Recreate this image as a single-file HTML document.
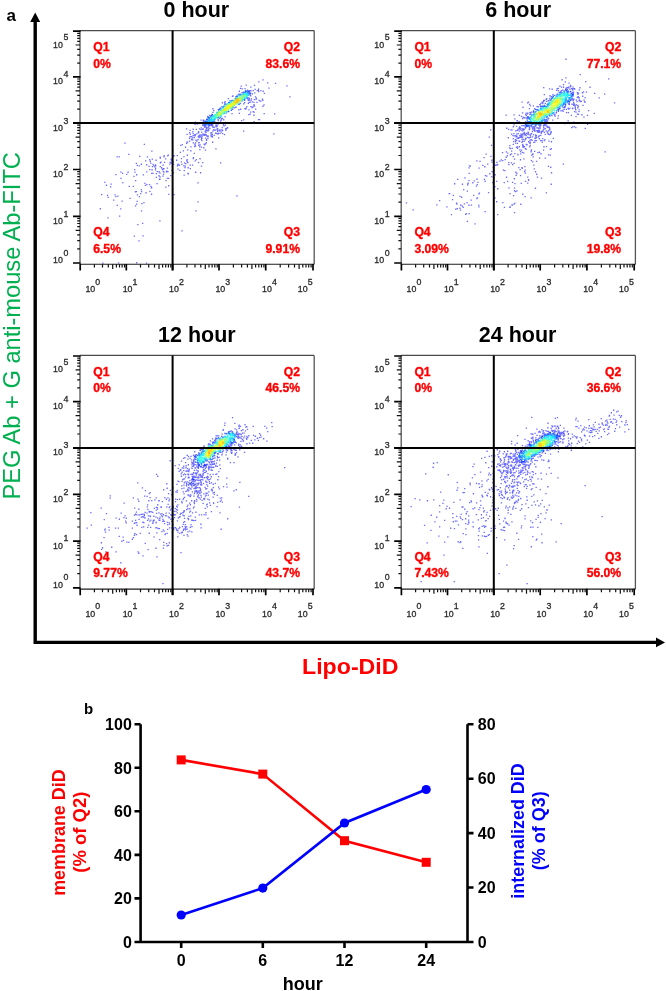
<!DOCTYPE html>
<html><head><meta charset="utf-8"><style>
html,body{margin:0;padding:0;background:#fff;width:666px;height:991px;overflow:hidden}
svg{display:block;will-change:transform}
text{font-family:"Liberation Sans",sans-serif}
</style></head><body>
<svg width="666" height="991" viewBox="0 0 666 991">
<path d="M35.2 22 V642.4 H656" fill="none" stroke="#000" stroke-width="3.4"/>
<path d="M35.2 12.5 L30.2 22 L40.2 22 Z" fill="#000"/>
<path d="M665 642.4 L656 637.6 L656 647.2 Z" fill="#000"/>
<text x="6.5" y="20.7" font-weight="700" font-size="17" fill="#000">a</text>
<text transform="translate(19.6,499.6) rotate(-90)" font-size="23.4" fill="#00B050" textLength="347.5" lengthAdjust="spacingAndGlyphs">PEG Ab + G anti-mouse Ab-FITC</text>
<text x="302" y="673.8" font-weight="700" font-size="22.5" fill="#FF0000" textLength="96.5" lengthAdjust="spacingAndGlyphs">Lipo-DiD</text>
<g transform="translate(0,0)"><g transform="translate(80,30.9)"><path fill="#4646ff" fill-opacity="0.8" d="M65.9 231.6h1.3v1.3h-1.3zM22.3 231.5h1.3v1.3h-1.3zM58.4 209.3h1.3v1.3h-1.3zM56.0 231.2h1.3v1.3h-1.3zM37.9 231.3h1.3v1.3h-1.3zM79.3 189.3h1.3v1.3h-1.3zM101.3 199.3h1.3v1.3h-1.3zM60.9 179.3h1.3v1.3h-1.3zM27.3 186.3h1.3v1.3h-1.3zM117.3 151.3h1.3v1.3h-1.3zM115.3 179.3h1.3v1.3h-1.3zM156.3 164.3h1.3v1.3h-1.3zM193.2 102.3h1.3v1.3h-1.3zM194.0 82.3h1.3v1.3h-1.3zM59.1 124.9h1.3v1.3h-1.3zM209.3 65.3h1.3v1.3h-1.3zM206.3 54.4h1.3v1.3h-1.3zM21.0 163.1h1.3v1.3h-1.3zM194.9 51.9h1.3v1.3h-1.3zM88.0 154.2h1.3v1.3h-1.3zM151.4 82.0h1.3v1.3h-1.3zM86.8 136.6h1.3v1.3h-1.3zM91.9 157.5h1.3v1.3h-1.3zM53.3 144.8h1.3v1.3h-1.3zM138.0 106.4h1.3v1.3h-1.3zM62.4 204.3h1.3v1.3h-1.3zM85.2 155.5h1.3v1.3h-1.3zM33.1 168.5h1.3v1.3h-1.3zM30.5 152.6h1.3v1.3h-1.3zM48.2 122.8h1.3v1.3h-1.3zM19.7 177.2h1.3v1.3h-1.3zM41.5 169.5h1.3v1.3h-1.3zM25.8 153.7h1.3v1.3h-1.3zM88.2 162.8h1.3v1.3h-1.3zM44.3 111.5h1.3v1.3h-1.3zM49.4 166.9h1.3v1.3h-1.3zM57.2 193.1h1.3v1.3h-1.3zM48.6 154.9h1.3v1.3h-1.3zM135.3 117.3h1.3v1.3h-1.3zM132.0 110.7h1.3v1.3h-1.3zM173.8 53.8h1.3v1.3h-1.3zM188.3 56.5h1.3v1.3h-1.3zM173.5 90.2h1.3v1.3h-1.3zM119.4 127.2h1.3v1.3h-1.3zM158.7 81.9h1.3v1.3h-1.3zM115.0 140.7h1.3v1.3h-1.3zM113.7 121.8h1.3v1.3h-1.3zM163.0 99.6h1.3v1.3h-1.3zM181.5 91.3h1.3v1.3h-1.3zM140.0 131.4h1.3v1.3h-1.3zM122.1 131.1h1.3v1.3h-1.3zM119.9 141.2h1.3v1.3h-1.3zM106.7 123.7h1.3v1.3h-1.3zM120.8 134.5h1.3v1.3h-1.3zM178.2 50.3h1.3v1.3h-1.3zM71.2 119.6h1.3v1.3h-1.3zM75.4 128.7h1.3v1.3h-1.3zM96.0 128.7h1.3v1.3h-1.3zM92.0 118.7h1.3v1.3h-1.3zM187.1 51.4h1.3v1.3h-1.3zM183.5 82.0h1.3v1.3h-1.3zM182.3 48.4h1.3v1.3h-1.3zM36.6 173.9h1.3v1.3h-1.3zM24.2 150.9h1.3v1.3h-1.3zM35.2 143.0h1.3v1.3h-1.3zM40.4 146.8h1.3v1.3h-1.3zM76.4 152.1h1.3v1.3h-1.3zM63.7 112.8h1.3v1.3h-1.3zM42.2 151.0h1.3v1.3h-1.3zM93.4 163.1h1.3v1.3h-1.3zM62.7 143.3h1.3v1.3h-1.3zM117.4 170.4h1.3v1.3h-1.3zM62.0 191.8h1.3v1.3h-1.3zM55.0 149.0h1.3v1.3h-1.3zM40.1 177.3h1.3v1.3h-1.3zM30.0 155.4h1.3v1.3h-1.3zM53.7 204.6h1.3v1.3h-1.3zM39.0 184.6h1.3v1.3h-1.3zM52.7 154.9h1.3v1.3h-1.3zM71.0 141.9h1.3v1.3h-1.3zM46.1 142.8h1.3v1.3h-1.3zM55.8 160.1h1.3v1.3h-1.3zM56.0 143.2h1.3v1.3h-1.3zM56.5 169.8h1.3v1.3h-1.3zM90.2 144.1h1.3v1.3h-1.3zM56.8 163.4h1.3v1.3h-1.3zM27.5 165.9h1.3v1.3h-1.3zM160.0 77.7h1.3v1.3h-1.3zM100.1 113.9h1.3v1.3h-1.3zM103.6 139.0h1.3v1.3h-1.3zM79.7 126.6h1.3v1.3h-1.3zM177.9 88.0h1.3v1.3h-1.3zM83.9 130.9h1.3v1.3h-1.3zM117.9 131.1h1.3v1.3h-1.3zM165.5 53.5h1.3v1.3h-1.3zM60.7 132.7h1.3v1.3h-1.3zM110.3 115.4h1.3v1.3h-1.3zM124.8 118.6h1.3v1.3h-1.3zM96.7 124.1h1.3v1.3h-1.3zM161.0 89.1h1.3v1.3h-1.3zM110.2 119.2h1.3v1.3h-1.3zM107.2 118.4h1.3v1.3h-1.3zM103.5 143.5h1.3v1.3h-1.3zM97.4 137.5h1.3v1.3h-1.3zM173.3 83.7h1.3v1.3h-1.3zM85.0 127.4h1.3v1.3h-1.3zM183.7 61.9h1.3v1.3h-1.3zM99.7 120.8h1.3v1.3h-1.3zM101.6 113.1h1.3v1.3h-1.3zM105.9 97.4h1.3v1.3h-1.3zM143.9 103.0h1.3v1.3h-1.3zM91.3 138.7h1.3v1.3h-1.3zM92.8 141.3h1.3v1.3h-1.3zM182.3 74.7h1.3v1.3h-1.3zM178.9 88.1h1.3v1.3h-1.3zM87.7 123.6h1.3v1.3h-1.3zM183.4 73.3h1.3v1.3h-1.3zM69.1 138.1h1.3v1.3h-1.3zM100.8 127.1h1.3v1.3h-1.3zM119.2 118.0h1.3v1.3h-1.3zM106.5 102.9h1.3v1.3h-1.3zM70.9 162.7h1.3v1.3h-1.3zM65.4 161.2h1.3v1.3h-1.3zM79.5 125.5h1.3v1.3h-1.3zM65.0 129.4h1.3v1.3h-1.3zM36.5 125.3h1.3v1.3h-1.3zM54.0 138.0h1.3v1.3h-1.3zM60.7 158.1h1.3v1.3h-1.3zM61.2 172.0h1.3v1.3h-1.3zM63.3 171.0h1.3v1.3h-1.3zM40.3 140.5h1.3v1.3h-1.3zM71.7 127.6h1.3v1.3h-1.3zM132.3 77.2h1.3v1.3h-1.3zM80.4 130.6h1.3v1.3h-1.3zM54.8 160.2h1.3v1.3h-1.3zM54.9 174.3h1.3v1.3h-1.3zM26.9 163.8h1.3v1.3h-1.3zM47.4 140.7h1.3v1.3h-1.3zM163.7 91.0h1.3v1.3h-1.3zM107.7 142.2h1.3v1.3h-1.3zM103.3 125.1h1.3v1.3h-1.3zM99.2 138.8h1.3v1.3h-1.3zM38.6 125.4h1.3v1.3h-1.3zM66.8 125.4h1.3v1.3h-1.3zM79.8 131.2h1.3v1.3h-1.3zM72.4 141.8h1.3v1.3h-1.3zM41.9 141.8h1.3v1.3h-1.3zM66.1 140.4h1.3v1.3h-1.3zM118.4 92.1h1.3v1.3h-1.3zM112.8 126.2h1.3v1.3h-1.3zM173.4 80.7h1.3v1.3h-1.3zM163.1 88.3h1.3v1.3h-1.3zM104.9 115.7h1.3v1.3h-1.3zM111.9 133.5h1.3v1.3h-1.3zM107.5 136.2h1.3v1.3h-1.3zM112.6 127.0h1.3v1.3h-1.3zM112.6 97.7h1.3v1.3h-1.3zM54.4 140.6h1.3v1.3h-1.3zM71.0 156.0h1.3v1.3h-1.3zM168.2 83.1h1.3v1.3h-1.3zM85.4 149.1h1.3v1.3h-1.3zM64.8 153.9h1.3v1.3h-1.3zM34.4 163.3h1.3v1.3h-1.3zM86.6 146.8h1.3v1.3h-1.3zM64.3 151.8h1.3v1.3h-1.3zM182.6 59.7h1.3v1.3h-1.3zM165.0 77.6h1.3v1.3h-1.3zM145.1 90.9h1.3v1.3h-1.3zM37.2 164.5h1.3v1.3h-1.3zM168.3 78.4h1.3v1.3h-1.3zM100.7 130.3h1.3v1.3h-1.3zM159.9 56.8h1.3v1.3h-1.3zM123.2 116.2h1.3v1.3h-1.3zM79.4 147.6h1.3v1.3h-1.3zM68.9 153.1h1.3v1.3h-1.3zM70.7 156.2h1.3v1.3h-1.3zM133.1 79.1h1.3v1.3h-1.3zM60.9 160.1h1.3v1.3h-1.3zM55.7 131.9h1.3v1.3h-1.3zM69.3 159.8h1.3v1.3h-1.3zM56.6 133.8h1.3v1.3h-1.3zM58.7 165.1h1.3v1.3h-1.3zM35.3 165.0h1.3v1.3h-1.3zM83.5 124.2h1.3v1.3h-1.3zM107.3 141.8h1.3v1.3h-1.3zM93.0 124.6h1.3v1.3h-1.3zM115.7 128.0h1.3v1.3h-1.3zM160.6 54.6h1.3v1.3h-1.3zM174.8 65.3h1.3v1.3h-1.3zM102.7 119.3h1.3v1.3h-1.3zM114.7 90.6h1.3v1.3h-1.3zM158.2 78.2h1.3v1.3h-1.3zM59.9 162.0h1.3v1.3h-1.3zM147.7 67.1h1.3v1.3h-1.3zM114.4 92.7h1.3v1.3h-1.3zM68.5 134.9h1.3v1.3h-1.3zM56.0 172.5h1.3v1.3h-1.3zM83.4 125.2h1.3v1.3h-1.3zM91.6 135.0h1.3v1.3h-1.3zM69.1 128.0h1.3v1.3h-1.3zM71.4 138.2h1.3v1.3h-1.3zM66.0 133.2h1.3v1.3h-1.3zM66.2 153.0h1.3v1.3h-1.3zM74.8 138.3h1.3v1.3h-1.3zM89.2 132.5h1.3v1.3h-1.3zM88.0 146.8h1.3v1.3h-1.3zM116.6 92.6h1.3v1.3h-1.3zM164.2 77.1h1.3v1.3h-1.3zM82.3 144.6h1.3v1.3h-1.3zM58.6 134.3h1.3v1.3h-1.3zM79.0 147.9h1.3v1.3h-1.3zM109.6 133.5h1.3v1.3h-1.3zM124.0 113.3h1.3v1.3h-1.3zM166.2 75.0h1.3v1.3h-1.3zM109.4 98.8h1.3v1.3h-1.3zM97.2 132.5h1.3v1.3h-1.3zM76.6 140.0h1.3v1.3h-1.3zM96.8 134.2h1.3v1.3h-1.3zM70.4 154.9h1.3v1.3h-1.3zM78.5 140.2h1.3v1.3h-1.3zM182.1 68.7h1.3v1.3h-1.3zM85.9 140.2h1.3v1.3h-1.3zM93.5 124.0h1.3v1.3h-1.3zM125.1 112.2h1.3v1.3h-1.3zM106.1 111.8h1.3v1.3h-1.3zM119.0 97.3h1.3v1.3h-1.3zM75.8 142.1h1.3v1.3h-1.3zM114.5 129.3h1.3v1.3h-1.3zM86.1 139.6h1.3v1.3h-1.3zM87.3 140.0h1.3v1.3h-1.3zM104.3 136.0h1.3v1.3h-1.3zM106.4 110.6h1.3v1.3h-1.3zM109.7 137.1h1.3v1.3h-1.3zM142.0 102.0h1.3v1.3h-1.3zM123.5 112.6h1.3v1.3h-1.3zM87.0 124.3h1.3v1.3h-1.3zM181.8 67.5h1.3v1.3h-1.3zM170.2 55.5h1.3v1.3h-1.3zM174.5 57.8h1.3v1.3h-1.3zM75.7 145.8h1.3v1.3h-1.3zM107.0 110.5h1.3v1.3h-1.3zM104.7 134.6h1.3v1.3h-1.3zM78.8 147.7h1.3v1.3h-1.3zM167.7 71.8h1.3v1.3h-1.3zM170.0 80.6h1.3v1.3h-1.3zM155.5 75.6h1.3v1.3h-1.3zM103.2 134.4h1.3v1.3h-1.3zM98.8 133.7h1.3v1.3h-1.3zM126.0 108.7h1.3v1.3h-1.3zM169.5 82.6h1.3v1.3h-1.3zM163.0 72.3h1.3v1.3h-1.3zM115.7 97.9h1.3v1.3h-1.3zM125.8 108.2h1.3v1.3h-1.3zM108.9 106.8h1.3v1.3h-1.3zM82.7 140.1h1.3v1.3h-1.3zM101.2 132.8h1.3v1.3h-1.3zM172.6 59.0h1.3v1.3h-1.3zM91.7 126.9h1.3v1.3h-1.3zM179.5 69.5h1.3v1.3h-1.3zM180.2 69.6h1.3v1.3h-1.3zM114.5 113.8h1.3v1.3h-1.3zM142.9 93.2h1.3v1.3h-1.3zM165.6 76.6h1.3v1.3h-1.3zM114.8 114.6h1.3v1.3h-1.3zM78.4 144.2h1.3v1.3h-1.3zM174.1 61.3h1.3v1.3h-1.3zM161.6 57.3h1.3v1.3h-1.3zM178.0 60.0h1.3v1.3h-1.3zM114.1 115.1h1.3v1.3h-1.3zM69.6 129.7h1.3v1.3h-1.3zM177.9 57.7h1.3v1.3h-1.3zM180.2 59.1h1.3v1.3h-1.3zM177.7 59.1h1.3v1.3h-1.3zM172.6 80.1h1.3v1.3h-1.3zM141.8 71.2h1.3v1.3h-1.3zM164.4 57.0h1.3v1.3h-1.3zM79.4 145.3h1.3v1.3h-1.3zM109.0 101.0h1.3v1.3h-1.3zM120.4 88.5h1.3v1.3h-1.3zM106.3 128.8h1.3v1.3h-1.3zM145.4 97.8h1.3v1.3h-1.3zM139.4 101.8h1.3v1.3h-1.3zM152.4 64.3h1.3v1.3h-1.3zM119.5 113.3h1.3v1.3h-1.3zM118.3 113.6h1.3v1.3h-1.3zM97.6 133.3h1.3v1.3h-1.3zM112.2 100.1h1.3v1.3h-1.3zM82.9 142.8h1.3v1.3h-1.3zM119.0 115.3h1.3v1.3h-1.3zM120.8 115.5h1.3v1.3h-1.3zM175.0 77.6h1.3v1.3h-1.3zM176.7 59.1h1.3v1.3h-1.3zM131.5 105.6h1.3v1.3h-1.3zM106.5 128.1h1.3v1.3h-1.3zM176.3 70.8h1.3v1.3h-1.3zM175.5 67.5h1.3v1.3h-1.3zM170.3 75.0h1.3v1.3h-1.3zM173.4 73.2h1.3v1.3h-1.3zM178.5 68.8h1.3v1.3h-1.3zM109.0 109.6h1.3v1.3h-1.3zM173.9 74.6h1.3v1.3h-1.3zM175.8 66.7h1.3v1.3h-1.3zM70.0 131.5h1.3v1.3h-1.3zM151.8 64.9h1.3v1.3h-1.3zM120.6 96.3h1.3v1.3h-1.3zM158.7 59.7h1.3v1.3h-1.3zM118.1 113.7h1.3v1.3h-1.3zM125.7 111.1h1.3v1.3h-1.3zM133.1 98.2h1.3v1.3h-1.3zM118.1 111.4h1.3v1.3h-1.3zM173.7 68.1h1.3v1.3h-1.3zM105.2 132.0h1.3v1.3h-1.3zM114.2 112.5h1.3v1.3h-1.3zM171.5 75.6h1.3v1.3h-1.3zM110.9 107.7h1.3v1.3h-1.3zM112.2 108.4h1.3v1.3h-1.3zM92.9 132.9h1.3v1.3h-1.3zM90.4 127.9h1.3v1.3h-1.3zM79.4 141.5h1.3v1.3h-1.3zM82.1 138.4h1.3v1.3h-1.3zM107.3 131.1h1.3v1.3h-1.3zM83.4 140.5h1.3v1.3h-1.3zM74.2 135.3h1.3v1.3h-1.3zM112.7 111.3h1.3v1.3h-1.3zM82.6 133.6h1.3v1.3h-1.3zM79.6 135.0h1.3v1.3h-1.3zM132.3 80.8h1.3v1.3h-1.3zM74.9 133.4h1.3v1.3h-1.3zM75.1 134.2h1.3v1.3h-1.3zM90.8 128.6h1.3v1.3h-1.3zM141.5 98.4h1.3v1.3h-1.3zM110.8 105.1h1.3v1.3h-1.3zM142.0 99.0h1.3v1.3h-1.3zM140.2 98.3h1.3v1.3h-1.3zM133.6 103.9h1.3v1.3h-1.3zM109.6 102.7h1.3v1.3h-1.3zM111.3 108.3h1.3v1.3h-1.3zM114.9 111.4h1.3v1.3h-1.3zM106.3 129.7h1.3v1.3h-1.3zM115.3 108.7h1.3v1.3h-1.3zM103.9 131.3h1.3v1.3h-1.3zM117.3 108.0h1.3v1.3h-1.3zM109.4 105.2h1.3v1.3h-1.3zM173.2 73.6h1.3v1.3h-1.3zM107.0 130.9h1.3v1.3h-1.3zM82.4 133.6h1.3v1.3h-1.3zM171.5 76.0h1.3v1.3h-1.3zM175.3 67.6h1.3v1.3h-1.3zM172.6 75.4h1.3v1.3h-1.3zM75.0 136.9h1.3v1.3h-1.3zM141.6 96.1h1.3v1.3h-1.3zM130.4 103.8h1.3v1.3h-1.3zM137.5 101.6h1.3v1.3h-1.3zM146.5 96.6h1.3v1.3h-1.3zM147.0 96.2h1.3v1.3h-1.3zM92.4 130.4h1.3v1.3h-1.3zM83.0 137.2h1.3v1.3h-1.3zM121.2 109.1h1.3v1.3h-1.3zM130.7 105.1h1.3v1.3h-1.3zM135.0 101.7h1.3v1.3h-1.3zM144.8 93.6h1.3v1.3h-1.3zM130.6 103.4h1.3v1.3h-1.3zM132.2 99.5h1.3v1.3h-1.3zM135.5 101.9h1.3v1.3h-1.3zM138.6 98.7h1.3v1.3h-1.3zM71.8 135.0h1.3v1.3h-1.3zM120.8 107.8h1.3v1.3h-1.3zM118.1 101.3h1.3v1.3h-1.3zM117.9 100.2h1.3v1.3h-1.3zM136.6 102.4h1.3v1.3h-1.3zM91.3 131.6h1.3v1.3h-1.3zM145.7 96.9h1.3v1.3h-1.3zM143.1 88.2h1.3v1.3h-1.3zM143.4 94.6h1.3v1.3h-1.3zM171.6 70.3h1.3v1.3h-1.3zM91.5 129.7h1.3v1.3h-1.3zM116.1 109.5h1.3v1.3h-1.3zM168.5 70.9h1.3v1.3h-1.3zM173.3 70.9h1.3v1.3h-1.3zM139.9 89.6h1.3v1.3h-1.3zM117.7 101.2h1.3v1.3h-1.3zM81.0 136.0h1.3v1.3h-1.3zM83.3 137.1h1.3v1.3h-1.3zM72.4 132.8h1.3v1.3h-1.3zM73.2 134.1h1.3v1.3h-1.3zM81.4 137.3h1.3v1.3h-1.3zM137.7 91.7h1.3v1.3h-1.3zM137.8 102.2h1.3v1.3h-1.3zM118.5 111.0h1.3v1.3h-1.3zM171.7 62.3h1.3v1.3h-1.3zM121.0 100.5h1.3v1.3h-1.3zM89.5 130.8h1.3v1.3h-1.3zM127.1 84.8h1.3v1.3h-1.3zM130.0 101.6h1.3v1.3h-1.3zM131.0 101.2h1.3v1.3h-1.3zM114.7 103.0h1.3v1.3h-1.3zM90.2 131.3h1.3v1.3h-1.3zM136.3 97.5h1.3v1.3h-1.3zM120.4 98.0h1.3v1.3h-1.3zM122.0 97.7h1.3v1.3h-1.3zM144.4 85.0h1.3v1.3h-1.3zM137.1 98.5h1.3v1.3h-1.3zM145.2 98.9h1.3v1.3h-1.3zM131.8 104.7h1.3v1.3h-1.3zM144.0 71.3h1.3v1.3h-1.3zM140.7 100.6h1.3v1.3h-1.3zM127.3 106.8h1.3v1.3h-1.3zM134.1 98.6h1.3v1.3h-1.3zM114.1 104.0h1.3v1.3h-1.3zM117.4 108.2h1.3v1.3h-1.3zM113.7 103.4h1.3v1.3h-1.3zM131.7 102.8h1.3v1.3h-1.3zM134.8 98.6h1.3v1.3h-1.3zM114.5 104.4h1.3v1.3h-1.3zM169.5 70.7h1.3v1.3h-1.3zM114.4 104.0h1.3v1.3h-1.3zM125.0 106.6h1.3v1.3h-1.3zM113.6 106.0h1.3v1.3h-1.3zM122.6 88.7h1.3v1.3h-1.3zM164.0 71.0h1.3v1.3h-1.3zM144.4 70.2h1.3v1.3h-1.3zM127.6 104.6h1.3v1.3h-1.3zM112.4 101.9h1.3v1.3h-1.3zM145.0 97.0h1.3v1.3h-1.3zM170.4 68.9h1.3v1.3h-1.3zM170.9 67.4h1.3v1.3h-1.3zM132.3 95.7h1.3v1.3h-1.3zM137.3 92.6h1.3v1.3h-1.3zM122.6 97.3h1.3v1.3h-1.3zM141.2 75.0h1.3v1.3h-1.3zM126.3 104.6h1.3v1.3h-1.3zM135.6 92.0h1.3v1.3h-1.3zM127.2 105.0h1.3v1.3h-1.3zM167.4 68.2h1.3v1.3h-1.3zM118.3 104.2h1.3v1.3h-1.3zM137.0 97.0h1.3v1.3h-1.3zM118.2 105.2h1.3v1.3h-1.3zM170.3 59.2h1.3v1.3h-1.3zM168.0 68.7h1.3v1.3h-1.3zM168.8 68.2h1.3v1.3h-1.3zM125.1 98.6h1.3v1.3h-1.3zM126.3 104.3h1.3v1.3h-1.3zM119.3 103.7h1.3v1.3h-1.3zM136.9 99.7h1.3v1.3h-1.3zM112.4 104.2h1.3v1.3h-1.3zM117.6 105.2h1.3v1.3h-1.3zM119.2 104.1h1.3v1.3h-1.3zM135.4 92.1h1.3v1.3h-1.3zM139.3 99.5h1.3v1.3h-1.3zM128.1 98.6h1.3v1.3h-1.3zM127.6 98.6h1.3v1.3h-1.3zM112.0 106.3h1.3v1.3h-1.3zM136.0 93.8h1.3v1.3h-1.3zM135.8 95.3h1.3v1.3h-1.3zM127.5 99.3h1.3v1.3h-1.3zM124.8 100.5h1.3v1.3h-1.3zM170.0 64.3h1.3v1.3h-1.3zM140.6 87.4h1.3v1.3h-1.3zM170.0 64.2h1.3v1.3h-1.3zM136.8 94.6h1.3v1.3h-1.3zM169.7 63.9h1.3v1.3h-1.3zM124.5 99.6h1.3v1.3h-1.3zM140.5 88.7h1.3v1.3h-1.3zM122.3 102.4h1.3v1.3h-1.3zM122.3 103.3h1.3v1.3h-1.3zM127.9 97.7h1.3v1.3h-1.3zM125.7 103.3h1.3v1.3h-1.3zM118.6 106.0h1.3v1.3h-1.3zM120.6 103.3h1.3v1.3h-1.3zM133.7 95.9h1.3v1.3h-1.3zM124.1 95.8h1.3v1.3h-1.3zM125.8 100.6h1.3v1.3h-1.3zM116.2 102.3h1.3v1.3h-1.3zM120.9 106.8h1.3v1.3h-1.3zM121.1 105.9h1.3v1.3h-1.3zM127.1 99.4h1.3v1.3h-1.3zM119.7 105.3h1.3v1.3h-1.3zM121.2 106.9h1.3v1.3h-1.3zM125.0 103.6h1.3v1.3h-1.3zM121.4 104.7h1.3v1.3h-1.3zM123.7 103.9h1.3v1.3h-1.3zM165.1 59.3h1.3v1.3h-1.3zM141.9 86.9h1.3v1.3h-1.3zM137.6 89.0h1.3v1.3h-1.3zM137.5 88.0h1.3v1.3h-1.3zM141.4 87.1h1.3v1.3h-1.3zM169.1 59.1h1.3v1.3h-1.3zM135.2 94.8h1.3v1.3h-1.3zM123.4 103.2h1.3v1.3h-1.3zM123.5 103.1h1.3v1.3h-1.3zM132.1 94.2h1.3v1.3h-1.3zM124.5 102.5h1.3v1.3h-1.3zM135.2 94.3h1.3v1.3h-1.3zM129.3 96.9h1.3v1.3h-1.3zM127.8 95.5h1.3v1.3h-1.3zM126.4 98.8h1.3v1.3h-1.3zM152.0 77.9h1.3v1.3h-1.3zM135.0 92.4h1.3v1.3h-1.3zM135.3 92.2h1.3v1.3h-1.3zM153.6 76.3h1.3v1.3h-1.3zM154.7 75.9h1.3v1.3h-1.3zM169.6 62.4h1.3v1.3h-1.3zM170.0 61.8h1.3v1.3h-1.3zM127.3 85.9h1.3v1.3h-1.3zM169.4 63.2h1.3v1.3h-1.3zM129.1 83.9h1.3v1.3h-1.3zM167.0 58.5h1.3v1.3h-1.3zM129.6 93.6h1.3v1.3h-1.3zM125.8 97.3h1.3v1.3h-1.3zM122.0 93.9h1.3v1.3h-1.3zM130.7 93.4h1.3v1.3h-1.3zM130.9 94.1h1.3v1.3h-1.3zM127.0 96.3h1.3v1.3h-1.3zM125.7 96.1h1.3v1.3h-1.3zM159.1 63.0h1.3v1.3h-1.3zM122.8 90.8h1.3v1.3h-1.3zM159.3 62.4h1.3v1.3h-1.3zM157.7 63.2h1.3v1.3h-1.3zM157.7 62.9h1.3v1.3h-1.3zM122.5 90.5h1.3v1.3h-1.3zM123.0 90.2h1.3v1.3h-1.3zM159.8 71.9h1.3v1.3h-1.3zM159.5 72.0h1.3v1.3h-1.3zM145.5 81.5h1.3v1.3h-1.3zM144.7 72.6h1.3v1.3h-1.3zM144.1 72.8h1.3v1.3h-1.3zM123.4 88.9h1.3v1.3h-1.3zM122.5 91.5h1.3v1.3h-1.3zM127.5 94.0h1.3v1.3h-1.3zM128.3 94.9h1.3v1.3h-1.3zM122.4 92.8h1.3v1.3h-1.3zM134.0 90.0h1.3v1.3h-1.3zM129.0 94.1h1.3v1.3h-1.3zM167.4 66.4h1.3v1.3h-1.3zM168.6 66.7h1.3v1.3h-1.3zM139.8 85.8h1.3v1.3h-1.3zM149.4 69.1h1.3v1.3h-1.3zM163.1 60.5h1.3v1.3h-1.3zM161.4 61.2h1.3v1.3h-1.3zM162.7 60.6h1.3v1.3h-1.3zM150.9 69.2h1.3v1.3h-1.3zM123.6 94.5h1.3v1.3h-1.3zM125.1 94.2h1.3v1.3h-1.3zM123.4 94.2h1.3v1.3h-1.3zM123.8 94.6h1.3v1.3h-1.3zM125.2 94.8h1.3v1.3h-1.3zM131.5 91.9h1.3v1.3h-1.3zM132.2 92.2h1.3v1.3h-1.3zM140.0 77.2h1.3v1.3h-1.3zM139.6 76.3h1.3v1.3h-1.3zM139.9 77.0h1.3v1.3h-1.3z"/><path fill="#0019ff" fill-opacity="0.8" d="M168.4 60.2h1.3v1.3h-1.3zM167.5 60.1h1.3v1.3h-1.3zM167.8 59.7h1.3v1.3h-1.3zM131.4 82.9h1.3v1.3h-1.3zM131.7 83.0h1.3v1.3h-1.3zM130.7 91.5h1.3v1.3h-1.3zM168.2 60.3h1.3v1.3h-1.3zM168.4 60.3h1.3v1.3h-1.3zM169.2 61.3h1.3v1.3h-1.3zM131.3 93.0h1.3v1.3h-1.3zM130.3 92.1h1.3v1.3h-1.3zM129.7 91.4h1.3v1.3h-1.3zM168.5 60.0h1.3v1.3h-1.3zM168.1 60.2h1.3v1.3h-1.3z"/><path fill="#0020ff" fill-opacity="0.8" d="M156.6 64.9h1.3v1.3h-1.3zM156.3 65.1h1.3v1.3h-1.3zM156.1 64.7h1.3v1.3h-1.3zM164.0 68.5h1.3v1.3h-1.3zM156.6 64.7h1.3v1.3h-1.3zM164.0 67.7h1.3v1.3h-1.3z"/><path fill="#0027ff" fill-opacity="0.8" d="M142.8 75.0h1.3v1.3h-1.3zM126.3 89.3h1.3v1.3h-1.3zM148.1 80.0h1.3v1.3h-1.3zM126.7 87.7h1.3v1.3h-1.3zM131.2 84.4h1.3v1.3h-1.3zM126.0 87.8h1.3v1.3h-1.3zM130.6 84.0h1.3v1.3h-1.3zM130.5 84.3h1.3v1.3h-1.3zM130.3 84.8h1.3v1.3h-1.3zM147.6 80.1h1.3v1.3h-1.3zM130.4 84.6h1.3v1.3h-1.3z"/><path fill="#0035ff" fill-opacity="0.8" d="M138.8 77.7h1.3v1.3h-1.3zM137.8 78.0h1.3v1.3h-1.3zM138.1 79.0h1.3v1.3h-1.3zM143.7 81.7h1.3v1.3h-1.3zM151.2 77.4h1.3v1.3h-1.3zM150.6 78.8h1.3v1.3h-1.3z"/><path fill="#003cff" fill-opacity="0.8" d="M160.0 63.3h1.3v1.3h-1.3z"/><path fill="#0043ff" fill-opacity="0.8" d="M148.7 71.1h1.3v1.3h-1.3zM124.3 90.1h1.3v1.3h-1.3zM138.5 86.7h1.3v1.3h-1.3zM125.0 90.7h1.3v1.3h-1.3zM149.1 71.1h1.3v1.3h-1.3zM137.7 85.8h1.3v1.3h-1.3zM167.6 63.6h1.3v1.3h-1.3zM138.0 85.7h1.3v1.3h-1.3zM138.0 85.4h1.3v1.3h-1.3zM124.9 89.8h1.3v1.3h-1.3zM149.2 70.8h1.3v1.3h-1.3zM124.9 89.7h1.3v1.3h-1.3zM148.1 71.0h1.3v1.3h-1.3zM148.8 71.2h1.3v1.3h-1.3z"/><path fill="#004aff" fill-opacity="0.8" d="M128.8 85.9h1.3v1.3h-1.3zM124.4 93.0h1.3v1.3h-1.3zM128.2 87.3h1.3v1.3h-1.3zM128.8 86.8h1.3v1.3h-1.3zM124.7 92.1h1.3v1.3h-1.3zM127.8 85.5h1.3v1.3h-1.3zM124.0 91.6h1.3v1.3h-1.3zM123.4 92.2h1.3v1.3h-1.3zM128.2 86.0h1.3v1.3h-1.3zM125.3 91.8h1.3v1.3h-1.3zM125.0 91.6h1.3v1.3h-1.3zM123.9 93.2h1.3v1.3h-1.3zM125.2 92.2h1.3v1.3h-1.3zM124.1 91.7h1.3v1.3h-1.3zM128.4 86.9h1.3v1.3h-1.3z"/><path fill="#0050ff" fill-opacity="0.8" d="M128.2 93.3h1.3v1.3h-1.3zM128.4 92.0h1.3v1.3h-1.3zM127.5 92.5h1.3v1.3h-1.3zM129.1 93.0h1.3v1.3h-1.3z"/><path fill="#0057ff" fill-opacity="0.8" d="M133.4 88.7h1.3v1.3h-1.3zM165.3 60.0h1.3v1.3h-1.3zM154.7 67.1h1.3v1.3h-1.3zM155.1 67.3h1.3v1.3h-1.3zM164.4 60.7h1.3v1.3h-1.3zM164.9 61.3h1.3v1.3h-1.3zM133.4 88.6h1.3v1.3h-1.3zM163.4 61.2h1.3v1.3h-1.3zM133.6 87.8h1.3v1.3h-1.3zM165.0 59.4h1.3v1.3h-1.3zM155.0 65.4h1.3v1.3h-1.3zM155.3 67.3h1.3v1.3h-1.3zM134.7 87.4h1.3v1.3h-1.3z"/><path fill="#005eff" fill-opacity="0.8" d="M166.2 59.7h1.3v1.3h-1.3zM167.0 61.2h1.3v1.3h-1.3zM166.3 60.0h1.3v1.3h-1.3z"/><path fill="#0065ff" fill-opacity="0.8" d="M132.6 90.1h1.3v1.3h-1.3zM125.4 93.1h1.3v1.3h-1.3zM126.2 92.1h1.3v1.3h-1.3zM126.3 92.9h1.3v1.3h-1.3zM132.0 90.2h1.3v1.3h-1.3zM132.4 91.0h1.3v1.3h-1.3zM125.5 91.4h1.3v1.3h-1.3zM131.7 90.0h1.3v1.3h-1.3zM126.9 91.9h1.3v1.3h-1.3z"/><path fill="#006cff" fill-opacity="0.8" d="M167.8 61.5h1.3v1.3h-1.3zM168.6 62.0h1.3v1.3h-1.3zM168.4 62.4h1.3v1.3h-1.3z"/><path fill="#0073ff" fill-opacity="0.8" d="M125.7 90.0h1.3v1.3h-1.3zM126.0 90.5h1.3v1.3h-1.3zM125.6 91.3h1.3v1.3h-1.3zM165.5 66.2h1.3v1.3h-1.3zM127.2 89.8h1.3v1.3h-1.3zM127.2 90.8h1.3v1.3h-1.3zM127.2 90.9h1.3v1.3h-1.3zM126.8 91.0h1.3v1.3h-1.3zM125.4 91.1h1.3v1.3h-1.3zM125.5 91.3h1.3v1.3h-1.3zM151.7 75.8h1.3v1.3h-1.3zM166.2 66.3h1.3v1.3h-1.3zM166.8 66.7h1.3v1.3h-1.3zM127.3 91.0h1.3v1.3h-1.3zM152.6 75.5h1.3v1.3h-1.3z"/><path fill="#0081ff" fill-opacity="0.8" d="M137.1 80.9h1.3v1.3h-1.3zM136.2 80.9h1.3v1.3h-1.3zM158.6 72.7h1.3v1.3h-1.3zM136.9 81.3h1.3v1.3h-1.3zM157.9 72.8h1.3v1.3h-1.3z"/><path fill="#008fff" fill-opacity="0.8" d="M134.9 83.1h1.3v1.3h-1.3zM131.1 90.4h1.3v1.3h-1.3zM129.4 89.5h1.3v1.3h-1.3zM134.8 83.3h1.3v1.3h-1.3zM130.7 90.9h1.3v1.3h-1.3zM135.2 83.1h1.3v1.3h-1.3zM129.4 91.3h1.3v1.3h-1.3zM130.2 90.5h1.3v1.3h-1.3zM131.2 90.5h1.3v1.3h-1.3zM129.4 90.1h1.3v1.3h-1.3zM130.0 90.5h1.3v1.3h-1.3z"/><path fill="#0096ff" fill-opacity="0.8" d="M161.3 69.5h1.3v1.3h-1.3z"/><path fill="#009dff" fill-opacity="0.8" d="M153.2 69.3h1.3v1.3h-1.3zM152.4 69.1h1.3v1.3h-1.3zM152.6 69.3h1.3v1.3h-1.3zM151.8 69.3h1.3v1.3h-1.3zM152.7 69.2h1.3v1.3h-1.3zM153.5 73.8h1.3v1.3h-1.3zM151.7 68.8h1.3v1.3h-1.3z"/><path fill="#00a4ff" fill-opacity="0.8" d="M145.7 72.6h1.3v1.3h-1.3zM163.1 63.1h1.3v1.3h-1.3zM162.1 63.2h1.3v1.3h-1.3zM162.3 63.0h1.3v1.3h-1.3zM163.0 62.4h1.3v1.3h-1.3zM161.4 63.3h1.3v1.3h-1.3zM161.5 63.2h1.3v1.3h-1.3zM162.1 62.8h1.3v1.3h-1.3zM147.3 73.1h1.3v1.3h-1.3zM145.7 73.2h1.3v1.3h-1.3zM145.7 73.3h1.3v1.3h-1.3zM161.4 63.1h1.3v1.3h-1.3zM147.2 72.4h1.3v1.3h-1.3z"/><path fill="#00aaff" fill-opacity="0.8" d="M129.2 87.6h1.3v1.3h-1.3zM129.3 90.8h1.3v1.3h-1.3zM128.5 90.0h1.3v1.3h-1.3zM128.3 90.2h1.3v1.3h-1.3zM127.8 88.9h1.3v1.3h-1.3zM128.7 89.1h1.3v1.3h-1.3zM128.7 87.9h1.3v1.3h-1.3zM129.1 87.5h1.3v1.3h-1.3zM128.2 88.5h1.3v1.3h-1.3z"/><path fill="#00bfff" fill-opacity="0.8" d="M143.7 73.5h1.3v1.3h-1.3zM131.2 86.7h1.3v1.3h-1.3zM131.2 86.3h1.3v1.3h-1.3zM133.1 84.4h1.3v1.3h-1.3zM145.6 79.7h1.3v1.3h-1.3zM145.9 79.9h1.3v1.3h-1.3zM132.8 85.1h1.3v1.3h-1.3zM145.7 79.8h1.3v1.3h-1.3zM158.9 64.2h1.3v1.3h-1.3zM145.9 80.2h1.3v1.3h-1.3zM146.2 80.2h1.3v1.3h-1.3zM158.7 63.5h1.3v1.3h-1.3zM129.8 86.1h1.3v1.3h-1.3zM145.3 75.1h1.3v1.3h-1.3zM130.8 85.7h1.3v1.3h-1.3zM132.4 84.1h1.3v1.3h-1.3zM143.6 74.4h1.3v1.3h-1.3zM130.6 86.6h1.3v1.3h-1.3zM133.1 84.2h1.3v1.3h-1.3zM145.7 79.5h1.3v1.3h-1.3zM132.5 85.0h1.3v1.3h-1.3zM132.5 84.2h1.3v1.3h-1.3zM144.0 74.5h1.3v1.3h-1.3zM133.1 84.6h1.3v1.3h-1.3zM130.9 86.1h1.3v1.3h-1.3zM143.4 74.8h1.3v1.3h-1.3zM158.9 64.4h1.3v1.3h-1.3z"/><path fill="#00c6ff" fill-opacity="0.8" d="M162.1 68.1h1.3v1.3h-1.3zM162.7 68.2h1.3v1.3h-1.3zM136.8 86.3h1.3v1.3h-1.3zM162.5 68.1h1.3v1.3h-1.3zM137.2 85.4h1.3v1.3h-1.3zM161.8 67.8h1.3v1.3h-1.3zM135.7 85.5h1.3v1.3h-1.3zM136.6 86.2h1.3v1.3h-1.3zM136.4 86.5h1.3v1.3h-1.3zM161.6 68.7h1.3v1.3h-1.3zM161.8 68.7h1.3v1.3h-1.3z"/><path fill="#00cdff" fill-opacity="0.8" d="M129.7 89.1h1.3v1.3h-1.3zM130.8 89.1h1.3v1.3h-1.3zM142.5 76.6h1.3v1.3h-1.3zM131.2 88.6h1.3v1.3h-1.3zM130.2 88.1h1.3v1.3h-1.3zM130.9 88.2h1.3v1.3h-1.3zM129.8 88.0h1.3v1.3h-1.3zM141.4 76.6h1.3v1.3h-1.3zM130.9 88.5h1.3v1.3h-1.3zM141.6 76.1h1.3v1.3h-1.3zM129.5 88.3h1.3v1.3h-1.3zM142.7 76.2h1.3v1.3h-1.3zM129.5 89.1h1.3v1.3h-1.3zM142.4 76.3h1.3v1.3h-1.3zM142.0 76.4h1.3v1.3h-1.3zM131.1 87.7h1.3v1.3h-1.3zM143.0 76.8h1.3v1.3h-1.3z"/><path fill="#00dbff" fill-opacity="0.8" d="M132.9 88.3h1.3v1.3h-1.3zM133.2 88.8h1.3v1.3h-1.3zM132.6 88.7h1.3v1.3h-1.3zM131.6 88.0h1.3v1.3h-1.3zM132.1 88.8h1.3v1.3h-1.3zM132.1 87.6h1.3v1.3h-1.3zM132.9 88.0h1.3v1.3h-1.3zM132.6 88.0h1.3v1.3h-1.3z"/><path fill="#00e2ff" fill-opacity="0.8" d="M166.9 63.0h1.3v1.3h-1.3zM165.9 62.6h1.3v1.3h-1.3zM140.4 84.1h1.3v1.3h-1.3zM140.7 84.5h1.3v1.3h-1.3zM139.8 83.5h1.3v1.3h-1.3zM140.2 85.1h1.3v1.3h-1.3zM139.9 83.6h1.3v1.3h-1.3zM166.3 62.4h1.3v1.3h-1.3zM167.2 62.7h1.3v1.3h-1.3zM166.1 62.5h1.3v1.3h-1.3zM165.7 62.1h1.3v1.3h-1.3zM166.1 63.1h1.3v1.3h-1.3zM140.2 84.1h1.3v1.3h-1.3zM166.1 61.6h1.3v1.3h-1.3zM140.1 84.3h1.3v1.3h-1.3zM166.2 62.7h1.3v1.3h-1.3zM166.6 62.6h1.3v1.3h-1.3zM166.8 61.8h1.3v1.3h-1.3zM140.1 85.3h1.3v1.3h-1.3zM166.2 62.3h1.3v1.3h-1.3z"/><path fill="#00e9ff" fill-opacity="0.8" d="M163.4 67.2h1.3v1.3h-1.3zM149.9 70.2h1.3v1.3h-1.3zM164.6 65.6h1.3v1.3h-1.3zM141.3 78.5h1.3v1.3h-1.3zM164.4 66.4h1.3v1.3h-1.3zM164.4 65.6h1.3v1.3h-1.3zM141.0 78.9h1.3v1.3h-1.3zM164.4 65.7h1.3v1.3h-1.3zM140.0 79.1h1.3v1.3h-1.3zM163.5 66.1h1.3v1.3h-1.3zM150.8 71.1h1.3v1.3h-1.3zM164.6 65.9h1.3v1.3h-1.3zM163.4 66.5h1.3v1.3h-1.3zM165.2 65.7h1.3v1.3h-1.3zM140.9 77.5h1.3v1.3h-1.3zM164.2 65.9h1.3v1.3h-1.3zM163.5 67.0h1.3v1.3h-1.3zM149.4 69.6h1.3v1.3h-1.3zM149.8 69.5h1.3v1.3h-1.3zM163.7 66.8h1.3v1.3h-1.3zM150.7 71.1h1.3v1.3h-1.3zM164.2 65.5h1.3v1.3h-1.3z"/><path fill="#00f0ff" fill-opacity="0.8" d="M165.6 63.5h1.3v1.3h-1.3zM156.6 66.8h1.3v1.3h-1.3zM166.9 64.4h1.3v1.3h-1.3zM166.8 64.5h1.3v1.3h-1.3zM166.4 63.4h1.3v1.3h-1.3zM167.1 64.2h1.3v1.3h-1.3zM167.2 63.5h1.3v1.3h-1.3zM156.4 66.0h1.3v1.3h-1.3zM165.7 63.4h1.3v1.3h-1.3zM156.1 66.9h1.3v1.3h-1.3zM165.5 65.2h1.3v1.3h-1.3zM167.2 63.6h1.3v1.3h-1.3zM156.6 65.8h1.3v1.3h-1.3zM166.2 64.1h1.3v1.3h-1.3zM156.6 65.9h1.3v1.3h-1.3zM165.4 63.6h1.3v1.3h-1.3z"/><path fill="#0cfff2" fill-opacity="0.8" d="M141.4 81.8h1.3v1.3h-1.3zM143.3 82.1h1.3v1.3h-1.3zM142.2 82.6h1.3v1.3h-1.3zM142.6 81.7h1.3v1.3h-1.3z"/><path fill="#13ffeb" fill-opacity="0.8" d="M133.6 87.3h1.3v1.3h-1.3zM134.7 85.9h1.3v1.3h-1.3zM134.0 86.6h1.3v1.3h-1.3zM134.9 85.6h1.3v1.3h-1.3zM134.7 85.8h1.3v1.3h-1.3zM134.7 86.0h1.3v1.3h-1.3zM134.1 86.9h1.3v1.3h-1.3zM134.2 86.5h1.3v1.3h-1.3zM134.8 86.4h1.3v1.3h-1.3zM133.9 86.8h1.3v1.3h-1.3zM134.1 85.4h1.3v1.3h-1.3zM134.0 85.7h1.3v1.3h-1.3z"/><path fill="#1affe4" fill-opacity="0.8" d="M134.4 83.4h1.3v1.3h-1.3zM164.5 62.3h1.3v1.3h-1.3zM163.7 61.8h1.3v1.3h-1.3zM134.8 84.0h1.3v1.3h-1.3zM134.6 84.4h1.3v1.3h-1.3zM164.0 63.2h1.3v1.3h-1.3zM134.5 84.7h1.3v1.3h-1.3zM163.5 61.9h1.3v1.3h-1.3zM134.8 85.3h1.3v1.3h-1.3zM164.3 62.2h1.3v1.3h-1.3zM134.1 85.2h1.3v1.3h-1.3zM134.2 85.2h1.3v1.3h-1.3zM165.3 63.0h1.3v1.3h-1.3zM133.5 83.7h1.3v1.3h-1.3zM133.8 85.2h1.3v1.3h-1.3zM133.7 83.9h1.3v1.3h-1.3zM135.2 85.2h1.3v1.3h-1.3zM134.4 85.1h1.3v1.3h-1.3zM165.1 63.2h1.3v1.3h-1.3zM135.1 84.6h1.3v1.3h-1.3zM135.0 84.6h1.3v1.3h-1.3zM164.7 62.3h1.3v1.3h-1.3z"/><path fill="#28ffd6" fill-opacity="0.8" d="M147.6 77.6h1.3v1.3h-1.3zM147.7 77.5h1.3v1.3h-1.3zM147.8 77.7h1.3v1.3h-1.3zM147.7 78.6h1.3v1.3h-1.3zM148.5 77.4h1.3v1.3h-1.3z"/><path fill="#2fffcf" fill-opacity="0.8" d="M160.9 65.3h1.3v1.3h-1.3zM161.2 64.0h1.3v1.3h-1.3zM160.9 64.2h1.3v1.3h-1.3zM160.9 63.7h1.3v1.3h-1.3zM160.7 63.5h1.3v1.3h-1.3zM161.2 64.7h1.3v1.3h-1.3zM160.6 65.1h1.3v1.3h-1.3zM160.7 64.8h1.3v1.3h-1.3z"/><path fill="#36ffc8" fill-opacity="0.8" d="M148.4 73.1h1.3v1.3h-1.3zM131.7 86.9h1.3v1.3h-1.3zM148.7 72.2h1.3v1.3h-1.3zM133.3 86.3h1.3v1.3h-1.3zM147.4 72.8h1.3v1.3h-1.3zM147.7 72.4h1.3v1.3h-1.3zM131.5 85.5h1.3v1.3h-1.3zM149.1 72.8h1.3v1.3h-1.3zM147.4 73.3h1.3v1.3h-1.3zM132.2 86.1h1.3v1.3h-1.3zM147.8 72.8h1.3v1.3h-1.3zM148.0 72.5h1.3v1.3h-1.3zM148.6 72.6h1.3v1.3h-1.3zM149.1 72.0h1.3v1.3h-1.3zM131.7 86.5h1.3v1.3h-1.3zM131.5 85.7h1.3v1.3h-1.3zM148.3 72.9h1.3v1.3h-1.3zM132.0 87.0h1.3v1.3h-1.3z"/><path fill="#3dffc1" fill-opacity="0.8" d="M135.8 81.4h1.3v1.3h-1.3zM136.0 82.9h1.3v1.3h-1.3zM136.5 83.2h1.3v1.3h-1.3zM137.1 82.7h1.3v1.3h-1.3zM135.8 82.8h1.3v1.3h-1.3zM136.6 83.2h1.3v1.3h-1.3zM135.4 82.8h1.3v1.3h-1.3zM136.1 82.0h1.3v1.3h-1.3z"/><path fill="#44ffba" fill-opacity="0.8" d="M150.0 75.9h1.3v1.3h-1.3zM145.3 79.4h1.3v1.3h-1.3zM150.7 75.8h1.3v1.3h-1.3zM150.1 76.9h1.3v1.3h-1.3zM150.6 76.1h1.3v1.3h-1.3zM150.7 75.4h1.3v1.3h-1.3zM144.4 80.4h1.3v1.3h-1.3zM149.4 76.8h1.3v1.3h-1.3zM143.9 80.9h1.3v1.3h-1.3zM149.9 76.9h1.3v1.3h-1.3zM145.2 80.6h1.3v1.3h-1.3zM145.2 80.2h1.3v1.3h-1.3zM144.4 80.0h1.3v1.3h-1.3zM143.4 80.3h1.3v1.3h-1.3zM144.0 79.8h1.3v1.3h-1.3zM145.2 80.9h1.3v1.3h-1.3zM150.9 75.9h1.3v1.3h-1.3zM143.8 81.3h1.3v1.3h-1.3zM144.6 80.2h1.3v1.3h-1.3zM149.5 75.7h1.3v1.3h-1.3zM150.8 77.0h1.3v1.3h-1.3zM144.9 80.0h1.3v1.3h-1.3zM149.7 76.0h1.3v1.3h-1.3z"/><path fill="#59ffa5" fill-opacity="0.8" d="M137.6 81.3h1.3v1.3h-1.3zM137.9 79.6h1.3v1.3h-1.3zM137.6 81.1h1.3v1.3h-1.3zM155.8 72.9h1.3v1.3h-1.3zM138.9 81.3h1.3v1.3h-1.3zM155.7 71.5h1.3v1.3h-1.3zM157.1 71.5h1.3v1.3h-1.3zM139.0 80.7h1.3v1.3h-1.3zM138.1 80.4h1.3v1.3h-1.3zM156.1 71.9h1.3v1.3h-1.3zM156.5 71.8h1.3v1.3h-1.3zM138.0 81.3h1.3v1.3h-1.3zM138.1 79.6h1.3v1.3h-1.3z"/><path fill="#60ff9e" fill-opacity="0.8" d="M137.7 84.0h1.3v1.3h-1.3zM137.8 85.1h1.3v1.3h-1.3zM138.3 83.7h1.3v1.3h-1.3zM137.5 84.8h1.3v1.3h-1.3zM139.1 83.4h1.3v1.3h-1.3z"/><path fill="#6dff91" fill-opacity="0.8" d="M152.2 74.9h1.3v1.3h-1.3zM152.0 73.7h1.3v1.3h-1.3zM152.8 73.7h1.3v1.3h-1.3zM153.3 74.1h1.3v1.3h-1.3zM152.6 73.8h1.3v1.3h-1.3zM151.8 73.4h1.3v1.3h-1.3zM152.8 75.1h1.3v1.3h-1.3zM152.1 75.2h1.3v1.3h-1.3zM152.5 75.2h1.3v1.3h-1.3zM152.3 73.5h1.3v1.3h-1.3zM152.9 74.0h1.3v1.3h-1.3z"/><path fill="#74ff8a" fill-opacity="0.8" d="M159.0 70.2h1.3v1.3h-1.3zM157.5 69.7h1.3v1.3h-1.3zM163.5 65.1h1.3v1.3h-1.3zM164.6 63.7h1.3v1.3h-1.3zM161.7 67.3h1.3v1.3h-1.3zM158.6 70.2h1.3v1.3h-1.3zM163.9 63.8h1.3v1.3h-1.3zM165.0 65.2h1.3v1.3h-1.3zM157.4 69.6h1.3v1.3h-1.3zM159.2 70.5h1.3v1.3h-1.3zM157.7 70.6h1.3v1.3h-1.3zM161.7 65.7h1.3v1.3h-1.3zM158.8 69.6h1.3v1.3h-1.3zM159.0 69.5h1.3v1.3h-1.3zM158.5 70.4h1.3v1.3h-1.3zM157.9 69.4h1.3v1.3h-1.3zM162.7 67.1h1.3v1.3h-1.3zM158.5 69.9h1.3v1.3h-1.3zM164.7 64.3h1.3v1.3h-1.3zM161.7 66.6h1.3v1.3h-1.3zM163.6 63.4h1.3v1.3h-1.3zM162.3 65.4h1.3v1.3h-1.3zM165.3 63.8h1.3v1.3h-1.3zM157.7 69.8h1.3v1.3h-1.3zM162.2 66.4h1.3v1.3h-1.3zM158.0 70.1h1.3v1.3h-1.3zM165.3 63.8h1.3v1.3h-1.3zM161.9 66.7h1.3v1.3h-1.3zM158.5 69.6h1.3v1.3h-1.3zM165.2 63.8h1.3v1.3h-1.3zM164.0 63.4h1.3v1.3h-1.3zM159.3 69.6h1.3v1.3h-1.3zM162.2 65.5h1.3v1.3h-1.3zM157.7 71.0h1.3v1.3h-1.3z"/><path fill="#7bff83" fill-opacity="0.8" d="M162.6 64.2h1.3v1.3h-1.3zM162.4 64.8h1.3v1.3h-1.3zM154.5 69.2h1.3v1.3h-1.3zM161.4 64.1h1.3v1.3h-1.3zM153.8 68.9h1.3v1.3h-1.3zM161.9 64.2h1.3v1.3h-1.3zM161.9 63.5h1.3v1.3h-1.3zM155.0 68.6h1.3v1.3h-1.3zM161.9 64.4h1.3v1.3h-1.3zM154.8 68.2h1.3v1.3h-1.3zM155.0 69.2h1.3v1.3h-1.3zM162.6 65.2h1.3v1.3h-1.3zM155.3 68.6h1.3v1.3h-1.3zM162.9 64.5h1.3v1.3h-1.3zM161.8 64.5h1.3v1.3h-1.3zM153.8 67.4h1.3v1.3h-1.3z"/><path fill="#82ff7c" fill-opacity="0.8" d="M142.3 80.1h1.3v1.3h-1.3zM160.6 68.1h1.3v1.3h-1.3zM143.3 79.8h1.3v1.3h-1.3zM142.2 79.7h1.3v1.3h-1.3zM142.1 79.8h1.3v1.3h-1.3zM142.0 80.4h1.3v1.3h-1.3zM142.2 80.5h1.3v1.3h-1.3zM160.5 68.1h1.3v1.3h-1.3zM135.5 84.0h1.3v1.3h-1.3zM159.5 68.1h1.3v1.3h-1.3zM159.8 68.6h1.3v1.3h-1.3zM135.4 83.4h1.3v1.3h-1.3zM142.0 81.2h1.3v1.3h-1.3zM135.4 85.0h1.3v1.3h-1.3zM141.7 80.1h1.3v1.3h-1.3zM141.8 79.9h1.3v1.3h-1.3zM136.1 83.7h1.3v1.3h-1.3zM136.5 83.7h1.3v1.3h-1.3zM159.8 68.3h1.3v1.3h-1.3zM161.2 68.6h1.3v1.3h-1.3zM137.3 84.7h1.3v1.3h-1.3zM135.4 84.4h1.3v1.3h-1.3zM160.2 68.1h1.3v1.3h-1.3zM136.5 84.5h1.3v1.3h-1.3zM142.6 80.0h1.3v1.3h-1.3zM137.1 83.9h1.3v1.3h-1.3zM136.6 85.0h1.3v1.3h-1.3zM143.3 79.6h1.3v1.3h-1.3zM160.4 68.1h1.3v1.3h-1.3zM136.0 85.2h1.3v1.3h-1.3z"/><path fill="#90ff6e" fill-opacity="0.8" d="M152.5 71.1h1.3v1.3h-1.3zM158.3 66.9h1.3v1.3h-1.3zM158.2 66.6h1.3v1.3h-1.3zM152.1 70.3h1.3v1.3h-1.3zM152.1 70.9h1.3v1.3h-1.3zM158.7 66.0h1.3v1.3h-1.3zM153.3 71.1h1.3v1.3h-1.3zM158.0 66.7h1.3v1.3h-1.3zM159.2 67.3h1.3v1.3h-1.3zM158.3 66.5h1.3v1.3h-1.3zM152.9 70.4h1.3v1.3h-1.3zM158.7 67.2h1.3v1.3h-1.3zM157.7 67.1h1.3v1.3h-1.3zM152.7 70.3h1.3v1.3h-1.3zM152.3 70.0h1.3v1.3h-1.3zM157.9 66.8h1.3v1.3h-1.3zM157.7 67.1h1.3v1.3h-1.3zM158.0 66.9h1.3v1.3h-1.3zM158.0 66.8h1.3v1.3h-1.3zM158.0 65.4h1.3v1.3h-1.3z"/><path fill="#97ff67" fill-opacity="0.8" d="M146.4 74.4h1.3v1.3h-1.3zM146.8 74.7h1.3v1.3h-1.3zM161.2 66.5h1.3v1.3h-1.3zM160.5 67.0h1.3v1.3h-1.3zM161.0 66.7h1.3v1.3h-1.3zM161.2 66.4h1.3v1.3h-1.3zM159.8 67.1h1.3v1.3h-1.3zM160.8 65.7h1.3v1.3h-1.3zM160.8 66.3h1.3v1.3h-1.3zM160.3 66.9h1.3v1.3h-1.3zM146.5 74.8h1.3v1.3h-1.3zM146.3 73.6h1.3v1.3h-1.3zM159.7 66.0h1.3v1.3h-1.3zM145.7 74.1h1.3v1.3h-1.3zM160.7 65.9h1.3v1.3h-1.3zM160.6 67.0h1.3v1.3h-1.3zM146.9 75.0h1.3v1.3h-1.3zM161.2 65.7h1.3v1.3h-1.3zM145.4 74.8h1.3v1.3h-1.3zM160.9 65.6h1.3v1.3h-1.3zM160.7 66.3h1.3v1.3h-1.3zM159.7 66.1h1.3v1.3h-1.3zM161.0 66.3h1.3v1.3h-1.3zM160.3 66.9h1.3v1.3h-1.3zM161.2 66.2h1.3v1.3h-1.3z"/><path fill="#9eff60" fill-opacity="0.8" d="M140.6 83.1h1.3v1.3h-1.3zM140.3 83.2h1.3v1.3h-1.3zM140.8 81.5h1.3v1.3h-1.3zM140.9 81.4h1.3v1.3h-1.3zM140.0 82.6h1.3v1.3h-1.3zM140.2 82.2h1.3v1.3h-1.3zM140.8 82.4h1.3v1.3h-1.3zM140.4 82.1h1.3v1.3h-1.3zM140.9 82.6h1.3v1.3h-1.3zM140.9 82.3h1.3v1.3h-1.3zM140.6 82.5h1.3v1.3h-1.3zM141.1 81.5h1.3v1.3h-1.3zM140.4 82.0h1.3v1.3h-1.3zM140.2 82.1h1.3v1.3h-1.3zM140.0 82.2h1.3v1.3h-1.3z"/><path fill="#a5ff59" fill-opacity="0.8" d="M141.8 78.6h1.3v1.3h-1.3zM143.6 77.1h1.3v1.3h-1.3zM144.6 76.2h1.3v1.3h-1.3zM143.1 77.6h1.3v1.3h-1.3zM143.8 77.2h1.3v1.3h-1.3zM142.3 79.1h1.3v1.3h-1.3zM144.6 76.7h1.3v1.3h-1.3zM144.7 77.3h1.3v1.3h-1.3zM145.0 75.5h1.3v1.3h-1.3zM142.5 79.2h1.3v1.3h-1.3zM144.8 76.6h1.3v1.3h-1.3zM145.0 75.5h1.3v1.3h-1.3zM143.2 78.3h1.3v1.3h-1.3zM143.2 78.8h1.3v1.3h-1.3zM144.6 75.8h1.3v1.3h-1.3zM145.1 76.5h1.3v1.3h-1.3zM145.1 76.3h1.3v1.3h-1.3zM143.9 77.2h1.3v1.3h-1.3zM144.3 77.2h1.3v1.3h-1.3zM142.3 77.7h1.3v1.3h-1.3zM142.5 78.6h1.3v1.3h-1.3zM145.2 77.3h1.3v1.3h-1.3zM143.3 79.1h1.3v1.3h-1.3zM142.6 79.1h1.3v1.3h-1.3zM142.2 78.1h1.3v1.3h-1.3zM144.4 75.7h1.3v1.3h-1.3z"/><path fill="#c1ff3d" fill-opacity="0.8" d="M140.5 81.2h1.3v1.3h-1.3zM140.0 80.9h1.3v1.3h-1.3zM140.9 79.8h1.3v1.3h-1.3zM141.1 79.4h1.3v1.3h-1.3zM140.3 80.8h1.3v1.3h-1.3zM141.0 80.3h1.3v1.3h-1.3zM139.4 80.5h1.3v1.3h-1.3zM140.9 80.6h1.3v1.3h-1.3zM140.5 79.5h1.3v1.3h-1.3zM140.9 80.9h1.3v1.3h-1.3zM141.2 80.4h1.3v1.3h-1.3zM141.0 80.7h1.3v1.3h-1.3zM139.8 81.0h1.3v1.3h-1.3zM141.0 80.6h1.3v1.3h-1.3zM140.5 80.1h1.3v1.3h-1.3z"/><path fill="#c8ff36" fill-opacity="0.8" d="M153.4 71.9h1.3v1.3h-1.3zM153.4 72.5h1.3v1.3h-1.3zM153.7 71.8h1.3v1.3h-1.3zM154.5 72.8h1.3v1.3h-1.3zM155.2 72.0h1.3v1.3h-1.3zM154.5 73.0h1.3v1.3h-1.3zM155.0 71.4h1.3v1.3h-1.3zM155.0 71.4h1.3v1.3h-1.3zM154.0 73.2h1.3v1.3h-1.3zM153.7 71.7h1.3v1.3h-1.3zM153.8 71.8h1.3v1.3h-1.3zM153.9 71.5h1.3v1.3h-1.3zM154.4 72.7h1.3v1.3h-1.3z"/><path fill="#ceff30" fill-opacity="0.8" d="M139.3 82.7h1.3v1.3h-1.3zM137.8 81.4h1.3v1.3h-1.3zM138.8 82.8h1.3v1.3h-1.3zM137.8 82.9h1.3v1.3h-1.3zM138.1 83.2h1.3v1.3h-1.3zM138.2 82.0h1.3v1.3h-1.3zM138.9 81.4h1.3v1.3h-1.3zM138.3 82.4h1.3v1.3h-1.3zM138.2 81.9h1.3v1.3h-1.3zM150.7 72.2h1.3v1.3h-1.3zM138.3 82.8h1.3v1.3h-1.3zM150.7 73.0h1.3v1.3h-1.3zM149.9 72.0h1.3v1.3h-1.3zM139.0 82.3h1.3v1.3h-1.3zM137.5 82.3h1.3v1.3h-1.3zM151.3 72.1h1.3v1.3h-1.3zM139.3 81.7h1.3v1.3h-1.3zM138.6 83.1h1.3v1.3h-1.3zM138.1 82.1h1.3v1.3h-1.3zM151.3 72.8h1.3v1.3h-1.3zM137.8 82.3h1.3v1.3h-1.3zM139.2 82.3h1.3v1.3h-1.3zM138.3 83.0h1.3v1.3h-1.3zM138.9 82.5h1.3v1.3h-1.3zM138.7 82.6h1.3v1.3h-1.3zM150.1 73.1h1.3v1.3h-1.3zM150.4 73.2h1.3v1.3h-1.3zM138.7 82.2h1.3v1.3h-1.3zM139.0 81.6h1.3v1.3h-1.3zM150.3 71.8h1.3v1.3h-1.3zM150.4 72.2h1.3v1.3h-1.3zM150.2 72.8h1.3v1.3h-1.3z"/><path fill="#d5ff29" fill-opacity="0.8" d="M146.0 77.4h1.3v1.3h-1.3zM145.7 78.5h1.3v1.3h-1.3zM146.8 78.2h1.3v1.3h-1.3zM145.4 77.6h1.3v1.3h-1.3zM145.6 78.7h1.3v1.3h-1.3zM146.5 77.8h1.3v1.3h-1.3zM145.4 78.6h1.3v1.3h-1.3zM145.7 78.6h1.3v1.3h-1.3zM145.9 78.2h1.3v1.3h-1.3zM145.5 79.0h1.3v1.3h-1.3zM145.7 79.0h1.3v1.3h-1.3zM146.6 78.7h1.3v1.3h-1.3zM145.8 78.8h1.3v1.3h-1.3zM146.5 78.4h1.3v1.3h-1.3zM147.1 77.5h1.3v1.3h-1.3zM146.1 77.7h1.3v1.3h-1.3zM146.1 77.5h1.3v1.3h-1.3zM146.2 78.5h1.3v1.3h-1.3z"/><path fill="#e3ff1b" fill-opacity="0.8" d="M153.3 73.1h1.3v1.3h-1.3zM152.1 72.3h1.3v1.3h-1.3zM151.7 73.2h1.3v1.3h-1.3zM151.8 72.0h1.3v1.3h-1.3zM153.0 72.5h1.3v1.3h-1.3zM152.4 71.5h1.3v1.3h-1.3zM152.2 73.1h1.3v1.3h-1.3zM153.1 72.8h1.3v1.3h-1.3zM151.6 72.3h1.3v1.3h-1.3zM152.0 72.1h1.3v1.3h-1.3zM152.0 72.4h1.3v1.3h-1.3zM152.2 72.4h1.3v1.3h-1.3zM153.3 71.7h1.3v1.3h-1.3zM152.0 72.2h1.3v1.3h-1.3zM151.9 72.8h1.3v1.3h-1.3zM153.2 72.6h1.3v1.3h-1.3z"/><path fill="#f1ff0d" fill-opacity="0.8" d="M147.6 77.0h1.3v1.3h-1.3zM148.7 75.8h1.3v1.3h-1.3zM148.8 75.5h1.3v1.3h-1.3zM147.6 76.0h1.3v1.3h-1.3zM148.7 75.4h1.3v1.3h-1.3zM148.0 75.8h1.3v1.3h-1.3zM148.3 75.8h1.3v1.3h-1.3zM148.8 75.6h1.3v1.3h-1.3zM147.8 76.5h1.3v1.3h-1.3zM149.0 75.7h1.3v1.3h-1.3zM148.0 75.8h1.3v1.3h-1.3zM148.6 76.7h1.3v1.3h-1.3zM148.6 77.1h1.3v1.3h-1.3z"/><path fill="#f8ff06" fill-opacity="0.8" d="M148.5 75.0h1.3v1.3h-1.3zM149.1 74.4h1.3v1.3h-1.3zM147.5 74.8h1.3v1.3h-1.3zM148.3 74.6h1.3v1.3h-1.3zM148.0 73.7h1.3v1.3h-1.3zM149.2 73.9h1.3v1.3h-1.3zM148.1 74.4h1.3v1.3h-1.3zM147.6 75.0h1.3v1.3h-1.3zM148.6 74.5h1.3v1.3h-1.3zM148.2 73.7h1.3v1.3h-1.3zM149.3 74.6h1.3v1.3h-1.3zM148.8 74.6h1.3v1.3h-1.3zM147.4 73.4h1.3v1.3h-1.3zM149.2 74.2h1.3v1.3h-1.3zM148.1 73.8h1.3v1.3h-1.3z"/><path fill="#fff700" fill-opacity="0.8" d="M146.8 76.1h1.3v1.3h-1.3zM145.8 76.3h1.3v1.3h-1.3zM146.9 75.7h1.3v1.3h-1.3zM146.6 76.4h1.3v1.3h-1.3zM147.1 75.9h1.3v1.3h-1.3zM146.5 76.4h1.3v1.3h-1.3zM147.0 76.4h1.3v1.3h-1.3zM145.4 75.4h1.3v1.3h-1.3zM147.2 76.5h1.3v1.3h-1.3zM147.3 76.4h1.3v1.3h-1.3zM145.7 77.3h1.3v1.3h-1.3zM146.2 75.5h1.3v1.3h-1.3zM146.5 75.9h1.3v1.3h-1.3zM145.4 75.5h1.3v1.3h-1.3z"/><path fill="#fff000" fill-opacity="0.8" d="M150.7 75.1h1.3v1.3h-1.3zM150.6 74.4h1.3v1.3h-1.3zM150.3 74.5h1.3v1.3h-1.3zM150.5 74.7h1.3v1.3h-1.3zM151.3 74.2h1.3v1.3h-1.3zM150.0 74.0h1.3v1.3h-1.3zM149.7 75.2h1.3v1.3h-1.3zM149.5 73.4h1.3v1.3h-1.3zM149.5 74.7h1.3v1.3h-1.3zM150.7 74.7h1.3v1.3h-1.3zM149.8 74.9h1.3v1.3h-1.3zM150.0 75.2h1.3v1.3h-1.3zM151.0 75.2h1.3v1.3h-1.3zM150.3 74.5h1.3v1.3h-1.3zM150.7 74.6h1.3v1.3h-1.3z"/><path fill="#ffe900" fill-opacity="0.8" d="M144.2 77.7h1.3v1.3h-1.3zM144.6 78.5h1.3v1.3h-1.3zM144.3 78.6h1.3v1.3h-1.3zM144.4 77.7h1.3v1.3h-1.3zM144.8 77.4h1.3v1.3h-1.3zM145.1 78.2h1.3v1.3h-1.3zM143.7 78.8h1.3v1.3h-1.3zM145.2 78.3h1.3v1.3h-1.3zM144.1 78.6h1.3v1.3h-1.3zM144.2 78.2h1.3v1.3h-1.3zM145.1 77.8h1.3v1.3h-1.3z"/><path fill="#ffd500" fill-opacity="0.8" d="M153.9 69.7h1.3v1.3h-1.3zM154.1 69.8h1.3v1.3h-1.3zM154.1 71.3h1.3v1.3h-1.3zM153.9 71.0h1.3v1.3h-1.3zM153.5 71.2h1.3v1.3h-1.3zM153.7 71.3h1.3v1.3h-1.3zM154.7 70.7h1.3v1.3h-1.3zM154.3 70.0h1.3v1.3h-1.3zM153.8 69.7h1.3v1.3h-1.3zM154.8 70.1h1.3v1.3h-1.3zM153.6 69.4h1.3v1.3h-1.3zM153.9 70.9h1.3v1.3h-1.3zM155.1 70.0h1.3v1.3h-1.3zM154.7 71.0h1.3v1.3h-1.3zM154.6 70.2h1.3v1.3h-1.3zM154.8 70.8h1.3v1.3h-1.3zM153.6 70.2h1.3v1.3h-1.3zM154.4 70.5h1.3v1.3h-1.3zM154.2 70.3h1.3v1.3h-1.3zM154.0 70.3h1.3v1.3h-1.3z"/><path fill="#ffce00" fill-opacity="0.8" d="M158.8 67.8h1.3v1.3h-1.3zM157.4 67.4h1.3v1.3h-1.3zM158.6 68.2h1.3v1.3h-1.3zM159.2 69.2h1.3v1.3h-1.3zM158.7 68.1h1.3v1.3h-1.3zM157.4 68.9h1.3v1.3h-1.3zM158.3 69.3h1.3v1.3h-1.3zM157.5 68.6h1.3v1.3h-1.3zM158.8 68.0h1.3v1.3h-1.3zM159.3 68.3h1.3v1.3h-1.3zM158.2 69.2h1.3v1.3h-1.3zM158.3 67.8h1.3v1.3h-1.3zM157.9 67.6h1.3v1.3h-1.3zM157.6 67.7h1.3v1.3h-1.3z"/><path fill="#ffc000" fill-opacity="0.8" d="M156.4 69.9h1.3v1.3h-1.3zM156.0 70.4h1.3v1.3h-1.3zM155.9 71.3h1.3v1.3h-1.3zM156.1 70.6h1.3v1.3h-1.3zM156.7 70.0h1.3v1.3h-1.3zM156.1 69.9h1.3v1.3h-1.3zM156.7 69.8h1.3v1.3h-1.3zM156.8 69.9h1.3v1.3h-1.3zM156.1 70.9h1.3v1.3h-1.3zM155.9 69.9h1.3v1.3h-1.3zM156.3 70.8h1.3v1.3h-1.3zM156.5 71.3h1.3v1.3h-1.3zM155.7 70.8h1.3v1.3h-1.3zM155.8 70.8h1.3v1.3h-1.3zM156.1 70.6h1.3v1.3h-1.3zM156.8 70.4h1.3v1.3h-1.3zM157.1 70.2h1.3v1.3h-1.3zM156.4 71.1h1.3v1.3h-1.3zM155.6 70.4h1.3v1.3h-1.3zM156.9 70.3h1.3v1.3h-1.3zM156.4 70.5h1.3v1.3h-1.3z"/><path fill="#ffb200" fill-opacity="0.8" d="M157.0 67.8h1.3v1.3h-1.3zM157.0 69.2h1.3v1.3h-1.3zM155.7 67.6h1.3v1.3h-1.3zM156.5 67.7h1.3v1.3h-1.3zM156.6 67.9h1.3v1.3h-1.3zM155.8 68.7h1.3v1.3h-1.3zM156.6 68.6h1.3v1.3h-1.3zM157.1 68.0h1.3v1.3h-1.3zM156.3 67.4h1.3v1.3h-1.3zM156.7 69.2h1.3v1.3h-1.3zM156.1 67.9h1.3v1.3h-1.3zM156.6 68.6h1.3v1.3h-1.3zM155.6 68.0h1.3v1.3h-1.3z"/></g><path d="M80 30.6 H314.2" stroke="#4a4a4a" stroke-width="1.25" fill="none"/><path d="M314.2 30.6 V264.3" stroke="#555" stroke-width="1.3" fill="none"/><path d="M80 30.6 V264.3" stroke="#5a5a5a" stroke-width="1.35" fill="none"/><path d="M80 264.3 H314.2" stroke="#1e1e1e" stroke-width="1.1" fill="none"/><path d="M172.6 30.6 V270.3 M73 123.1 H314.2" stroke="#000" stroke-width="2" fill="none"/><path d="M73 263.0 H80.5 M80.2 264 V270.5 M73 216.3 H80.5 M126.3 264 V270.5 M73 169.5 H80.5 M172.6 264 V270.5 M73 123.1 H80.5 M219.0 264 V270.5 M73 76.9 H80.5 M265.7 264 V270.5 M73 31.2 H80.5 M313.0 264 V270.5" stroke="#000" stroke-width="1.7" fill="none"/><path d="M77.2 248.9 H80 M94.4 264.3 V267.4 M77.2 240.7 H80 M102.5 264.3 V267.4 M77.2 234.9 H80 M108.3 264.3 V267.4 M75.6 230.4 H80 M112.7 264.3 V268.9 M77.2 226.7 H80 M116.4 264.3 V267.4 M77.2 223.5 H80 M119.5 264.3 V267.4 M77.2 220.8 H80 M122.1 264.3 V267.4 M77.2 218.4 H80 M124.5 264.3 V267.4 M77.2 202.2 H80 M140.5 264.3 V267.4 M77.2 194.0 H80 M148.7 264.3 V267.4 M77.2 188.1 H80 M154.5 264.3 V267.4 M75.6 183.6 H80 M159.0 264.3 V268.9 M77.2 179.9 H80 M162.6 264.3 V267.4 M77.2 176.7 H80 M165.7 264.3 V267.4 M77.2 174.0 H80 M168.4 264.3 V267.4 M77.2 171.6 H80 M170.8 264.3 V267.4 M77.2 155.5 H80 M186.9 264.3 V267.4 M77.2 147.4 H80 M195.0 264.3 V267.4 M77.2 141.6 H80 M200.8 264.3 V267.4 M75.6 137.1 H80 M205.3 264.3 V268.9 M77.2 133.4 H80 M209.0 264.3 V267.4 M77.2 130.3 H80 M212.1 264.3 V267.4 M77.2 127.6 H80 M214.8 264.3 V267.4 M77.2 125.2 H80 M217.2 264.3 V267.4 M77.2 109.2 H80 M233.4 264.3 V267.4 M77.2 101.1 H80 M241.6 264.3 V267.4 M77.2 95.3 H80 M247.4 264.3 V267.4 M75.6 90.8 H80 M251.9 264.3 V268.9 M77.2 87.1 H80 M255.6 264.3 V267.4 M77.2 84.1 H80 M258.8 264.3 V267.4 M77.2 81.4 H80 M261.5 264.3 V267.4 M77.2 79.0 H80 M263.9 264.3 V267.4 M77.2 63.1 H80 M280.2 264.3 V267.4 M77.2 55.1 H80 M288.6 264.3 V267.4 M77.2 49.4 H80 M294.5 264.3 V267.4 M75.6 45.0 H80 M299.1 264.3 V268.9 M77.2 41.3 H80 M302.8 264.3 V267.4 M77.2 38.3 H80 M306.0 264.3 V267.4 M77.2 35.6 H80 M308.7 264.3 V267.4 M77.2 33.3 H80 M311.1 264.3 V267.4" stroke="#111" stroke-width="1.2" fill="none"/><g font-size="8.8" fill="#2a2a2a" stroke="#2a2a2a" stroke-width="0.3"><text x="62.9" y="262.9" text-anchor="end">10</text><text x="63.6" y="255.6">0</text><text x="85.4" y="292.3">10</text><text x="95.3" y="284.6">0</text><text x="62.9" y="223.8" text-anchor="end">10</text><text x="63.6" y="216.7">1</text><text x="122.7" y="292.3">10</text><text x="132.6" y="284.6">1</text><text x="62.9" y="177.0" text-anchor="end">10</text><text x="63.6" y="169.9">2</text><text x="169.0" y="292.3">10</text><text x="178.9" y="284.6">2</text><text x="62.9" y="130.6" text-anchor="end">10</text><text x="63.6" y="123.5">3</text><text x="215.4" y="292.3">10</text><text x="225.3" y="284.6">3</text><text x="62.9" y="84.4" text-anchor="end">10</text><text x="63.6" y="77.3">4</text><text x="262.1" y="292.3">10</text><text x="272.0" y="284.6">4</text><text x="62.9" y="47.5" text-anchor="end">10</text><text x="63.6" y="39.8">5</text><text x="297.8" y="292.3">10</text><text x="307.7" y="284.6">5</text></g><g font-weight="700" font-size="12.2" fill="#FF0000" stroke="#FF0000" stroke-width="0.35"><text x="93.2" y="51.1">Q1</text><text x="93.2" y="67.7">0%</text><text x="300" y="51.1" text-anchor="end">Q2</text><text x="300" y="67.7" text-anchor="end">83.6%</text><text x="93.2" y="236">Q4</text><text x="93.2" y="252.7">6.5%</text><text x="300" y="236" text-anchor="end">Q3</text><text x="300" y="252.7" text-anchor="end">9.91%</text></g></g><text x="163.5" y="17.1" font-weight="700" font-size="21.5" fill="#000">0 hour</text>
<g transform="translate(321.2,0)"><g transform="translate(80,30.9)"><path fill="#4646ff" fill-opacity="0.8" d="M11.3 178.3h1.3v1.3h-1.3zM4.6 171.3h1.3v1.3h-1.3zM75.0 129.4h1.3v1.3h-1.3zM83.3 180.0h1.3v1.3h-1.3zM69.3 168.5h1.3v1.3h-1.3zM69.6 173.5h1.3v1.3h-1.3zM84.2 122.5h1.3v1.3h-1.3zM51.5 163.9h1.3v1.3h-1.3zM89.1 124.9h1.3v1.3h-1.3zM112.7 181.0h1.3v1.3h-1.3zM111.8 164.1h1.3v1.3h-1.3zM108.2 162.0h1.3v1.3h-1.3zM95.9 157.2h1.3v1.3h-1.3zM93.2 166.3h1.3v1.3h-1.3zM119.0 172.7h1.3v1.3h-1.3zM93.2 155.1h1.3v1.3h-1.3zM67.2 173.7h1.3v1.3h-1.3zM67.2 149.1h1.3v1.3h-1.3zM141.9 56.1h1.3v1.3h-1.3zM112.2 83.4h1.3v1.3h-1.3zM121.2 75.7h1.3v1.3h-1.3zM181.2 73.8h1.3v1.3h-1.3zM188.2 55.7h1.3v1.3h-1.3zM160.3 48.2h1.3v1.3h-1.3zM142.5 63.1h1.3v1.3h-1.3zM120.2 70.5h1.3v1.3h-1.3zM178.4 43.1h1.3v1.3h-1.3zM185.7 92.7h1.3v1.3h-1.3zM182.1 85.6h1.3v1.3h-1.3zM166.3 89.3h1.3v1.3h-1.3zM164.1 46.4h1.3v1.3h-1.3zM180.1 83.2h1.3v1.3h-1.3zM169.6 83.8h1.3v1.3h-1.3zM185.6 83.9h1.3v1.3h-1.3zM183.4 96.9h1.3v1.3h-1.3zM172.0 90.5h1.3v1.3h-1.3zM162.8 92.0h1.3v1.3h-1.3zM164.1 27.7h1.3v1.3h-1.3zM192.4 81.9h1.3v1.3h-1.3zM90.8 151.1h1.3v1.3h-1.3zM86.7 161.0h1.3v1.3h-1.3zM52.8 152.2h1.3v1.3h-1.3zM65.5 159.5h1.3v1.3h-1.3zM149.4 152.7h1.3v1.3h-1.3zM118.6 128.2h1.3v1.3h-1.3zM133.6 156.7h1.3v1.3h-1.3zM149.6 110.2h1.3v1.3h-1.3zM186.7 79.0h1.3v1.3h-1.3zM104.3 83.5h1.3v1.3h-1.3zM151.5 106.9h1.3v1.3h-1.3zM132.0 133.5h1.3v1.3h-1.3zM147.1 109.5h1.3v1.3h-1.3zM122.0 127.4h1.3v1.3h-1.3zM135.6 145.6h1.3v1.3h-1.3zM88.8 98.3h1.3v1.3h-1.3zM118.7 144.0h1.3v1.3h-1.3zM137.8 126.5h1.3v1.3h-1.3zM106.5 106.2h1.3v1.3h-1.3zM134.7 129.8h1.3v1.3h-1.3zM87.4 105.5h1.3v1.3h-1.3zM107.1 156.3h1.3v1.3h-1.3zM141.7 118.5h1.3v1.3h-1.3zM161.5 132.6h1.3v1.3h-1.3zM89.7 113.9h1.3v1.3h-1.3zM112.7 127.5h1.3v1.3h-1.3zM105.8 149.9h1.3v1.3h-1.3zM144.5 161.4h1.3v1.3h-1.3zM119.4 151.8h1.3v1.3h-1.3zM104.7 145.7h1.3v1.3h-1.3zM100.7 121.0h1.3v1.3h-1.3zM139.6 146.5h1.3v1.3h-1.3zM101.0 171.0h1.3v1.3h-1.3zM94.9 149.8h1.3v1.3h-1.3zM102.4 151.0h1.3v1.3h-1.3zM94.8 170.2h1.3v1.3h-1.3zM102.6 175.8h1.3v1.3h-1.3zM149.7 141.2h1.3v1.3h-1.3zM129.3 166.3h1.3v1.3h-1.3zM95.9 183.0h1.3v1.3h-1.3zM73.2 192.3h1.3v1.3h-1.3zM49.6 183.0h1.3v1.3h-1.3zM35.0 173.3h1.3v1.3h-1.3zM203.3 120.3h1.3v1.3h-1.3zM212.7 71.3h1.3v1.3h-1.3zM202.8 62.6h1.3v1.3h-1.3zM197.3 66.3h1.3v1.3h-1.3zM192.8 61.8h1.3v1.3h-1.3zM78.2 129.8h1.3v1.3h-1.3zM37.8 169.0h1.3v1.3h-1.3zM60.6 152.7h1.3v1.3h-1.3zM50.7 168.1h1.3v1.3h-1.3zM82.2 126.1h1.3v1.3h-1.3zM63.1 146.3h1.3v1.3h-1.3zM55.8 147.8h1.3v1.3h-1.3zM67.4 141.8h1.3v1.3h-1.3zM65.5 189.8h1.3v1.3h-1.3zM61.9 158.1h1.3v1.3h-1.3zM85.9 132.6h1.3v1.3h-1.3zM77.2 136.6h1.3v1.3h-1.3zM45.1 175.4h1.3v1.3h-1.3zM183.8 50.1h1.3v1.3h-1.3zM206.8 47.4h1.3v1.3h-1.3zM77.1 175.3h1.3v1.3h-1.3zM132.4 137.4h1.3v1.3h-1.3zM125.9 151.6h1.3v1.3h-1.3zM104.9 96.7h1.3v1.3h-1.3zM106.9 131.0h1.3v1.3h-1.3zM114.0 140.7h1.3v1.3h-1.3zM127.6 77.0h1.3v1.3h-1.3zM148.9 135.7h1.3v1.3h-1.3zM101.6 138.5h1.3v1.3h-1.3zM82.5 147.9h1.3v1.3h-1.3zM85.0 144.6h1.3v1.3h-1.3zM90.1 130.6h1.3v1.3h-1.3zM55.0 172.6h1.3v1.3h-1.3zM54.7 171.7h1.3v1.3h-1.3zM74.6 154.6h1.3v1.3h-1.3zM75.6 166.4h1.3v1.3h-1.3zM148.4 117.8h1.3v1.3h-1.3zM142.1 115.2h1.3v1.3h-1.3zM104.5 120.3h1.3v1.3h-1.3zM107.1 133.1h1.3v1.3h-1.3zM123.2 165.0h1.3v1.3h-1.3zM174.0 96.0h1.3v1.3h-1.3zM180.9 64.7h1.3v1.3h-1.3zM178.2 56.2h1.3v1.3h-1.3zM184.6 60.5h1.3v1.3h-1.3zM148.4 123.5h1.3v1.3h-1.3zM121.9 121.4h1.3v1.3h-1.3zM134.8 142.7h1.3v1.3h-1.3zM144.6 115.0h1.3v1.3h-1.3zM161.7 53.1h1.3v1.3h-1.3zM54.0 177.7h1.3v1.3h-1.3zM83.6 144.1h1.3v1.3h-1.3zM149.5 117.2h1.3v1.3h-1.3zM83.3 149.7h1.3v1.3h-1.3zM123.5 141.5h1.3v1.3h-1.3zM147.7 57.3h1.3v1.3h-1.3zM156.5 84.3h1.3v1.3h-1.3zM130.9 130.3h1.3v1.3h-1.3zM117.0 136.1h1.3v1.3h-1.3zM103.0 139.1h1.3v1.3h-1.3zM110.2 98.3h1.3v1.3h-1.3zM146.6 134.8h1.3v1.3h-1.3zM143.4 126.5h1.3v1.3h-1.3zM112.5 147.2h1.3v1.3h-1.3zM77.6 161.5h1.3v1.3h-1.3zM59.8 165.7h1.3v1.3h-1.3zM83.0 135.2h1.3v1.3h-1.3zM71.0 151.2h1.3v1.3h-1.3zM65.3 171.0h1.3v1.3h-1.3zM81.0 133.9h1.3v1.3h-1.3zM47.3 162.1h1.3v1.3h-1.3zM58.2 164.8h1.3v1.3h-1.3zM90.0 128.7h1.3v1.3h-1.3zM77.1 162.3h1.3v1.3h-1.3zM124.3 117.7h1.3v1.3h-1.3zM110.7 150.9h1.3v1.3h-1.3zM113.1 152.1h1.3v1.3h-1.3zM120.9 162.7h1.3v1.3h-1.3zM113.0 87.4h1.3v1.3h-1.3zM156.1 86.8h1.3v1.3h-1.3zM150.3 57.7h1.3v1.3h-1.3zM47.8 162.0h1.3v1.3h-1.3zM71.8 163.9h1.3v1.3h-1.3zM76.9 173.5h1.3v1.3h-1.3zM61.4 175.9h1.3v1.3h-1.3zM64.5 182.1h1.3v1.3h-1.3zM91.4 140.6h1.3v1.3h-1.3zM88.0 142.2h1.3v1.3h-1.3zM150.9 88.6h1.3v1.3h-1.3zM112.3 93.4h1.3v1.3h-1.3zM117.3 90.0h1.3v1.3h-1.3zM90.0 145.1h1.3v1.3h-1.3zM112.7 156.6h1.3v1.3h-1.3zM75.4 153.0h1.3v1.3h-1.3zM63.8 182.8h1.3v1.3h-1.3zM75.1 167.0h1.3v1.3h-1.3zM66.1 152.2h1.3v1.3h-1.3zM122.8 140.0h1.3v1.3h-1.3zM113.9 160.0h1.3v1.3h-1.3zM110.8 133.0h1.3v1.3h-1.3zM91.5 136.0h1.3v1.3h-1.3zM65.8 153.4h1.3v1.3h-1.3zM109.6 131.4h1.3v1.3h-1.3zM115.0 141.9h1.3v1.3h-1.3zM111.4 125.0h1.3v1.3h-1.3zM114.7 115.7h1.3v1.3h-1.3zM133.7 140.2h1.3v1.3h-1.3zM106.7 97.8h1.3v1.3h-1.3zM137.6 120.7h1.3v1.3h-1.3zM76.1 150.8h1.3v1.3h-1.3zM66.4 151.5h1.3v1.3h-1.3zM67.3 182.0h1.3v1.3h-1.3zM68.5 134.6h1.3v1.3h-1.3zM72.4 149.3h1.3v1.3h-1.3zM95.0 130.9h1.3v1.3h-1.3zM114.7 94.9h1.3v1.3h-1.3zM149.9 91.2h1.3v1.3h-1.3zM58.7 178.6h1.3v1.3h-1.3zM67.2 136.4h1.3v1.3h-1.3zM172.7 80.0h1.3v1.3h-1.3zM120.7 81.4h1.3v1.3h-1.3zM115.6 89.4h1.3v1.3h-1.3zM116.1 123.4h1.3v1.3h-1.3zM111.5 95.2h1.3v1.3h-1.3zM174.2 85.1h1.3v1.3h-1.3zM114.1 99.2h1.3v1.3h-1.3zM114.3 143.7h1.3v1.3h-1.3zM112.2 131.8h1.3v1.3h-1.3zM131.3 125.4h1.3v1.3h-1.3zM170.9 95.4h1.3v1.3h-1.3zM62.5 172.3h1.3v1.3h-1.3zM129.6 129.1h1.3v1.3h-1.3zM104.3 125.7h1.3v1.3h-1.3zM146.8 123.4h1.3v1.3h-1.3zM125.9 145.6h1.3v1.3h-1.3zM126.6 70.5h1.3v1.3h-1.3zM149.4 91.1h1.3v1.3h-1.3zM163.5 50.3h1.3v1.3h-1.3zM136.1 121.0h1.3v1.3h-1.3zM139.1 122.2h1.3v1.3h-1.3zM123.1 135.0h1.3v1.3h-1.3zM169.9 96.0h1.3v1.3h-1.3zM183.3 66.0h1.3v1.3h-1.3zM67.6 134.4h1.3v1.3h-1.3zM75.1 147.7h1.3v1.3h-1.3zM180.6 61.2h1.3v1.3h-1.3zM109.1 98.3h1.3v1.3h-1.3zM181.7 60.4h1.3v1.3h-1.3zM167.2 51.6h1.3v1.3h-1.3zM131.5 74.3h1.3v1.3h-1.3zM183.2 70.8h1.3v1.3h-1.3zM128.4 74.3h1.3v1.3h-1.3zM117.6 83.8h1.3v1.3h-1.3zM172.6 95.1h1.3v1.3h-1.3zM109.8 102.6h1.3v1.3h-1.3zM129.6 118.3h1.3v1.3h-1.3zM126.7 148.9h1.3v1.3h-1.3zM126.7 148.1h1.3v1.3h-1.3zM128.4 113.8h1.3v1.3h-1.3zM108.6 117.0h1.3v1.3h-1.3zM107.8 116.3h1.3v1.3h-1.3zM113.0 122.0h1.3v1.3h-1.3zM115.2 89.2h1.3v1.3h-1.3zM58.9 173.7h1.3v1.3h-1.3zM158.0 54.5h1.3v1.3h-1.3zM166.6 81.1h1.3v1.3h-1.3zM154.9 58.7h1.3v1.3h-1.3zM129.9 123.7h1.3v1.3h-1.3zM109.8 119.5h1.3v1.3h-1.3zM90.2 140.0h1.3v1.3h-1.3zM105.4 124.2h1.3v1.3h-1.3zM123.3 138.5h1.3v1.3h-1.3zM132.8 119.9h1.3v1.3h-1.3zM99.4 128.3h1.3v1.3h-1.3zM112.9 171.9h1.3v1.3h-1.3zM112.6 159.2h1.3v1.3h-1.3zM125.8 71.4h1.3v1.3h-1.3zM100.9 129.0h1.3v1.3h-1.3zM111.5 112.9h1.3v1.3h-1.3zM116.1 122.8h1.3v1.3h-1.3zM110.4 116.9h1.3v1.3h-1.3zM103.3 128.1h1.3v1.3h-1.3zM127.9 115.2h1.3v1.3h-1.3zM177.5 58.3h1.3v1.3h-1.3zM182.7 70.1h1.3v1.3h-1.3zM105.9 121.6h1.3v1.3h-1.3zM93.3 143.2h1.3v1.3h-1.3zM118.3 138.1h1.3v1.3h-1.3zM108.0 114.1h1.3v1.3h-1.3zM127.9 72.9h1.3v1.3h-1.3zM123.7 149.9h1.3v1.3h-1.3zM112.1 172.6h1.3v1.3h-1.3zM115.1 159.3h1.3v1.3h-1.3zM108.0 175.7h1.3v1.3h-1.3zM108.5 175.3h1.3v1.3h-1.3zM142.4 109.1h1.3v1.3h-1.3zM98.1 129.5h1.3v1.3h-1.3zM111.1 104.1h1.3v1.3h-1.3zM161.3 79.7h1.3v1.3h-1.3zM176.1 61.6h1.3v1.3h-1.3zM178.4 70.1h1.3v1.3h-1.3zM156.5 56.8h1.3v1.3h-1.3zM175.6 82.6h1.3v1.3h-1.3zM175.5 61.1h1.3v1.3h-1.3zM155.4 57.1h1.3v1.3h-1.3zM182.2 68.5h1.3v1.3h-1.3zM115.7 116.9h1.3v1.3h-1.3zM55.5 177.1h1.3v1.3h-1.3zM120.1 136.1h1.3v1.3h-1.3zM120.4 136.7h1.3v1.3h-1.3zM109.7 122.4h1.3v1.3h-1.3zM58.1 176.7h1.3v1.3h-1.3zM170.7 77.1h1.3v1.3h-1.3zM140.4 110.8h1.3v1.3h-1.3zM176.1 62.9h1.3v1.3h-1.3zM176.7 82.8h1.3v1.3h-1.3zM176.7 61.5h1.3v1.3h-1.3zM131.9 110.8h1.3v1.3h-1.3zM143.1 108.1h1.3v1.3h-1.3zM94.6 133.5h1.3v1.3h-1.3zM170.9 76.7h1.3v1.3h-1.3zM119.7 118.6h1.3v1.3h-1.3zM118.9 122.3h1.3v1.3h-1.3zM129.3 119.5h1.3v1.3h-1.3zM133.0 110.5h1.3v1.3h-1.3zM60.5 174.6h1.3v1.3h-1.3zM108.5 123.2h1.3v1.3h-1.3zM159.6 55.6h1.3v1.3h-1.3zM129.3 120.4h1.3v1.3h-1.3zM93.7 133.7h1.3v1.3h-1.3zM164.7 81.0h1.3v1.3h-1.3zM120.8 87.1h1.3v1.3h-1.3zM152.7 83.5h1.3v1.3h-1.3zM117.8 95.3h1.3v1.3h-1.3zM177.2 80.1h1.3v1.3h-1.3zM120.5 120.9h1.3v1.3h-1.3zM166.3 76.6h1.3v1.3h-1.3zM110.1 173.4h1.3v1.3h-1.3zM110.5 173.5h1.3v1.3h-1.3zM95.6 133.2h1.3v1.3h-1.3zM168.0 76.8h1.3v1.3h-1.3zM166.4 77.1h1.3v1.3h-1.3zM132.9 77.2h1.3v1.3h-1.3zM130.8 122.7h1.3v1.3h-1.3zM144.9 67.2h1.3v1.3h-1.3zM132.7 77.3h1.3v1.3h-1.3zM153.3 84.6h1.3v1.3h-1.3zM118.0 118.3h1.3v1.3h-1.3zM118.7 120.1h1.3v1.3h-1.3zM115.6 115.3h1.3v1.3h-1.3zM143.4 102.9h1.3v1.3h-1.3zM123.5 117.0h1.3v1.3h-1.3zM95.8 132.8h1.3v1.3h-1.3zM131.2 122.3h1.3v1.3h-1.3zM134.5 109.0h1.3v1.3h-1.3zM129.8 102.2h1.3v1.3h-1.3zM128.1 81.2h1.3v1.3h-1.3zM119.7 84.8h1.3v1.3h-1.3zM120.1 110.9h1.3v1.3h-1.3zM151.3 63.3h1.3v1.3h-1.3zM138.8 109.1h1.3v1.3h-1.3zM125.3 113.4h1.3v1.3h-1.3zM130.7 105.3h1.3v1.3h-1.3zM166.9 77.6h1.3v1.3h-1.3zM128.3 111.6h1.3v1.3h-1.3zM174.2 80.5h1.3v1.3h-1.3zM135.3 75.0h1.3v1.3h-1.3zM179.5 69.8h1.3v1.3h-1.3zM175.9 73.8h1.3v1.3h-1.3zM120.7 109.7h1.3v1.3h-1.3zM115.6 111.8h1.3v1.3h-1.3zM128.2 111.7h1.3v1.3h-1.3zM117.8 109.7h1.3v1.3h-1.3zM113.8 111.6h1.3v1.3h-1.3zM159.0 79.4h1.3v1.3h-1.3zM149.4 100.7h1.3v1.3h-1.3zM176.4 74.7h1.3v1.3h-1.3zM128.5 81.3h1.3v1.3h-1.3zM142.7 68.9h1.3v1.3h-1.3zM162.4 77.5h1.3v1.3h-1.3zM122.2 86.1h1.3v1.3h-1.3zM121.0 115.1h1.3v1.3h-1.3zM132.9 99.7h1.3v1.3h-1.3zM124.7 113.1h1.3v1.3h-1.3zM117.5 115.2h1.3v1.3h-1.3zM172.1 72.2h1.3v1.3h-1.3zM176.0 76.2h1.3v1.3h-1.3zM172.5 57.2h1.3v1.3h-1.3zM141.8 68.8h1.3v1.3h-1.3zM124.0 83.1h1.3v1.3h-1.3zM138.9 103.9h1.3v1.3h-1.3zM127.9 111.3h1.3v1.3h-1.3zM177.3 78.3h1.3v1.3h-1.3zM156.6 59.0h1.3v1.3h-1.3zM124.4 112.8h1.3v1.3h-1.3zM162.1 77.8h1.3v1.3h-1.3zM120.8 113.6h1.3v1.3h-1.3zM156.6 79.9h1.3v1.3h-1.3zM140.3 70.7h1.3v1.3h-1.3zM133.1 108.8h1.3v1.3h-1.3zM111.8 110.1h1.3v1.3h-1.3zM176.3 65.0h1.3v1.3h-1.3zM124.3 81.6h1.3v1.3h-1.3zM172.7 72.8h1.3v1.3h-1.3zM121.4 85.8h1.3v1.3h-1.3zM139.4 101.7h1.3v1.3h-1.3zM123.9 83.1h1.3v1.3h-1.3zM128.4 110.5h1.3v1.3h-1.3zM122.9 86.4h1.3v1.3h-1.3zM148.0 96.5h1.3v1.3h-1.3zM147.7 103.0h1.3v1.3h-1.3zM177.3 66.3h1.3v1.3h-1.3zM116.4 97.5h1.3v1.3h-1.3zM171.5 68.0h1.3v1.3h-1.3zM178.0 69.0h1.3v1.3h-1.3zM138.0 95.1h1.3v1.3h-1.3zM117.1 109.5h1.3v1.3h-1.3zM146.6 102.8h1.3v1.3h-1.3zM146.3 102.2h1.3v1.3h-1.3zM176.8 65.9h1.3v1.3h-1.3zM123.6 108.1h1.3v1.3h-1.3zM148.8 102.3h1.3v1.3h-1.3zM170.2 72.7h1.3v1.3h-1.3zM140.9 107.1h1.3v1.3h-1.3zM115.7 98.7h1.3v1.3h-1.3zM122.3 109.7h1.3v1.3h-1.3zM137.6 107.3h1.3v1.3h-1.3zM115.0 102.5h1.3v1.3h-1.3zM137.4 107.3h1.3v1.3h-1.3zM137.5 107.0h1.3v1.3h-1.3zM144.4 67.7h1.3v1.3h-1.3zM172.2 67.5h1.3v1.3h-1.3zM177.4 68.3h1.3v1.3h-1.3zM175.9 66.0h1.3v1.3h-1.3zM173.9 78.2h1.3v1.3h-1.3zM138.8 94.1h1.3v1.3h-1.3zM140.2 109.1h1.3v1.3h-1.3zM148.7 101.7h1.3v1.3h-1.3zM128.7 105.8h1.3v1.3h-1.3zM145.4 95.3h1.3v1.3h-1.3zM175.5 65.9h1.3v1.3h-1.3zM119.9 94.1h1.3v1.3h-1.3zM174.5 73.3h1.3v1.3h-1.3zM171.4 69.2h1.3v1.3h-1.3zM121.3 115.7h1.3v1.3h-1.3zM137.6 93.5h1.3v1.3h-1.3zM130.2 108.7h1.3v1.3h-1.3zM141.0 99.7h1.3v1.3h-1.3zM142.5 100.8h1.3v1.3h-1.3zM141.6 70.4h1.3v1.3h-1.3zM169.1 54.6h1.3v1.3h-1.3zM135.7 75.2h1.3v1.3h-1.3zM139.5 100.6h1.3v1.3h-1.3zM142.1 97.3h1.3v1.3h-1.3zM177.3 69.1h1.3v1.3h-1.3zM173.5 75.5h1.3v1.3h-1.3zM175.3 70.0h1.3v1.3h-1.3zM173.5 76.4h1.3v1.3h-1.3zM134.6 104.1h1.3v1.3h-1.3zM155.3 62.8h1.3v1.3h-1.3zM141.9 95.7h1.3v1.3h-1.3zM126.1 100.6h1.3v1.3h-1.3zM160.4 78.8h1.3v1.3h-1.3zM121.5 98.6h1.3v1.3h-1.3zM168.6 53.9h1.3v1.3h-1.3zM167.5 73.1h1.3v1.3h-1.3zM134.0 105.0h1.3v1.3h-1.3zM134.0 104.2h1.3v1.3h-1.3zM139.7 99.8h1.3v1.3h-1.3zM128.2 108.8h1.3v1.3h-1.3zM113.7 109.9h1.3v1.3h-1.3zM161.7 55.7h1.3v1.3h-1.3zM126.7 101.2h1.3v1.3h-1.3zM167.4 71.9h1.3v1.3h-1.3zM131.8 103.4h1.3v1.3h-1.3zM141.8 69.8h1.3v1.3h-1.3zM128.8 102.5h1.3v1.3h-1.3zM130.5 100.1h1.3v1.3h-1.3zM155.2 63.3h1.3v1.3h-1.3zM139.7 101.1h1.3v1.3h-1.3zM126.8 110.2h1.3v1.3h-1.3zM133.8 103.4h1.3v1.3h-1.3zM145.7 90.7h1.3v1.3h-1.3zM173.4 76.8h1.3v1.3h-1.3zM164.6 77.9h1.3v1.3h-1.3zM122.5 98.1h1.3v1.3h-1.3zM129.2 108.0h1.3v1.3h-1.3zM112.1 102.1h1.3v1.3h-1.3zM142.9 93.7h1.3v1.3h-1.3zM137.9 73.0h1.3v1.3h-1.3zM172.6 57.4h1.3v1.3h-1.3zM148.2 64.2h1.3v1.3h-1.3zM117.6 96.7h1.3v1.3h-1.3zM121.4 114.0h1.3v1.3h-1.3zM122.7 115.2h1.3v1.3h-1.3zM118.1 97.7h1.3v1.3h-1.3zM126.2 102.0h1.3v1.3h-1.3zM127.9 97.6h1.3v1.3h-1.3zM147.0 69.3h1.3v1.3h-1.3zM120.9 112.9h1.3v1.3h-1.3zM127.2 103.0h1.3v1.3h-1.3zM173.1 74.2h1.3v1.3h-1.3zM125.8 102.6h1.3v1.3h-1.3zM121.9 107.8h1.3v1.3h-1.3zM124.1 106.5h1.3v1.3h-1.3zM119.2 102.3h1.3v1.3h-1.3zM117.4 99.6h1.3v1.3h-1.3zM123.8 107.3h1.3v1.3h-1.3zM117.5 95.9h1.3v1.3h-1.3zM165.1 56.2h1.3v1.3h-1.3zM136.1 100.1h1.3v1.3h-1.3zM146.4 69.2h1.3v1.3h-1.3zM141.6 94.0h1.3v1.3h-1.3zM172.9 57.6h1.3v1.3h-1.3zM174.5 68.6h1.3v1.3h-1.3zM120.3 107.7h1.3v1.3h-1.3zM122.3 100.8h1.3v1.3h-1.3zM142.0 97.7h1.3v1.3h-1.3zM127.5 98.0h1.3v1.3h-1.3zM137.0 100.7h1.3v1.3h-1.3zM135.8 100.6h1.3v1.3h-1.3zM147.6 97.4h1.3v1.3h-1.3zM148.1 98.4h1.3v1.3h-1.3zM171.7 73.7h1.3v1.3h-1.3zM129.5 80.5h1.3v1.3h-1.3zM164.1 56.9h1.3v1.3h-1.3zM112.6 104.4h1.3v1.3h-1.3zM122.0 114.8h1.3v1.3h-1.3zM118.4 96.2h1.3v1.3h-1.3zM119.3 98.6h1.3v1.3h-1.3zM139.1 71.9h1.3v1.3h-1.3zM128.6 104.2h1.3v1.3h-1.3zM128.1 83.0h1.3v1.3h-1.3zM116.4 102.1h1.3v1.3h-1.3zM114.0 108.3h1.3v1.3h-1.3zM125.6 82.4h1.3v1.3h-1.3zM133.0 106.6h1.3v1.3h-1.3zM136.8 105.2h1.3v1.3h-1.3zM141.2 98.9h1.3v1.3h-1.3zM111.4 107.1h1.3v1.3h-1.3zM127.0 106.2h1.3v1.3h-1.3zM146.8 95.7h1.3v1.3h-1.3zM147.2 95.4h1.3v1.3h-1.3zM134.9 105.9h1.3v1.3h-1.3zM145.6 95.8h1.3v1.3h-1.3zM113.5 108.2h1.3v1.3h-1.3zM133.9 106.7h1.3v1.3h-1.3zM149.2 100.2h1.3v1.3h-1.3zM114.8 108.9h1.3v1.3h-1.3zM169.8 57.0h1.3v1.3h-1.3zM125.7 105.8h1.3v1.3h-1.3zM171.2 57.1h1.3v1.3h-1.3zM144.3 99.3h1.3v1.3h-1.3zM171.7 60.5h1.3v1.3h-1.3zM129.2 82.6h1.3v1.3h-1.3zM171.2 55.5h1.3v1.3h-1.3zM137.3 104.2h1.3v1.3h-1.3zM113.4 108.0h1.3v1.3h-1.3zM127.3 106.0h1.3v1.3h-1.3zM146.8 99.2h1.3v1.3h-1.3zM171.8 71.0h1.3v1.3h-1.3zM125.9 81.7h1.3v1.3h-1.3zM120.6 99.4h1.3v1.3h-1.3zM168.5 55.4h1.3v1.3h-1.3zM138.5 96.5h1.3v1.3h-1.3zM132.1 98.5h1.3v1.3h-1.3zM161.8 75.9h1.3v1.3h-1.3zM145.6 101.0h1.3v1.3h-1.3zM162.6 75.8h1.3v1.3h-1.3zM145.5 100.4h1.3v1.3h-1.3zM150.0 84.0h1.3v1.3h-1.3zM124.5 86.4h1.3v1.3h-1.3zM132.9 97.5h1.3v1.3h-1.3zM121.0 97.6h1.3v1.3h-1.3zM133.0 98.7h1.3v1.3h-1.3zM146.0 88.5h1.3v1.3h-1.3zM114.2 104.6h1.3v1.3h-1.3zM114.0 104.1h1.3v1.3h-1.3zM124.2 102.3h1.3v1.3h-1.3zM120.5 105.9h1.3v1.3h-1.3zM166.8 55.7h1.3v1.3h-1.3zM120.1 97.0h1.3v1.3h-1.3zM166.3 55.8h1.3v1.3h-1.3zM166.8 56.3h1.3v1.3h-1.3zM123.7 90.3h1.3v1.3h-1.3zM114.2 105.2h1.3v1.3h-1.3zM122.6 101.7h1.3v1.3h-1.3zM123.8 90.4h1.3v1.3h-1.3zM161.0 58.7h1.3v1.3h-1.3zM115.1 104.7h1.3v1.3h-1.3zM114.4 105.0h1.3v1.3h-1.3zM154.7 80.5h1.3v1.3h-1.3zM143.5 97.0h1.3v1.3h-1.3zM153.1 82.8h1.3v1.3h-1.3zM159.5 59.1h1.3v1.3h-1.3zM123.1 102.9h1.3v1.3h-1.3zM154.4 81.2h1.3v1.3h-1.3zM144.7 69.9h1.3v1.3h-1.3zM124.5 101.8h1.3v1.3h-1.3zM120.9 105.4h1.3v1.3h-1.3zM119.5 105.6h1.3v1.3h-1.3zM124.5 90.9h1.3v1.3h-1.3zM121.2 102.1h1.3v1.3h-1.3zM137.3 98.5h1.3v1.3h-1.3zM135.5 99.2h1.3v1.3h-1.3zM167.0 72.8h1.3v1.3h-1.3zM171.5 62.3h1.3v1.3h-1.3zM136.3 99.0h1.3v1.3h-1.3zM118.3 105.7h1.3v1.3h-1.3zM120.6 103.2h1.3v1.3h-1.3zM145.2 94.3h1.3v1.3h-1.3zM148.0 66.9h1.3v1.3h-1.3zM170.5 57.6h1.3v1.3h-1.3zM125.3 87.5h1.3v1.3h-1.3zM137.0 98.6h1.3v1.3h-1.3zM146.8 87.0h1.3v1.3h-1.3zM170.9 58.5h1.3v1.3h-1.3zM167.0 71.8h1.3v1.3h-1.3zM144.3 94.4h1.3v1.3h-1.3zM121.7 97.3h1.3v1.3h-1.3zM119.0 105.7h1.3v1.3h-1.3zM146.4 86.7h1.3v1.3h-1.3zM130.9 98.3h1.3v1.3h-1.3zM136.1 99.1h1.3v1.3h-1.3zM171.2 61.0h1.3v1.3h-1.3zM170.6 60.8h1.3v1.3h-1.3zM145.1 89.9h1.3v1.3h-1.3zM167.8 70.4h1.3v1.3h-1.3zM170.0 68.0h1.3v1.3h-1.3zM124.4 84.1h1.3v1.3h-1.3zM144.5 89.5h1.3v1.3h-1.3zM144.4 89.5h1.3v1.3h-1.3zM123.6 103.4h1.3v1.3h-1.3zM124.4 104.0h1.3v1.3h-1.3zM121.4 94.0h1.3v1.3h-1.3zM137.8 100.3h1.3v1.3h-1.3zM122.7 94.4h1.3v1.3h-1.3zM145.3 90.8h1.3v1.3h-1.3zM171.0 67.5h1.3v1.3h-1.3zM144.0 90.4h1.3v1.3h-1.3zM144.4 92.5h1.3v1.3h-1.3zM122.3 103.4h1.3v1.3h-1.3zM119.5 104.5h1.3v1.3h-1.3zM133.4 95.1h1.3v1.3h-1.3zM132.8 97.1h1.3v1.3h-1.3zM133.4 93.5h1.3v1.3h-1.3zM138.6 73.5h1.3v1.3h-1.3zM138.6 75.0h1.3v1.3h-1.3zM134.2 94.1h1.3v1.3h-1.3zM149.5 65.0h1.3v1.3h-1.3zM163.8 73.9h1.3v1.3h-1.3zM132.3 96.1h1.3v1.3h-1.3zM119.9 103.7h1.3v1.3h-1.3zM137.2 96.5h1.3v1.3h-1.3zM136.6 75.4h1.3v1.3h-1.3zM122.4 103.4h1.3v1.3h-1.3zM137.6 92.5h1.3v1.3h-1.3zM136.5 96.7h1.3v1.3h-1.3zM135.6 75.4h1.3v1.3h-1.3zM151.3 65.0h1.3v1.3h-1.3zM138.9 93.2h1.3v1.3h-1.3zM140.9 72.1h1.3v1.3h-1.3zM150.8 63.4h1.3v1.3h-1.3zM115.5 106.7h1.3v1.3h-1.3zM123.4 96.5h1.3v1.3h-1.3zM127.7 95.9h1.3v1.3h-1.3zM135.1 96.2h1.3v1.3h-1.3zM142.2 92.9h1.3v1.3h-1.3zM119.2 104.2h1.3v1.3h-1.3zM123.8 96.0h1.3v1.3h-1.3zM123.5 96.4h1.3v1.3h-1.3zM143.1 93.3h1.3v1.3h-1.3zM127.5 96.4h1.3v1.3h-1.3zM133.8 77.9h1.3v1.3h-1.3zM116.9 106.5h1.3v1.3h-1.3zM118.4 103.8h1.3v1.3h-1.3zM130.3 95.6h1.3v1.3h-1.3zM135.0 78.1h1.3v1.3h-1.3zM144.7 88.1h1.3v1.3h-1.3zM116.4 106.7h1.3v1.3h-1.3zM117.1 106.0h1.3v1.3h-1.3zM137.6 99.2h1.3v1.3h-1.3zM131.3 96.7h1.3v1.3h-1.3zM143.7 88.3h1.3v1.3h-1.3zM117.9 104.1h1.3v1.3h-1.3zM134.7 99.3h1.3v1.3h-1.3zM142.8 92.1h1.3v1.3h-1.3zM130.7 96.7h1.3v1.3h-1.3zM127.3 87.2h1.3v1.3h-1.3zM130.0 94.9h1.3v1.3h-1.3zM165.6 57.9h1.3v1.3h-1.3zM168.1 57.6h1.3v1.3h-1.3zM158.6 60.5h1.3v1.3h-1.3zM143.5 71.8h1.3v1.3h-1.3zM159.1 61.3h1.3v1.3h-1.3zM159.2 60.0h1.3v1.3h-1.3zM126.0 86.8h1.3v1.3h-1.3zM157.4 60.9h1.3v1.3h-1.3zM145.3 73.2h1.3v1.3h-1.3zM129.9 94.3h1.3v1.3h-1.3zM126.6 86.3h1.3v1.3h-1.3zM125.8 86.1h1.3v1.3h-1.3z"/><path fill="#0014ff" fill-opacity="0.8" d="M163.2 75.2h1.3v1.3h-1.3zM164.8 58.7h1.3v1.3h-1.3zM168.8 68.7h1.3v1.3h-1.3zM133.3 80.7h1.3v1.3h-1.3zM163.8 58.0h1.3v1.3h-1.3zM131.4 80.6h1.3v1.3h-1.3zM164.5 58.5h1.3v1.3h-1.3zM131.7 79.4h1.3v1.3h-1.3zM161.5 73.4h1.3v1.3h-1.3zM164.3 59.0h1.3v1.3h-1.3zM161.7 73.4h1.3v1.3h-1.3zM167.6 67.6h1.3v1.3h-1.3zM148.0 84.2h1.3v1.3h-1.3z"/><path fill="#001fff" fill-opacity="0.8" d="M126.2 85.2h1.3v1.3h-1.3zM170.4 62.9h1.3v1.3h-1.3zM170.9 62.7h1.3v1.3h-1.3zM169.6 61.8h1.3v1.3h-1.3zM170.0 62.5h1.3v1.3h-1.3zM126.1 85.0h1.3v1.3h-1.3z"/><path fill="#002aff" fill-opacity="0.8" d="M157.1 77.6h1.3v1.3h-1.3zM168.4 60.3h1.3v1.3h-1.3zM148.2 68.4h1.3v1.3h-1.3zM168.8 59.9h1.3v1.3h-1.3zM156.1 77.7h1.3v1.3h-1.3zM149.2 68.7h1.3v1.3h-1.3zM156.6 78.8h1.3v1.3h-1.3z"/><path fill="#0034ff" fill-opacity="0.8" d="M124.5 93.9h1.3v1.3h-1.3zM165.8 70.2h1.3v1.3h-1.3zM166.5 69.7h1.3v1.3h-1.3zM124.1 95.1h1.3v1.3h-1.3zM166.2 60.8h1.3v1.3h-1.3zM165.8 59.8h1.3v1.3h-1.3zM165.4 60.1h1.3v1.3h-1.3zM132.0 95.1h1.3v1.3h-1.3zM169.5 64.6h1.3v1.3h-1.3zM125.2 94.9h1.3v1.3h-1.3zM165.6 69.9h1.3v1.3h-1.3zM125.6 90.6h1.3v1.3h-1.3zM167.3 70.2h1.3v1.3h-1.3zM158.2 76.9h1.3v1.3h-1.3zM157.6 77.1h1.3v1.3h-1.3zM128.3 94.6h1.3v1.3h-1.3zM129.2 93.5h1.3v1.3h-1.3zM170.7 64.4h1.3v1.3h-1.3zM166.5 59.5h1.3v1.3h-1.3zM125.0 94.1h1.3v1.3h-1.3zM169.5 64.8h1.3v1.3h-1.3zM170.2 64.3h1.3v1.3h-1.3zM170.7 63.9h1.3v1.3h-1.3zM143.0 89.7h1.3v1.3h-1.3zM171.3 63.6h1.3v1.3h-1.3zM151.9 81.2h1.3v1.3h-1.3zM171.1 64.5h1.3v1.3h-1.3zM157.9 75.4h1.3v1.3h-1.3zM126.9 90.4h1.3v1.3h-1.3z"/><path fill="#003fff" fill-opacity="0.8" d="M124.2 93.2h1.3v1.3h-1.3zM140.8 74.5h1.3v1.3h-1.3zM124.3 91.9h1.3v1.3h-1.3zM123.6 93.0h1.3v1.3h-1.3zM124.4 93.1h1.3v1.3h-1.3zM170.2 66.5h1.3v1.3h-1.3zM140.3 74.5h1.3v1.3h-1.3zM139.9 75.2h1.3v1.3h-1.3zM139.5 75.2h1.3v1.3h-1.3z"/><path fill="#004aff" fill-opacity="0.8" d="M150.5 66.2h1.3v1.3h-1.3zM150.2 81.7h1.3v1.3h-1.3zM129.7 92.4h1.3v1.3h-1.3zM150.1 66.5h1.3v1.3h-1.3zM125.4 93.5h1.3v1.3h-1.3zM149.8 67.2h1.3v1.3h-1.3zM130.4 91.5h1.3v1.3h-1.3zM131.0 92.7h1.3v1.3h-1.3zM127.3 94.4h1.3v1.3h-1.3zM149.8 67.3h1.3v1.3h-1.3zM126.2 93.8h1.3v1.3h-1.3zM127.1 93.8h1.3v1.3h-1.3zM125.8 93.9h1.3v1.3h-1.3zM126.0 94.9h1.3v1.3h-1.3zM129.4 91.9h1.3v1.3h-1.3zM151.2 82.4h1.3v1.3h-1.3zM145.1 86.3h1.3v1.3h-1.3zM144.4 85.4h1.3v1.3h-1.3zM150.4 66.3h1.3v1.3h-1.3z"/><path fill="#0055ff" fill-opacity="0.8" d="M154.7 64.6h1.3v1.3h-1.3zM125.5 89.3h1.3v1.3h-1.3zM154.4 64.6h1.3v1.3h-1.3zM141.4 75.2h1.3v1.3h-1.3zM163.7 72.9h1.3v1.3h-1.3zM143.2 74.6h1.3v1.3h-1.3zM142.5 73.8h1.3v1.3h-1.3zM139.0 77.2h1.3v1.3h-1.3zM155.3 64.6h1.3v1.3h-1.3zM139.0 77.1h1.3v1.3h-1.3zM142.4 75.0h1.3v1.3h-1.3zM142.2 74.9h1.3v1.3h-1.3z"/><path fill="#0060ff" fill-opacity="0.8" d="M145.1 75.3h1.3v1.3h-1.3zM156.0 62.5h1.3v1.3h-1.3zM142.9 88.2h1.3v1.3h-1.3zM143.9 75.0h1.3v1.3h-1.3zM141.6 88.6h1.3v1.3h-1.3zM152.8 63.9h1.3v1.3h-1.3zM151.5 64.8h1.3v1.3h-1.3zM144.6 75.2h1.3v1.3h-1.3zM129.0 91.9h1.3v1.3h-1.3z"/><path fill="#006bff" fill-opacity="0.8" d="M161.9 71.7h1.3v1.3h-1.3zM146.2 71.9h1.3v1.3h-1.3zM134.3 91.9h1.3v1.3h-1.3zM146.8 73.1h1.3v1.3h-1.3zM160.4 61.3h1.3v1.3h-1.3zM134.2 92.3h1.3v1.3h-1.3zM145.9 73.3h1.3v1.3h-1.3zM133.6 92.2h1.3v1.3h-1.3zM147.0 71.8h1.3v1.3h-1.3zM133.7 93.2h1.3v1.3h-1.3zM135.1 92.8h1.3v1.3h-1.3zM162.6 72.0h1.3v1.3h-1.3zM163.1 72.1h1.3v1.3h-1.3zM161.6 72.4h1.3v1.3h-1.3zM162.6 71.5h1.3v1.3h-1.3zM159.5 61.3h1.3v1.3h-1.3zM162.8 72.5h1.3v1.3h-1.3z"/><path fill="#0075ff" fill-opacity="0.8" d="M135.5 78.6h1.3v1.3h-1.3zM166.9 68.5h1.3v1.3h-1.3zM140.5 90.3h1.3v1.3h-1.3zM162.2 60.0h1.3v1.3h-1.3zM136.9 93.2h1.3v1.3h-1.3zM139.7 89.4h1.3v1.3h-1.3zM162.7 59.7h1.3v1.3h-1.3zM162.6 61.3h1.3v1.3h-1.3zM140.3 90.5h1.3v1.3h-1.3zM136.9 79.0h1.3v1.3h-1.3zM135.7 78.2h1.3v1.3h-1.3zM162.2 59.6h1.3v1.3h-1.3zM167.2 69.3h1.3v1.3h-1.3zM140.1 90.6h1.3v1.3h-1.3zM136.1 78.2h1.3v1.3h-1.3z"/><path fill="#0080ff" fill-opacity="0.8" d="M126.9 92.3h1.3v1.3h-1.3zM164.4 67.5h1.3v1.3h-1.3zM147.1 83.4h1.3v1.3h-1.3zM126.8 92.2h1.3v1.3h-1.3zM163.9 67.7h1.3v1.3h-1.3zM163.7 68.2h1.3v1.3h-1.3zM129.3 89.6h1.3v1.3h-1.3zM126.5 92.4h1.3v1.3h-1.3zM164.9 60.7h1.3v1.3h-1.3zM160.5 75.3h1.3v1.3h-1.3zM128.8 89.7h1.3v1.3h-1.3zM127.8 90.8h1.3v1.3h-1.3zM164.2 69.3h1.3v1.3h-1.3zM127.5 90.0h1.3v1.3h-1.3zM145.6 84.9h1.3v1.3h-1.3zM160.5 74.7h1.3v1.3h-1.3zM160.1 73.7h1.3v1.3h-1.3zM129.2 91.1h1.3v1.3h-1.3zM165.0 68.7h1.3v1.3h-1.3z"/><path fill="#008bff" fill-opacity="0.8" d="M128.4 85.9h1.3v1.3h-1.3zM127.8 87.0h1.3v1.3h-1.3zM128.5 86.4h1.3v1.3h-1.3zM128.9 85.7h1.3v1.3h-1.3zM127.5 86.5h1.3v1.3h-1.3zM127.7 86.1h1.3v1.3h-1.3z"/><path fill="#0096ff" fill-opacity="0.8" d="M157.9 61.4h1.3v1.3h-1.3zM168.0 66.4h1.3v1.3h-1.3zM169.2 66.5h1.3v1.3h-1.3zM157.4 63.0h1.3v1.3h-1.3zM131.7 82.7h1.3v1.3h-1.3zM132.5 82.4h1.3v1.3h-1.3zM169.3 66.2h1.3v1.3h-1.3zM167.4 66.2h1.3v1.3h-1.3zM163.4 71.0h1.3v1.3h-1.3zM158.4 62.9h1.3v1.3h-1.3zM169.2 66.6h1.3v1.3h-1.3zM165.2 71.2h1.3v1.3h-1.3zM158.1 62.9h1.3v1.3h-1.3zM167.9 67.2h1.3v1.3h-1.3zM163.5 69.8h1.3v1.3h-1.3zM165.3 70.5h1.3v1.3h-1.3zM133.0 83.0h1.3v1.3h-1.3z"/><path fill="#00a1ff" fill-opacity="0.8" d="M129.9 84.4h1.3v1.3h-1.3zM140.7 88.3h1.3v1.3h-1.3zM156.2 76.1h1.3v1.3h-1.3zM139.9 89.1h1.3v1.3h-1.3zM156.4 76.0h1.3v1.3h-1.3zM133.3 92.1h1.3v1.3h-1.3zM140.5 87.8h1.3v1.3h-1.3zM133.7 80.3h1.3v1.3h-1.3zM142.1 86.7h1.3v1.3h-1.3zM156.5 75.7h1.3v1.3h-1.3zM140.4 88.5h1.3v1.3h-1.3zM155.4 75.4h1.3v1.3h-1.3zM134.3 79.6h1.3v1.3h-1.3zM130.5 83.4h1.3v1.3h-1.3zM140.9 89.2h1.3v1.3h-1.3zM132.0 92.6h1.3v1.3h-1.3zM154.8 79.1h1.3v1.3h-1.3zM155.8 75.8h1.3v1.3h-1.3zM142.9 85.4h1.3v1.3h-1.3zM129.7 83.8h1.3v1.3h-1.3z"/><path fill="#00acff" fill-opacity="0.8" d="M148.1 71.1h1.3v1.3h-1.3zM166.2 62.6h1.3v1.3h-1.3zM165.9 61.9h1.3v1.3h-1.3zM165.7 62.5h1.3v1.3h-1.3zM165.7 61.4h1.3v1.3h-1.3zM147.5 71.3h1.3v1.3h-1.3zM141.3 76.4h1.3v1.3h-1.3zM148.6 69.4h1.3v1.3h-1.3zM165.9 62.7h1.3v1.3h-1.3zM139.4 77.3h1.3v1.3h-1.3zM141.1 77.1h1.3v1.3h-1.3z"/><path fill="#00b6ff" fill-opacity="0.8" d="M137.8 90.0h1.3v1.3h-1.3zM138.9 90.1h1.3v1.3h-1.3zM138.2 90.4h1.3v1.3h-1.3zM168.5 62.5h1.3v1.3h-1.3zM128.7 88.4h1.3v1.3h-1.3zM128.9 87.9h1.3v1.3h-1.3zM139.3 90.3h1.3v1.3h-1.3zM145.8 74.0h1.3v1.3h-1.3zM127.7 87.7h1.3v1.3h-1.3zM138.1 90.1h1.3v1.3h-1.3zM146.3 75.0h1.3v1.3h-1.3z"/><path fill="#00c1ff" fill-opacity="0.8" d="M168.6 63.8h1.3v1.3h-1.3zM169.3 64.5h1.3v1.3h-1.3zM167.5 63.6h1.3v1.3h-1.3z"/><path fill="#00ccff" fill-opacity="0.8" d="M164.0 67.1h1.3v1.3h-1.3zM166.6 66.2h1.3v1.3h-1.3zM158.6 74.3h1.3v1.3h-1.3zM167.3 66.6h1.3v1.3h-1.3zM163.3 67.7h1.3v1.3h-1.3zM163.7 65.9h1.3v1.3h-1.3zM163.0 68.4h1.3v1.3h-1.3zM162.8 68.5h1.3v1.3h-1.3zM164.9 66.0h1.3v1.3h-1.3zM158.4 73.5h1.3v1.3h-1.3zM157.6 75.0h1.3v1.3h-1.3z"/><path fill="#00d7ff" fill-opacity="0.8" d="M166.1 64.6h1.3v1.3h-1.3zM165.5 64.9h1.3v1.3h-1.3zM149.0 83.0h1.3v1.3h-1.3zM148.9 82.5h1.3v1.3h-1.3zM162.4 70.6h1.3v1.3h-1.3zM138.2 77.6h1.3v1.3h-1.3zM153.2 67.0h1.3v1.3h-1.3zM139.0 77.9h1.3v1.3h-1.3zM147.6 81.6h1.3v1.3h-1.3zM151.8 67.2h1.3v1.3h-1.3zM165.7 64.4h1.3v1.3h-1.3zM162.7 70.1h1.3v1.3h-1.3zM130.0 90.6h1.3v1.3h-1.3zM150.4 69.2h1.3v1.3h-1.3zM148.2 82.8h1.3v1.3h-1.3zM165.6 64.7h1.3v1.3h-1.3zM162.1 70.8h1.3v1.3h-1.3zM165.9 63.4h1.3v1.3h-1.3zM148.8 82.4h1.3v1.3h-1.3zM129.6 90.1h1.3v1.3h-1.3zM161.5 70.3h1.3v1.3h-1.3zM149.1 82.8h1.3v1.3h-1.3zM138.6 78.4h1.3v1.3h-1.3zM162.5 70.3h1.3v1.3h-1.3zM151.9 66.5h1.3v1.3h-1.3zM151.6 66.9h1.3v1.3h-1.3zM167.0 63.9h1.3v1.3h-1.3zM166.2 64.3h1.3v1.3h-1.3z"/><path fill="#00e2ff" fill-opacity="0.8" d="M143.8 83.7h1.3v1.3h-1.3zM163.1 62.8h1.3v1.3h-1.3zM161.9 63.2h1.3v1.3h-1.3zM161.5 63.1h1.3v1.3h-1.3zM162.7 62.0h1.3v1.3h-1.3zM145.1 84.2h1.3v1.3h-1.3zM161.9 61.4h1.3v1.3h-1.3zM162.0 62.1h1.3v1.3h-1.3zM144.9 84.2h1.3v1.3h-1.3zM144.7 83.7h1.3v1.3h-1.3zM161.4 63.3h1.3v1.3h-1.3zM145.2 84.3h1.3v1.3h-1.3z"/><path fill="#00edff" fill-opacity="0.8" d="M160.9 71.4h1.3v1.3h-1.3zM160.0 72.5h1.3v1.3h-1.3zM160.6 71.4h1.3v1.3h-1.3zM159.6 72.9h1.3v1.3h-1.3z"/><path fill="#00f7ff" fill-opacity="0.8" d="M133.3 84.8h1.3v1.3h-1.3zM132.4 84.4h1.3v1.3h-1.3zM133.0 84.6h1.3v1.3h-1.3zM151.3 81.2h1.3v1.3h-1.3zM133.3 83.7h1.3v1.3h-1.3zM150.4 81.2h1.3v1.3h-1.3zM133.2 83.5h1.3v1.3h-1.3zM133.0 84.6h1.3v1.3h-1.3zM131.4 84.7h1.3v1.3h-1.3zM149.7 79.6h1.3v1.3h-1.3zM149.4 79.4h1.3v1.3h-1.3zM131.9 84.7h1.3v1.3h-1.3zM132.2 84.1h1.3v1.3h-1.3zM150.4 79.6h1.3v1.3h-1.3z"/><path fill="#03fffb" fill-opacity="0.8" d="M162.5 64.3h1.3v1.3h-1.3zM156.0 64.8h1.3v1.3h-1.3zM156.8 64.0h1.3v1.3h-1.3zM161.5 64.3h1.3v1.3h-1.3zM163.2 63.7h1.3v1.3h-1.3zM163.1 63.7h1.3v1.3h-1.3zM162.7 64.2h1.3v1.3h-1.3zM162.1 64.1h1.3v1.3h-1.3z"/><path fill="#0efff0" fill-opacity="0.8" d="M165.2 63.8h1.3v1.3h-1.3zM152.6 77.4h1.3v1.3h-1.3zM159.1 64.5h1.3v1.3h-1.3zM157.4 64.4h1.3v1.3h-1.3zM164.2 64.3h1.3v1.3h-1.3zM148.4 72.8h1.3v1.3h-1.3zM152.0 78.1h1.3v1.3h-1.3zM164.1 63.5h1.3v1.3h-1.3zM134.9 90.1h1.3v1.3h-1.3zM158.9 64.3h1.3v1.3h-1.3zM134.5 90.5h1.3v1.3h-1.3zM164.9 63.5h1.3v1.3h-1.3zM134.8 89.8h1.3v1.3h-1.3zM147.4 71.9h1.3v1.3h-1.3zM152.8 79.3h1.3v1.3h-1.3zM139.6 78.5h1.3v1.3h-1.3zM139.7 86.9h1.3v1.3h-1.3zM158.3 63.9h1.3v1.3h-1.3zM147.5 72.4h1.3v1.3h-1.3zM139.7 85.5h1.3v1.3h-1.3zM158.8 64.2h1.3v1.3h-1.3zM140.4 77.7h1.3v1.3h-1.3zM151.7 78.5h1.3v1.3h-1.3zM149.2 71.6h1.3v1.3h-1.3zM157.6 64.0h1.3v1.3h-1.3zM133.7 91.0h1.3v1.3h-1.3zM134.5 91.1h1.3v1.3h-1.3zM147.8 72.5h1.3v1.3h-1.3zM148.0 72.3h1.3v1.3h-1.3zM141.0 79.3h1.3v1.3h-1.3zM163.6 65.3h1.3v1.3h-1.3zM159.0 64.4h1.3v1.3h-1.3zM134.0 90.8h1.3v1.3h-1.3zM134.0 89.5h1.3v1.3h-1.3zM140.6 85.4h1.3v1.3h-1.3zM134.2 90.2h1.3v1.3h-1.3zM140.8 79.2h1.3v1.3h-1.3zM136.1 89.8h1.3v1.3h-1.3zM148.7 72.7h1.3v1.3h-1.3zM139.8 77.7h1.3v1.3h-1.3zM147.8 71.8h1.3v1.3h-1.3zM157.4 64.4h1.3v1.3h-1.3zM158.9 65.1h1.3v1.3h-1.3zM165.1 64.1h1.3v1.3h-1.3zM159.1 63.8h1.3v1.3h-1.3zM161.7 67.3h1.3v1.3h-1.3zM147.8 73.0h1.3v1.3h-1.3zM140.7 86.1h1.3v1.3h-1.3zM165.1 63.6h1.3v1.3h-1.3zM162.9 66.5h1.3v1.3h-1.3zM151.6 77.8h1.3v1.3h-1.3zM158.1 65.1h1.3v1.3h-1.3zM135.5 90.3h1.3v1.3h-1.3z"/><path fill="#19ffe5" fill-opacity="0.8" d="M161.3 69.0h1.3v1.3h-1.3zM160.3 68.8h1.3v1.3h-1.3zM160.9 67.4h1.3v1.3h-1.3zM160.7 68.0h1.3v1.3h-1.3zM161.1 68.7h1.3v1.3h-1.3zM159.5 68.0h1.3v1.3h-1.3zM160.5 67.8h1.3v1.3h-1.3zM161.3 68.9h1.3v1.3h-1.3zM160.8 67.5h1.3v1.3h-1.3z"/><path fill="#24ffda" fill-opacity="0.8" d="M164.6 63.2h1.3v1.3h-1.3zM164.7 61.5h1.3v1.3h-1.3zM154.1 65.5h1.3v1.3h-1.3zM142.0 84.6h1.3v1.3h-1.3zM142.4 76.8h1.3v1.3h-1.3zM155.2 67.1h1.3v1.3h-1.3zM154.9 66.0h1.3v1.3h-1.3zM142.5 83.5h1.3v1.3h-1.3zM155.2 66.4h1.3v1.3h-1.3zM143.0 83.5h1.3v1.3h-1.3zM153.9 66.2h1.3v1.3h-1.3zM142.1 83.4h1.3v1.3h-1.3zM142.6 83.6h1.3v1.3h-1.3zM154.5 67.1h1.3v1.3h-1.3zM142.0 76.6h1.3v1.3h-1.3zM154.0 67.0h1.3v1.3h-1.3zM142.0 76.3h1.3v1.3h-1.3zM142.4 84.4h1.3v1.3h-1.3zM165.3 62.9h1.3v1.3h-1.3zM143.2 76.7h1.3v1.3h-1.3zM163.9 61.7h1.3v1.3h-1.3zM141.8 76.1h1.3v1.3h-1.3zM141.5 85.0h1.3v1.3h-1.3z"/><path fill="#2fffcf" fill-opacity="0.8" d="M132.7 89.7h1.3v1.3h-1.3zM144.2 77.3h1.3v1.3h-1.3zM129.4 86.6h1.3v1.3h-1.3zM132.1 89.5h1.3v1.3h-1.3zM131.8 90.1h1.3v1.3h-1.3zM132.8 90.3h1.3v1.3h-1.3zM160.3 62.7h1.3v1.3h-1.3zM161.0 69.6h1.3v1.3h-1.3zM160.3 63.0h1.3v1.3h-1.3zM160.8 62.8h1.3v1.3h-1.3zM143.8 76.2h1.3v1.3h-1.3zM159.5 63.2h1.3v1.3h-1.3zM160.0 63.3h1.3v1.3h-1.3zM132.1 90.7h1.3v1.3h-1.3zM129.6 86.4h1.3v1.3h-1.3zM144.7 76.1h1.3v1.3h-1.3zM129.9 86.8h1.3v1.3h-1.3zM132.3 90.8h1.3v1.3h-1.3z"/><path fill="#39ffc5" fill-opacity="0.8" d="M138.4 87.6h1.3v1.3h-1.3zM131.1 89.0h1.3v1.3h-1.3zM130.3 88.0h1.3v1.3h-1.3zM137.6 87.4h1.3v1.3h-1.3zM129.5 87.5h1.3v1.3h-1.3zM137.9 87.4h1.3v1.3h-1.3zM154.1 76.8h1.3v1.3h-1.3zM158.5 72.7h1.3v1.3h-1.3zM154.3 77.2h1.3v1.3h-1.3zM131.0 87.6h1.3v1.3h-1.3zM154.1 75.9h1.3v1.3h-1.3zM154.8 75.7h1.3v1.3h-1.3zM130.2 87.8h1.3v1.3h-1.3zM153.8 76.0h1.3v1.3h-1.3zM138.9 87.5h1.3v1.3h-1.3zM157.6 72.4h1.3v1.3h-1.3zM129.5 88.2h1.3v1.3h-1.3zM138.4 89.1h1.3v1.3h-1.3zM138.5 88.4h1.3v1.3h-1.3zM130.9 87.4h1.3v1.3h-1.3zM157.8 72.7h1.3v1.3h-1.3zM158.4 72.9h1.3v1.3h-1.3zM138.5 87.5h1.3v1.3h-1.3zM157.5 71.8h1.3v1.3h-1.3zM131.1 88.6h1.3v1.3h-1.3zM130.5 88.0h1.3v1.3h-1.3zM154.5 76.3h1.3v1.3h-1.3zM159.1 71.6h1.3v1.3h-1.3z"/><path fill="#44ffba" fill-opacity="0.8" d="M133.0 86.5h1.3v1.3h-1.3zM147.4 74.3h1.3v1.3h-1.3zM133.3 85.7h1.3v1.3h-1.3zM133.3 85.4h1.3v1.3h-1.3zM131.6 85.8h1.3v1.3h-1.3zM147.7 74.1h1.3v1.3h-1.3zM132.5 86.9h1.3v1.3h-1.3zM147.5 73.9h1.3v1.3h-1.3zM133.2 85.5h1.3v1.3h-1.3zM147.9 73.9h1.3v1.3h-1.3zM132.1 86.4h1.3v1.3h-1.3z"/><path fill="#4fffaf" fill-opacity="0.8" d="M145.7 76.7h1.3v1.3h-1.3zM133.7 81.4h1.3v1.3h-1.3zM134.5 82.2h1.3v1.3h-1.3zM135.2 83.3h1.3v1.3h-1.3zM160.2 67.3h1.3v1.3h-1.3zM134.8 82.3h1.3v1.3h-1.3zM160.4 66.9h1.3v1.3h-1.3zM160.8 66.3h1.3v1.3h-1.3zM134.8 83.3h1.3v1.3h-1.3zM133.8 83.2h1.3v1.3h-1.3zM161.2 67.2h1.3v1.3h-1.3zM160.9 66.3h1.3v1.3h-1.3zM146.2 76.9h1.3v1.3h-1.3zM135.2 83.0h1.3v1.3h-1.3zM133.4 82.2h1.3v1.3h-1.3zM134.5 81.9h1.3v1.3h-1.3zM145.5 75.5h1.3v1.3h-1.3z"/><path fill="#5affa4" fill-opacity="0.8" d="M160.5 64.5h1.3v1.3h-1.3zM159.4 64.9h1.3v1.3h-1.3zM147.2 82.2h1.3v1.3h-1.3zM132.4 88.3h1.3v1.3h-1.3zM132.0 87.6h1.3v1.3h-1.3zM151.0 70.8h1.3v1.3h-1.3zM147.1 81.8h1.3v1.3h-1.3zM161.1 63.7h1.3v1.3h-1.3zM157.1 74.2h1.3v1.3h-1.3zM132.1 88.6h1.3v1.3h-1.3zM132.3 89.2h1.3v1.3h-1.3zM156.0 74.9h1.3v1.3h-1.3zM150.7 70.8h1.3v1.3h-1.3zM150.6 69.7h1.3v1.3h-1.3zM149.5 69.9h1.3v1.3h-1.3zM156.0 73.8h1.3v1.3h-1.3zM146.0 82.6h1.3v1.3h-1.3zM147.3 82.1h1.3v1.3h-1.3zM132.0 87.6h1.3v1.3h-1.3zM149.5 71.0h1.3v1.3h-1.3zM145.7 83.2h1.3v1.3h-1.3zM155.9 74.9h1.3v1.3h-1.3zM155.5 74.4h1.3v1.3h-1.3zM149.8 69.4h1.3v1.3h-1.3zM147.0 81.4h1.3v1.3h-1.3zM150.9 70.1h1.3v1.3h-1.3zM133.0 89.2h1.3v1.3h-1.3zM151.1 71.2h1.3v1.3h-1.3z"/><path fill="#65ff99" fill-opacity="0.8" d="M135.5 88.3h1.3v1.3h-1.3zM142.9 78.1h1.3v1.3h-1.3zM143.0 77.6h1.3v1.3h-1.3zM142.9 77.5h1.3v1.3h-1.3zM136.3 87.9h1.3v1.3h-1.3zM136.3 88.9h1.3v1.3h-1.3zM142.6 77.4h1.3v1.3h-1.3zM137.2 87.7h1.3v1.3h-1.3zM137.1 88.1h1.3v1.3h-1.3zM141.9 78.8h1.3v1.3h-1.3zM135.4 87.8h1.3v1.3h-1.3zM135.7 88.4h1.3v1.3h-1.3zM136.1 87.8h1.3v1.3h-1.3zM136.2 89.0h1.3v1.3h-1.3z"/><path fill="#7aff84" fill-opacity="0.8" d="M148.3 76.8h1.3v1.3h-1.3zM148.2 77.1h1.3v1.3h-1.3zM148.4 75.9h1.3v1.3h-1.3zM148.4 77.2h1.3v1.3h-1.3zM148.3 76.0h1.3v1.3h-1.3z"/><path fill="#85ff79" fill-opacity="0.8" d="M151.6 68.6h1.3v1.3h-1.3zM158.6 66.2h1.3v1.3h-1.3zM152.1 68.7h1.3v1.3h-1.3zM157.7 66.2h1.3v1.3h-1.3zM149.6 78.6h1.3v1.3h-1.3zM151.8 67.8h1.3v1.3h-1.3zM151.6 68.7h1.3v1.3h-1.3zM157.1 66.7h1.3v1.3h-1.3zM151.1 78.0h1.3v1.3h-1.3zM150.6 79.0h1.3v1.3h-1.3zM157.3 66.4h1.3v1.3h-1.3zM158.7 67.0h1.3v1.3h-1.3zM155.6 66.8h1.3v1.3h-1.3zM150.3 77.7h1.3v1.3h-1.3zM149.7 77.4h1.3v1.3h-1.3zM158.1 66.6h1.3v1.3h-1.3zM159.0 66.4h1.3v1.3h-1.3zM156.9 66.9h1.3v1.3h-1.3zM159.0 66.2h1.3v1.3h-1.3zM151.8 67.5h1.3v1.3h-1.3zM157.5 66.4h1.3v1.3h-1.3zM150.5 77.7h1.3v1.3h-1.3zM152.7 68.9h1.3v1.3h-1.3zM157.0 66.7h1.3v1.3h-1.3z"/><path fill="#90ff6e" fill-opacity="0.8" d="M134.8 88.0h1.3v1.3h-1.3zM143.9 82.8h1.3v1.3h-1.3zM142.2 83.0h1.3v1.3h-1.3zM142.3 82.0h1.3v1.3h-1.3zM143.7 82.2h1.3v1.3h-1.3zM143.1 82.7h1.3v1.3h-1.3zM136.7 80.7h1.3v1.3h-1.3zM145.0 81.7h1.3v1.3h-1.3zM136.3 80.6h1.3v1.3h-1.3zM144.6 82.1h1.3v1.3h-1.3zM144.2 81.5h1.3v1.3h-1.3zM134.3 87.5h1.3v1.3h-1.3zM141.5 83.0h1.3v1.3h-1.3zM134.5 87.7h1.3v1.3h-1.3zM133.8 88.8h1.3v1.3h-1.3zM141.9 81.6h1.3v1.3h-1.3zM143.2 82.2h1.3v1.3h-1.3zM145.1 83.1h1.3v1.3h-1.3zM141.8 82.6h1.3v1.3h-1.3zM136.7 80.0h1.3v1.3h-1.3z"/><path fill="#9bff63" fill-opacity="0.8" d="M152.4 76.8h1.3v1.3h-1.3zM151.6 77.1h1.3v1.3h-1.3zM153.2 76.5h1.3v1.3h-1.3zM152.4 76.8h1.3v1.3h-1.3zM153.1 76.3h1.3v1.3h-1.3zM158.5 67.4h1.3v1.3h-1.3zM157.8 68.2h1.3v1.3h-1.3zM158.7 68.4h1.3v1.3h-1.3zM152.2 76.4h1.3v1.3h-1.3zM152.3 75.6h1.3v1.3h-1.3zM152.2 75.5h1.3v1.3h-1.3zM151.7 75.7h1.3v1.3h-1.3z"/><path fill="#a6ff58" fill-opacity="0.8" d="M157.8 70.8h1.3v1.3h-1.3zM157.8 70.6h1.3v1.3h-1.3zM149.1 80.6h1.3v1.3h-1.3zM147.8 79.5h1.3v1.3h-1.3zM158.6 69.7h1.3v1.3h-1.3zM157.5 69.8h1.3v1.3h-1.3zM157.8 70.6h1.3v1.3h-1.3zM158.7 71.2h1.3v1.3h-1.3zM147.8 80.0h1.3v1.3h-1.3zM158.3 71.0h1.3v1.3h-1.3zM149.3 81.1h1.3v1.3h-1.3zM159.1 69.8h1.3v1.3h-1.3zM149.2 80.8h1.3v1.3h-1.3zM157.7 69.8h1.3v1.3h-1.3zM147.6 81.0h1.3v1.3h-1.3z"/><path fill="#b0ff4e" fill-opacity="0.8" d="M141.2 83.4h1.3v1.3h-1.3zM140.2 83.6h1.3v1.3h-1.3zM144.3 78.3h1.3v1.3h-1.3zM145.3 78.5h1.3v1.3h-1.3zM139.5 84.5h1.3v1.3h-1.3zM152.0 71.1h1.3v1.3h-1.3zM152.0 71.1h1.3v1.3h-1.3zM143.9 78.8h1.3v1.3h-1.3zM135.5 87.3h1.3v1.3h-1.3zM136.9 85.7h1.3v1.3h-1.3zM143.8 79.1h1.3v1.3h-1.3zM144.1 77.8h1.3v1.3h-1.3zM152.1 69.8h1.3v1.3h-1.3zM152.2 71.1h1.3v1.3h-1.3zM135.7 87.0h1.3v1.3h-1.3zM143.4 77.9h1.3v1.3h-1.3zM135.9 86.0h1.3v1.3h-1.3zM144.9 79.0h1.3v1.3h-1.3zM152.4 70.6h1.3v1.3h-1.3zM144.8 78.5h1.3v1.3h-1.3zM136.2 87.3h1.3v1.3h-1.3zM143.7 77.9h1.3v1.3h-1.3zM151.5 69.8h1.3v1.3h-1.3zM136.2 85.9h1.3v1.3h-1.3zM137.2 85.8h1.3v1.3h-1.3zM152.8 70.5h1.3v1.3h-1.3zM144.0 78.9h1.3v1.3h-1.3zM135.7 87.0h1.3v1.3h-1.3zM145.0 77.9h1.3v1.3h-1.3zM152.0 71.2h1.3v1.3h-1.3zM139.7 84.0h1.3v1.3h-1.3zM144.2 77.4h1.3v1.3h-1.3z"/><path fill="#bbff43" fill-opacity="0.8" d="M150.2 72.2h1.3v1.3h-1.3zM149.3 79.1h1.3v1.3h-1.3zM148.5 77.6h1.3v1.3h-1.3zM148.1 77.8h1.3v1.3h-1.3zM150.1 73.2h1.3v1.3h-1.3zM147.9 78.1h1.3v1.3h-1.3zM147.6 78.2h1.3v1.3h-1.3zM150.3 72.1h1.3v1.3h-1.3zM147.9 77.9h1.3v1.3h-1.3zM148.5 77.5h1.3v1.3h-1.3zM147.7 79.0h1.3v1.3h-1.3zM148.3 78.1h1.3v1.3h-1.3zM149.6 72.8h1.3v1.3h-1.3zM150.9 71.7h1.3v1.3h-1.3z"/><path fill="#c6ff38" fill-opacity="0.8" d="M150.7 76.1h1.3v1.3h-1.3zM151.0 77.3h1.3v1.3h-1.3zM149.8 75.5h1.3v1.3h-1.3zM138.5 81.3h1.3v1.3h-1.3zM137.9 86.3h1.3v1.3h-1.3zM138.8 81.0h1.3v1.3h-1.3zM150.7 76.7h1.3v1.3h-1.3zM137.9 80.3h1.3v1.3h-1.3zM137.7 86.3h1.3v1.3h-1.3zM139.1 80.5h1.3v1.3h-1.3zM150.3 76.4h1.3v1.3h-1.3zM150.1 76.3h1.3v1.3h-1.3zM151.0 76.9h1.3v1.3h-1.3zM138.2 80.7h1.3v1.3h-1.3zM137.8 80.1h1.3v1.3h-1.3zM137.6 80.6h1.3v1.3h-1.3zM137.6 80.8h1.3v1.3h-1.3zM137.7 80.1h1.3v1.3h-1.3zM139.0 80.6h1.3v1.3h-1.3zM137.8 86.9h1.3v1.3h-1.3zM138.0 80.3h1.3v1.3h-1.3zM150.8 76.8h1.3v1.3h-1.3z"/><path fill="#d1ff2d" fill-opacity="0.8" d="M156.7 71.5h1.3v1.3h-1.3zM156.4 72.4h1.3v1.3h-1.3zM153.7 73.9h1.3v1.3h-1.3zM153.5 73.8h1.3v1.3h-1.3zM155.8 72.9h1.3v1.3h-1.3zM135.1 85.7h1.3v1.3h-1.3zM133.9 84.4h1.3v1.3h-1.3zM156.3 71.6h1.3v1.3h-1.3zM134.7 87.2h1.3v1.3h-1.3zM143.1 80.5h1.3v1.3h-1.3zM142.7 79.6h1.3v1.3h-1.3zM133.5 83.6h1.3v1.3h-1.3zM157.0 72.0h1.3v1.3h-1.3zM154.4 73.9h1.3v1.3h-1.3zM156.1 72.5h1.3v1.3h-1.3zM142.6 80.6h1.3v1.3h-1.3zM143.0 80.6h1.3v1.3h-1.3zM155.0 75.0h1.3v1.3h-1.3zM156.6 71.8h1.3v1.3h-1.3zM154.5 73.6h1.3v1.3h-1.3zM156.2 72.5h1.3v1.3h-1.3zM154.3 74.8h1.3v1.3h-1.3zM134.8 86.3h1.3v1.3h-1.3zM134.2 87.3h1.3v1.3h-1.3zM153.8 73.6h1.3v1.3h-1.3zM133.8 86.0h1.3v1.3h-1.3z"/><path fill="#dcff22" fill-opacity="0.8" d="M140.8 79.9h1.3v1.3h-1.3zM153.9 68.5h1.3v1.3h-1.3zM153.7 68.3h1.3v1.3h-1.3zM153.4 68.4h1.3v1.3h-1.3zM151.1 74.2h1.3v1.3h-1.3zM149.4 74.2h1.3v1.3h-1.3zM149.7 74.0h1.3v1.3h-1.3zM150.2 73.5h1.3v1.3h-1.3zM149.6 74.9h1.3v1.3h-1.3zM141.0 81.2h1.3v1.3h-1.3zM154.6 67.8h1.3v1.3h-1.3zM154.8 68.7h1.3v1.3h-1.3zM149.4 74.1h1.3v1.3h-1.3zM139.5 79.7h1.3v1.3h-1.3zM149.8 73.9h1.3v1.3h-1.3zM150.7 74.4h1.3v1.3h-1.3zM140.7 80.6h1.3v1.3h-1.3zM140.7 79.6h1.3v1.3h-1.3zM154.1 67.8h1.3v1.3h-1.3zM154.9 68.2h1.3v1.3h-1.3z"/><path fill="#e7ff17" fill-opacity="0.8" d="M155.9 67.4h1.3v1.3h-1.3zM155.7 69.3h1.3v1.3h-1.3zM155.9 67.8h1.3v1.3h-1.3zM157.2 68.4h1.3v1.3h-1.3zM157.3 68.2h1.3v1.3h-1.3zM155.4 69.1h1.3v1.3h-1.3zM157.2 68.9h1.3v1.3h-1.3zM155.6 69.1h1.3v1.3h-1.3zM155.4 68.5h1.3v1.3h-1.3z"/><path fill="#f1ff0d" fill-opacity="0.8" d="M151.8 74.8h1.3v1.3h-1.3zM146.6 79.0h1.3v1.3h-1.3zM146.5 77.6h1.3v1.3h-1.3zM152.5 74.4h1.3v1.3h-1.3zM146.3 77.8h1.3v1.3h-1.3zM146.5 78.0h1.3v1.3h-1.3zM145.6 78.9h1.3v1.3h-1.3zM151.6 74.9h1.3v1.3h-1.3zM151.9 75.2h1.3v1.3h-1.3zM147.0 77.8h1.3v1.3h-1.3zM147.1 78.3h1.3v1.3h-1.3zM152.5 74.6h1.3v1.3h-1.3zM147.0 78.4h1.3v1.3h-1.3zM151.9 74.2h1.3v1.3h-1.3z"/><path fill="#fcff02" fill-opacity="0.8" d="M154.6 72.6h1.3v1.3h-1.3zM155.0 71.4h1.3v1.3h-1.3zM155.4 70.1h1.3v1.3h-1.3zM156.6 70.0h1.3v1.3h-1.3zM151.8 71.7h1.3v1.3h-1.3zM153.5 71.8h1.3v1.3h-1.3zM154.1 71.9h1.3v1.3h-1.3zM156.4 69.7h1.3v1.3h-1.3zM156.5 71.2h1.3v1.3h-1.3zM152.4 73.0h1.3v1.3h-1.3zM151.7 71.4h1.3v1.3h-1.3zM153.5 72.8h1.3v1.3h-1.3zM152.2 71.4h1.3v1.3h-1.3zM154.6 71.8h1.3v1.3h-1.3zM156.1 71.1h1.3v1.3h-1.3zM152.3 73.0h1.3v1.3h-1.3zM152.5 71.8h1.3v1.3h-1.3zM156.2 70.7h1.3v1.3h-1.3zM154.7 73.2h1.3v1.3h-1.3zM156.6 70.2h1.3v1.3h-1.3zM152.4 73.3h1.3v1.3h-1.3zM157.0 70.7h1.3v1.3h-1.3zM151.5 71.9h1.3v1.3h-1.3z"/><path fill="#fff600" fill-opacity="0.8" d="M144.1 80.0h1.3v1.3h-1.3zM145.1 80.4h1.3v1.3h-1.3zM145.2 79.9h1.3v1.3h-1.3zM144.3 79.9h1.3v1.3h-1.3zM144.5 81.0h1.3v1.3h-1.3zM144.3 80.5h1.3v1.3h-1.3zM145.0 80.0h1.3v1.3h-1.3zM144.2 80.6h1.3v1.3h-1.3zM143.4 80.8h1.3v1.3h-1.3z"/><path fill="#ffe000" fill-opacity="0.8" d="M136.4 83.5h1.3v1.3h-1.3zM136.0 83.6h1.3v1.3h-1.3zM136.9 83.6h1.3v1.3h-1.3zM137.4 83.4h1.3v1.3h-1.3zM135.8 83.3h1.3v1.3h-1.3zM135.4 82.2h1.3v1.3h-1.3zM138.6 83.8h1.3v1.3h-1.3zM135.9 85.3h1.3v1.3h-1.3zM135.9 81.9h1.3v1.3h-1.3zM137.0 85.2h1.3v1.3h-1.3zM137.3 84.4h1.3v1.3h-1.3zM136.9 84.2h1.3v1.3h-1.3zM136.0 81.4h1.3v1.3h-1.3zM136.7 83.8h1.3v1.3h-1.3zM138.3 85.1h1.3v1.3h-1.3zM137.7 84.7h1.3v1.3h-1.3zM137.9 84.3h1.3v1.3h-1.3zM137.2 83.0h1.3v1.3h-1.3zM137.0 84.8h1.3v1.3h-1.3zM135.4 82.4h1.3v1.3h-1.3zM136.4 85.2h1.3v1.3h-1.3zM136.0 85.0h1.3v1.3h-1.3zM137.3 81.5h1.3v1.3h-1.3zM137.7 83.4h1.3v1.3h-1.3zM139.2 84.6h1.3v1.3h-1.3zM137.4 83.4h1.3v1.3h-1.3zM138.0 84.6h1.3v1.3h-1.3z"/><path fill="#ffd500" fill-opacity="0.8" d="M140.4 82.4h1.3v1.3h-1.3zM155.1 69.5h1.3v1.3h-1.3zM140.6 83.0h1.3v1.3h-1.3zM139.5 82.7h1.3v1.3h-1.3zM140.2 81.5h1.3v1.3h-1.3zM153.6 69.8h1.3v1.3h-1.3zM154.8 70.2h1.3v1.3h-1.3zM154.7 70.1h1.3v1.3h-1.3zM141.2 83.3h1.3v1.3h-1.3zM140.7 82.3h1.3v1.3h-1.3zM139.5 82.2h1.3v1.3h-1.3zM153.6 70.6h1.3v1.3h-1.3zM155.3 70.3h1.3v1.3h-1.3zM154.8 70.4h1.3v1.3h-1.3zM140.0 82.1h1.3v1.3h-1.3zM155.3 69.8h1.3v1.3h-1.3z"/><path fill="#ffc000" fill-opacity="0.8" d="M145.6 80.5h1.3v1.3h-1.3zM146.1 79.7h1.3v1.3h-1.3zM146.6 79.4h1.3v1.3h-1.3zM145.6 79.7h1.3v1.3h-1.3zM146.6 79.9h1.3v1.3h-1.3zM146.8 79.7h1.3v1.3h-1.3zM147.1 81.0h1.3v1.3h-1.3zM146.1 79.6h1.3v1.3h-1.3zM145.9 80.2h1.3v1.3h-1.3z"/><path fill="#ffb500" fill-opacity="0.8" d="M138.1 82.5h1.3v1.3h-1.3zM137.9 82.6h1.3v1.3h-1.3zM138.4 83.0h1.3v1.3h-1.3zM138.5 82.4h1.3v1.3h-1.3zM139.1 82.9h1.3v1.3h-1.3zM138.9 81.4h1.3v1.3h-1.3zM138.9 83.2h1.3v1.3h-1.3zM139.0 83.0h1.3v1.3h-1.3zM138.5 81.7h1.3v1.3h-1.3zM137.5 81.8h1.3v1.3h-1.3zM138.7 82.5h1.3v1.3h-1.3zM138.4 81.9h1.3v1.3h-1.3zM137.9 82.3h1.3v1.3h-1.3zM138.7 83.0h1.3v1.3h-1.3z"/></g><path d="M80 30.6 H314.2" stroke="#4a4a4a" stroke-width="1.25" fill="none"/><path d="M314.2 30.6 V264.3" stroke="#555" stroke-width="1.3" fill="none"/><path d="M80 30.6 V264.3" stroke="#5a5a5a" stroke-width="1.35" fill="none"/><path d="M80 264.3 H314.2" stroke="#1e1e1e" stroke-width="1.1" fill="none"/><path d="M172.6 30.6 V270.3 M73 123.1 H314.2" stroke="#000" stroke-width="2" fill="none"/><path d="M73 263.0 H80.5 M80.2 264 V270.5 M73 216.3 H80.5 M126.3 264 V270.5 M73 169.5 H80.5 M172.6 264 V270.5 M73 123.1 H80.5 M219.0 264 V270.5 M73 76.9 H80.5 M265.7 264 V270.5 M73 31.2 H80.5 M313.0 264 V270.5" stroke="#000" stroke-width="1.7" fill="none"/><path d="M77.2 248.9 H80 M94.4 264.3 V267.4 M77.2 240.7 H80 M102.5 264.3 V267.4 M77.2 234.9 H80 M108.3 264.3 V267.4 M75.6 230.4 H80 M112.7 264.3 V268.9 M77.2 226.7 H80 M116.4 264.3 V267.4 M77.2 223.5 H80 M119.5 264.3 V267.4 M77.2 220.8 H80 M122.1 264.3 V267.4 M77.2 218.4 H80 M124.5 264.3 V267.4 M77.2 202.2 H80 M140.5 264.3 V267.4 M77.2 194.0 H80 M148.7 264.3 V267.4 M77.2 188.1 H80 M154.5 264.3 V267.4 M75.6 183.6 H80 M159.0 264.3 V268.9 M77.2 179.9 H80 M162.6 264.3 V267.4 M77.2 176.7 H80 M165.7 264.3 V267.4 M77.2 174.0 H80 M168.4 264.3 V267.4 M77.2 171.6 H80 M170.8 264.3 V267.4 M77.2 155.5 H80 M186.9 264.3 V267.4 M77.2 147.4 H80 M195.0 264.3 V267.4 M77.2 141.6 H80 M200.8 264.3 V267.4 M75.6 137.1 H80 M205.3 264.3 V268.9 M77.2 133.4 H80 M209.0 264.3 V267.4 M77.2 130.3 H80 M212.1 264.3 V267.4 M77.2 127.6 H80 M214.8 264.3 V267.4 M77.2 125.2 H80 M217.2 264.3 V267.4 M77.2 109.2 H80 M233.4 264.3 V267.4 M77.2 101.1 H80 M241.6 264.3 V267.4 M77.2 95.3 H80 M247.4 264.3 V267.4 M75.6 90.8 H80 M251.9 264.3 V268.9 M77.2 87.1 H80 M255.6 264.3 V267.4 M77.2 84.1 H80 M258.8 264.3 V267.4 M77.2 81.4 H80 M261.5 264.3 V267.4 M77.2 79.0 H80 M263.9 264.3 V267.4 M77.2 63.1 H80 M280.2 264.3 V267.4 M77.2 55.1 H80 M288.6 264.3 V267.4 M77.2 49.4 H80 M294.5 264.3 V267.4 M75.6 45.0 H80 M299.1 264.3 V268.9 M77.2 41.3 H80 M302.8 264.3 V267.4 M77.2 38.3 H80 M306.0 264.3 V267.4 M77.2 35.6 H80 M308.7 264.3 V267.4 M77.2 33.3 H80 M311.1 264.3 V267.4" stroke="#111" stroke-width="1.2" fill="none"/><g font-size="8.8" fill="#2a2a2a" stroke="#2a2a2a" stroke-width="0.3"><text x="62.9" y="262.9" text-anchor="end">10</text><text x="63.6" y="255.6">0</text><text x="85.4" y="292.3">10</text><text x="95.3" y="284.6">0</text><text x="62.9" y="223.8" text-anchor="end">10</text><text x="63.6" y="216.7">1</text><text x="122.7" y="292.3">10</text><text x="132.6" y="284.6">1</text><text x="62.9" y="177.0" text-anchor="end">10</text><text x="63.6" y="169.9">2</text><text x="169.0" y="292.3">10</text><text x="178.9" y="284.6">2</text><text x="62.9" y="130.6" text-anchor="end">10</text><text x="63.6" y="123.5">3</text><text x="215.4" y="292.3">10</text><text x="225.3" y="284.6">3</text><text x="62.9" y="84.4" text-anchor="end">10</text><text x="63.6" y="77.3">4</text><text x="262.1" y="292.3">10</text><text x="272.0" y="284.6">4</text><text x="62.9" y="47.5" text-anchor="end">10</text><text x="63.6" y="39.8">5</text><text x="297.8" y="292.3">10</text><text x="307.7" y="284.6">5</text></g><g font-weight="700" font-size="12.2" fill="#FF0000" stroke="#FF0000" stroke-width="0.35"><text x="93.2" y="51.1">Q1</text><text x="93.2" y="67.7">0%</text><text x="300" y="51.1" text-anchor="end">Q2</text><text x="300" y="67.7" text-anchor="end">77.1%</text><text x="93.2" y="236">Q4</text><text x="93.2" y="252.7">3.09%</text><text x="300" y="236" text-anchor="end">Q3</text><text x="300" y="252.7" text-anchor="end">19.8%</text></g></g><text x="485.3" y="17.1" font-weight="700" font-size="21.5" fill="#000">6 hour</text>
<g transform="translate(0,324.8)"><g transform="translate(80,30.9)"><path fill="#4646ff" fill-opacity="0.8" d="M59.6 177.1h1.3v1.3h-1.3zM64.6 187.1h1.3v1.3h-1.3zM20.7 186.4h1.3v1.3h-1.3zM38.6 180.1h1.3v1.3h-1.3zM51.7 171.8h1.3v1.3h-1.3zM57.1 126.6h1.3v1.3h-1.3zM68.6 176.9h1.3v1.3h-1.3zM75.3 191.9h1.3v1.3h-1.3zM155.6 133.4h1.3v1.3h-1.3zM92.4 131.2h1.3v1.3h-1.3zM136.5 150.2h1.3v1.3h-1.3zM25.8 157.3h1.3v1.3h-1.3zM28.5 173.8h1.3v1.3h-1.3zM42.5 180.7h1.3v1.3h-1.3zM86.1 127.4h1.3v1.3h-1.3zM142.9 130.2h1.3v1.3h-1.3zM98.5 108.5h1.3v1.3h-1.3zM86.6 131.9h1.3v1.3h-1.3zM140.5 172.9h1.3v1.3h-1.3zM130.8 155.2h1.3v1.3h-1.3zM146.2 121.8h1.3v1.3h-1.3zM94.5 109.3h1.3v1.3h-1.3zM127.3 162.1h1.3v1.3h-1.3zM153.3 134.5h1.3v1.3h-1.3zM159.2 126.1h1.3v1.3h-1.3zM168.1 140.0h1.3v1.3h-1.3zM83.0 133.4h1.3v1.3h-1.3zM147.1 162.4h1.3v1.3h-1.3zM139.3 156.6h1.3v1.3h-1.3zM81.7 145.2h1.3v1.3h-1.3zM89.5 104.4h1.3v1.3h-1.3zM120.2 167.9h1.3v1.3h-1.3zM96.3 128.0h1.3v1.3h-1.3zM114.6 160.8h1.3v1.3h-1.3zM76.2 176.6h1.3v1.3h-1.3zM157.4 100.5h1.3v1.3h-1.3zM191.1 66.2h1.3v1.3h-1.3zM149.8 106.2h1.3v1.3h-1.3zM191.5 70.3h1.3v1.3h-1.3zM163.9 96.0h1.3v1.3h-1.3zM186.3 84.7h1.3v1.3h-1.3zM179.1 91.3h1.3v1.3h-1.3zM153.4 106.2h1.3v1.3h-1.3zM120.5 171.5h1.3v1.3h-1.3zM137.1 146.0h1.3v1.3h-1.3zM79.1 183.2h1.3v1.3h-1.3zM158.8 150.8h1.3v1.3h-1.3zM151.9 61.3h1.3v1.3h-1.3zM154.2 67.1h1.3v1.3h-1.3zM82.8 191.7h1.3v1.3h-1.3zM97.1 180.6h1.3v1.3h-1.3zM104.9 106.2h1.3v1.3h-1.3zM172.6 70.1h1.3v1.3h-1.3zM23.4 181.3h1.3v1.3h-1.3zM58.2 152.9h1.3v1.3h-1.3zM100.3 196.3h1.3v1.3h-1.3zM82.3 227.3h1.3v1.3h-1.3zM76.3 200.5h1.3v1.3h-1.3zM69.5 141.3h1.3v1.3h-1.3zM73.4 180.6h1.3v1.3h-1.3zM43.5 146.8h1.3v1.3h-1.3zM23.6 163.3h1.3v1.3h-1.3zM54.0 151.8h1.3v1.3h-1.3zM25.2 195.6h1.3v1.3h-1.3zM10.6 168.8h1.3v1.3h-1.3zM40.2 206.4h1.3v1.3h-1.3zM20.5 151.8h1.3v1.3h-1.3zM35.5 195.6h1.3v1.3h-1.3zM40.5 156.8h1.3v1.3h-1.3zM34.9 171.8h1.3v1.3h-1.3zM52.7 141.6h1.3v1.3h-1.3zM62.4 199.5h1.3v1.3h-1.3zM67.5 193.3h1.3v1.3h-1.3zM31.1 190.9h1.3v1.3h-1.3zM28.3 171.1h1.3v1.3h-1.3zM37.6 171.7h1.3v1.3h-1.3zM204.0 111.3h1.3v1.3h-1.3zM6.5 171.8h1.3v1.3h-1.3zM10.2 156.2h1.3v1.3h-1.3zM45.5 166.4h1.3v1.3h-1.3zM24.9 175.7h1.3v1.3h-1.3zM29.6 139.6h1.3v1.3h-1.3zM21.9 191.4h1.3v1.3h-1.3zM29.5 141.7h1.3v1.3h-1.3zM63.2 166.3h1.3v1.3h-1.3zM57.4 195.6h1.3v1.3h-1.3zM58.1 144.9h1.3v1.3h-1.3zM86.5 189.4h1.3v1.3h-1.3zM62.3 165.9h1.3v1.3h-1.3zM61.2 171.0h1.3v1.3h-1.3zM77.1 119.9h1.3v1.3h-1.3zM122.5 147.0h1.3v1.3h-1.3zM63.0 170.6h1.3v1.3h-1.3zM139.7 112.3h1.3v1.3h-1.3zM70.0 171.1h1.3v1.3h-1.3zM138.8 132.5h1.3v1.3h-1.3zM184.2 70.1h1.3v1.3h-1.3zM183.0 82.4h1.3v1.3h-1.3zM142.8 73.2h1.3v1.3h-1.3zM147.1 101.9h1.3v1.3h-1.3zM166.3 87.4h1.3v1.3h-1.3zM68.2 144.4h1.3v1.3h-1.3zM68.6 137.3h1.3v1.3h-1.3zM46.3 185.7h1.3v1.3h-1.3zM38.7 162.9h1.3v1.3h-1.3zM42.8 184.0h1.3v1.3h-1.3zM57.3 142.7h1.3v1.3h-1.3zM83.2 189.1h1.3v1.3h-1.3zM67.1 171.0h1.3v1.3h-1.3zM51.7 182.9h1.3v1.3h-1.3zM61.8 131.5h1.3v1.3h-1.3zM179.0 77.2h1.3v1.3h-1.3zM144.1 69.1h1.3v1.3h-1.3zM100.9 104.8h1.3v1.3h-1.3zM74.2 143.5h1.3v1.3h-1.3zM187.1 75.2h1.3v1.3h-1.3zM147.1 102.8h1.3v1.3h-1.3zM101.1 145.4h1.3v1.3h-1.3zM101.5 146.5h1.3v1.3h-1.3zM89.7 134.1h1.3v1.3h-1.3zM35.4 161.8h1.3v1.3h-1.3zM48.2 186.0h1.3v1.3h-1.3zM83.1 186.1h1.3v1.3h-1.3zM172.9 79.0h1.3v1.3h-1.3zM177.7 84.0h1.3v1.3h-1.3zM144.3 66.8h1.3v1.3h-1.3zM138.2 115.2h1.3v1.3h-1.3zM43.2 161.3h1.3v1.3h-1.3zM41.2 184.9h1.3v1.3h-1.3zM107.4 179.7h1.3v1.3h-1.3zM96.8 164.6h1.3v1.3h-1.3zM71.1 144.3h1.3v1.3h-1.3zM75.9 118.1h1.3v1.3h-1.3zM146.4 130.8h1.3v1.3h-1.3zM98.3 125.2h1.3v1.3h-1.3zM97.3 124.7h1.3v1.3h-1.3zM132.5 140.8h1.3v1.3h-1.3zM138.0 130.7h1.3v1.3h-1.3zM111.2 175.5h1.3v1.3h-1.3zM109.8 148.4h1.3v1.3h-1.3zM124.6 152.1h1.3v1.3h-1.3zM111.0 144.4h1.3v1.3h-1.3zM113.5 150.6h1.3v1.3h-1.3zM120.9 158.5h1.3v1.3h-1.3zM105.7 144.5h1.3v1.3h-1.3zM109.0 155.7h1.3v1.3h-1.3zM115.3 155.9h1.3v1.3h-1.3zM66.5 140.1h1.3v1.3h-1.3zM80.7 151.0h1.3v1.3h-1.3zM64.8 134.3h1.3v1.3h-1.3zM145.4 98.6h1.3v1.3h-1.3zM69.5 136.3h1.3v1.3h-1.3zM24.5 172.7h1.3v1.3h-1.3zM80.3 150.5h1.3v1.3h-1.3zM146.0 127.7h1.3v1.3h-1.3zM21.0 193.1h1.3v1.3h-1.3zM58.2 196.9h1.3v1.3h-1.3zM64.0 139.8h1.3v1.3h-1.3zM67.0 148.6h1.3v1.3h-1.3zM118.6 158.6h1.3v1.3h-1.3zM99.0 142.9h1.3v1.3h-1.3zM58.4 163.0h1.3v1.3h-1.3zM75.3 171.4h1.3v1.3h-1.3zM102.9 142.0h1.3v1.3h-1.3zM94.9 145.3h1.3v1.3h-1.3zM96.6 135.7h1.3v1.3h-1.3zM136.3 117.6h1.3v1.3h-1.3zM87.9 137.2h1.3v1.3h-1.3zM141.6 145.8h1.3v1.3h-1.3zM106.6 178.3h1.3v1.3h-1.3zM112.8 151.8h1.3v1.3h-1.3zM125.3 158.5h1.3v1.3h-1.3zM131.6 114.1h1.3v1.3h-1.3zM170.7 84.1h1.3v1.3h-1.3zM85.5 156.7h1.3v1.3h-1.3zM110.4 168.2h1.3v1.3h-1.3zM82.5 173.6h1.3v1.3h-1.3zM111.9 156.6h1.3v1.3h-1.3zM101.3 132.2h1.3v1.3h-1.3zM99.1 171.1h1.3v1.3h-1.3zM91.8 140.0h1.3v1.3h-1.3zM75.9 157.1h1.3v1.3h-1.3zM92.5 168.0h1.3v1.3h-1.3zM111.3 170.3h1.3v1.3h-1.3zM123.4 158.2h1.3v1.3h-1.3zM107.2 148.7h1.3v1.3h-1.3zM133.0 147.0h1.3v1.3h-1.3zM139.2 108.6h1.3v1.3h-1.3zM137.2 123.6h1.3v1.3h-1.3zM125.2 156.4h1.3v1.3h-1.3zM135.2 118.1h1.3v1.3h-1.3zM67.9 168.8h1.3v1.3h-1.3zM67.2 153.1h1.3v1.3h-1.3zM44.4 159.5h1.3v1.3h-1.3zM45.0 164.8h1.3v1.3h-1.3zM78.6 144.2h1.3v1.3h-1.3zM92.1 168.7h1.3v1.3h-1.3zM169.0 86.8h1.3v1.3h-1.3zM172.1 86.9h1.3v1.3h-1.3zM137.9 120.3h1.3v1.3h-1.3zM107.2 102.7h1.3v1.3h-1.3zM134.6 127.0h1.3v1.3h-1.3zM136.6 139.1h1.3v1.3h-1.3zM84.4 178.3h1.3v1.3h-1.3zM96.6 134.1h1.3v1.3h-1.3zM137.3 123.2h1.3v1.3h-1.3zM77.1 148.4h1.3v1.3h-1.3zM114.9 164.0h1.3v1.3h-1.3zM97.3 148.5h1.3v1.3h-1.3zM24.2 173.7h1.3v1.3h-1.3zM95.3 135.5h1.3v1.3h-1.3zM174.2 83.6h1.3v1.3h-1.3zM174.7 79.9h1.3v1.3h-1.3zM164.4 68.4h1.3v1.3h-1.3zM103.0 102.0h1.3v1.3h-1.3zM109.7 170.9h1.3v1.3h-1.3zM90.9 138.3h1.3v1.3h-1.3zM132.9 146.5h1.3v1.3h-1.3zM102.4 143.3h1.3v1.3h-1.3zM158.6 68.8h1.3v1.3h-1.3zM186.0 71.7h1.3v1.3h-1.3zM87.0 173.1h1.3v1.3h-1.3zM102.6 135.5h1.3v1.3h-1.3zM128.7 143.5h1.3v1.3h-1.3zM85.9 187.2h1.3v1.3h-1.3zM72.1 156.1h1.3v1.3h-1.3zM66.6 150.5h1.3v1.3h-1.3zM88.7 186.4h1.3v1.3h-1.3zM84.2 141.3h1.3v1.3h-1.3zM75.3 160.7h1.3v1.3h-1.3zM84.8 177.6h1.3v1.3h-1.3zM88.9 171.5h1.3v1.3h-1.3zM45.6 161.9h1.3v1.3h-1.3zM78.1 144.6h1.3v1.3h-1.3zM86.2 150.5h1.3v1.3h-1.3zM54.1 177.3h1.3v1.3h-1.3zM64.5 156.1h1.3v1.3h-1.3zM85.9 159.5h1.3v1.3h-1.3zM73.2 159.9h1.3v1.3h-1.3zM103.3 179.1h1.3v1.3h-1.3zM132.6 127.9h1.3v1.3h-1.3zM139.5 141.8h1.3v1.3h-1.3zM89.6 153.7h1.3v1.3h-1.3zM55.9 178.2h1.3v1.3h-1.3zM67.8 159.6h1.3v1.3h-1.3zM55.0 157.9h1.3v1.3h-1.3zM89.0 167.8h1.3v1.3h-1.3zM53.9 158.9h1.3v1.3h-1.3zM56.4 168.9h1.3v1.3h-1.3zM75.5 141.5h1.3v1.3h-1.3zM88.9 142.7h1.3v1.3h-1.3zM97.6 112.0h1.3v1.3h-1.3zM113.3 139.7h1.3v1.3h-1.3zM101.2 129.6h1.3v1.3h-1.3zM98.7 160.8h1.3v1.3h-1.3zM103.4 137.5h1.3v1.3h-1.3zM96.8 143.3h1.3v1.3h-1.3zM103.9 162.0h1.3v1.3h-1.3zM98.5 115.1h1.3v1.3h-1.3zM103.5 159.4h1.3v1.3h-1.3zM107.7 108.4h1.3v1.3h-1.3zM159.1 93.4h1.3v1.3h-1.3zM178.8 81.2h1.3v1.3h-1.3zM166.1 70.4h1.3v1.3h-1.3zM163.4 76.7h1.3v1.3h-1.3zM88.3 144.4h1.3v1.3h-1.3zM95.0 142.7h1.3v1.3h-1.3zM127.7 138.8h1.3v1.3h-1.3zM139.0 103.7h1.3v1.3h-1.3zM154.5 98.9h1.3v1.3h-1.3zM179.9 78.9h1.3v1.3h-1.3zM129.8 149.0h1.3v1.3h-1.3zM87.5 148.0h1.3v1.3h-1.3zM180.4 80.7h1.3v1.3h-1.3zM104.0 165.3h1.3v1.3h-1.3zM126.7 150.5h1.3v1.3h-1.3zM126.7 147.7h1.3v1.3h-1.3zM125.9 148.6h1.3v1.3h-1.3zM103.0 166.0h1.3v1.3h-1.3zM52.8 181.2h1.3v1.3h-1.3zM141.1 141.6h1.3v1.3h-1.3zM83.5 174.7h1.3v1.3h-1.3zM110.1 159.6h1.3v1.3h-1.3zM132.8 131.3h1.3v1.3h-1.3zM126.2 132.2h1.3v1.3h-1.3zM132.4 118.0h1.3v1.3h-1.3zM97.7 161.6h1.3v1.3h-1.3zM103.3 128.7h1.3v1.3h-1.3zM125.3 136.8h1.3v1.3h-1.3zM125.0 132.6h1.3v1.3h-1.3zM107.3 175.6h1.3v1.3h-1.3zM113.3 164.3h1.3v1.3h-1.3zM103.3 131.7h1.3v1.3h-1.3zM112.1 163.9h1.3v1.3h-1.3zM86.5 177.0h1.3v1.3h-1.3zM106.5 99.1h1.3v1.3h-1.3zM165.2 70.7h1.3v1.3h-1.3zM87.9 189.0h1.3v1.3h-1.3zM69.2 164.8h1.3v1.3h-1.3zM100.7 117.6h1.3v1.3h-1.3zM129.6 118.2h1.3v1.3h-1.3zM106.8 99.0h1.3v1.3h-1.3zM154.9 98.0h1.3v1.3h-1.3zM51.7 164.7h1.3v1.3h-1.3zM166.9 73.0h1.3v1.3h-1.3zM154.4 72.6h1.3v1.3h-1.3zM79.1 162.3h1.3v1.3h-1.3zM72.7 164.0h1.3v1.3h-1.3zM76.7 151.3h1.3v1.3h-1.3zM98.3 172.2h1.3v1.3h-1.3zM117.1 140.4h1.3v1.3h-1.3zM127.2 142.7h1.3v1.3h-1.3zM106.6 150.2h1.3v1.3h-1.3zM66.4 156.8h1.3v1.3h-1.3zM78.7 172.3h1.3v1.3h-1.3zM56.1 166.2h1.3v1.3h-1.3zM88.6 161.4h1.3v1.3h-1.3zM124.4 131.1h1.3v1.3h-1.3zM70.9 155.6h1.3v1.3h-1.3zM129.0 146.6h1.3v1.3h-1.3zM139.6 145.1h1.3v1.3h-1.3zM96.1 149.9h1.3v1.3h-1.3zM107.3 138.6h1.3v1.3h-1.3zM109.9 154.7h1.3v1.3h-1.3zM73.7 152.1h1.3v1.3h-1.3zM110.4 100.1h1.3v1.3h-1.3zM103.1 109.9h1.3v1.3h-1.3zM75.4 166.5h1.3v1.3h-1.3zM69.5 155.2h1.3v1.3h-1.3zM103.9 141.0h1.3v1.3h-1.3zM96.7 150.8h1.3v1.3h-1.3zM126.4 136.9h1.3v1.3h-1.3zM136.8 110.0h1.3v1.3h-1.3zM140.7 143.8h1.3v1.3h-1.3zM109.1 174.7h1.3v1.3h-1.3zM109.1 146.8h1.3v1.3h-1.3zM127.0 129.7h1.3v1.3h-1.3zM128.1 135.5h1.3v1.3h-1.3zM100.8 119.9h1.3v1.3h-1.3zM111.0 163.7h1.3v1.3h-1.3zM99.4 160.4h1.3v1.3h-1.3zM109.2 152.4h1.3v1.3h-1.3zM113.8 147.2h1.3v1.3h-1.3zM68.7 155.8h1.3v1.3h-1.3zM81.3 157.3h1.3v1.3h-1.3zM108.3 160.0h1.3v1.3h-1.3zM53.8 179.0h1.3v1.3h-1.3zM176.7 81.9h1.3v1.3h-1.3zM138.4 101.1h1.3v1.3h-1.3zM164.9 74.5h1.3v1.3h-1.3zM130.8 126.6h1.3v1.3h-1.3zM69.5 159.6h1.3v1.3h-1.3zM75.5 165.8h1.3v1.3h-1.3zM84.8 159.2h1.3v1.3h-1.3zM72.5 165.4h1.3v1.3h-1.3zM88.5 166.3h1.3v1.3h-1.3zM81.3 175.3h1.3v1.3h-1.3zM78.3 172.2h1.3v1.3h-1.3zM82.9 164.5h1.3v1.3h-1.3zM75.7 151.1h1.3v1.3h-1.3zM55.0 164.1h1.3v1.3h-1.3zM76.9 152.8h1.3v1.3h-1.3zM85.7 142.9h1.3v1.3h-1.3zM113.5 145.9h1.3v1.3h-1.3zM82.1 165.1h1.3v1.3h-1.3zM133.7 138.0h1.3v1.3h-1.3zM77.5 172.1h1.3v1.3h-1.3zM76.0 171.6h1.3v1.3h-1.3zM145.7 95.7h1.3v1.3h-1.3zM103.9 122.5h1.3v1.3h-1.3zM105.5 109.4h1.3v1.3h-1.3zM104.3 101.2h1.3v1.3h-1.3zM162.3 73.4h1.3v1.3h-1.3zM87.1 168.4h1.3v1.3h-1.3zM129.7 84.6h1.3v1.3h-1.3zM88.6 156.8h1.3v1.3h-1.3zM142.4 74.1h1.3v1.3h-1.3zM168.2 79.4h1.3v1.3h-1.3zM69.8 160.2h1.3v1.3h-1.3zM75.7 153.8h1.3v1.3h-1.3zM72.2 166.9h1.3v1.3h-1.3zM87.3 141.6h1.3v1.3h-1.3zM67.0 164.1h1.3v1.3h-1.3zM54.2 177.4h1.3v1.3h-1.3zM53.7 166.9h1.3v1.3h-1.3zM55.8 155.8h1.3v1.3h-1.3zM96.6 156.6h1.3v1.3h-1.3zM126.2 128.2h1.3v1.3h-1.3zM92.7 162.9h1.3v1.3h-1.3zM132.4 136.6h1.3v1.3h-1.3zM103.4 154.4h1.3v1.3h-1.3zM93.5 155.1h1.3v1.3h-1.3zM123.5 143.3h1.3v1.3h-1.3zM101.8 175.7h1.3v1.3h-1.3zM155.7 94.0h1.3v1.3h-1.3zM165.8 81.9h1.3v1.3h-1.3zM106.0 153.3h1.3v1.3h-1.3zM92.0 151.0h1.3v1.3h-1.3zM131.3 133.3h1.3v1.3h-1.3zM124.0 142.0h1.3v1.3h-1.3zM59.1 158.6h1.3v1.3h-1.3zM167.1 81.2h1.3v1.3h-1.3zM103.8 154.8h1.3v1.3h-1.3zM105.2 135.1h1.3v1.3h-1.3zM100.9 157.1h1.3v1.3h-1.3zM100.2 157.0h1.3v1.3h-1.3zM130.6 120.4h1.3v1.3h-1.3zM107.9 163.2h1.3v1.3h-1.3zM103.8 117.5h1.3v1.3h-1.3zM151.2 96.4h1.3v1.3h-1.3zM129.8 122.6h1.3v1.3h-1.3zM166.1 82.9h1.3v1.3h-1.3zM107.9 100.3h1.3v1.3h-1.3zM114.1 95.4h1.3v1.3h-1.3zM109.8 140.3h1.3v1.3h-1.3zM113.9 144.3h1.3v1.3h-1.3zM119.9 132.5h1.3v1.3h-1.3zM127.2 117.2h1.3v1.3h-1.3zM97.4 175.7h1.3v1.3h-1.3zM119.7 142.7h1.3v1.3h-1.3zM150.9 97.1h1.3v1.3h-1.3zM150.6 96.3h1.3v1.3h-1.3zM154.6 93.9h1.3v1.3h-1.3zM121.4 144.0h1.3v1.3h-1.3zM92.8 151.2h1.3v1.3h-1.3zM102.6 168.1h1.3v1.3h-1.3zM114.2 144.6h1.3v1.3h-1.3zM102.1 123.3h1.3v1.3h-1.3zM91.8 175.2h1.3v1.3h-1.3zM125.5 138.9h1.3v1.3h-1.3zM159.9 70.1h1.3v1.3h-1.3zM158.3 69.9h1.3v1.3h-1.3zM107.6 138.8h1.3v1.3h-1.3zM107.2 152.4h1.3v1.3h-1.3zM96.8 153.7h1.3v1.3h-1.3zM133.7 136.0h1.3v1.3h-1.3zM91.9 162.8h1.3v1.3h-1.3zM88.6 151.2h1.3v1.3h-1.3zM87.8 160.6h1.3v1.3h-1.3zM166.3 80.1h1.3v1.3h-1.3zM154.5 97.3h1.3v1.3h-1.3zM68.5 155.0h1.3v1.3h-1.3zM79.2 164.1h1.3v1.3h-1.3zM70.2 163.8h1.3v1.3h-1.3zM86.7 166.0h1.3v1.3h-1.3zM102.7 122.8h1.3v1.3h-1.3zM108.6 139.5h1.3v1.3h-1.3zM91.6 161.5h1.3v1.3h-1.3zM77.0 161.7h1.3v1.3h-1.3zM78.2 163.7h1.3v1.3h-1.3zM58.3 158.6h1.3v1.3h-1.3zM92.4 150.0h1.3v1.3h-1.3zM78.3 156.6h1.3v1.3h-1.3zM64.5 161.6h1.3v1.3h-1.3zM95.9 172.5h1.3v1.3h-1.3zM99.1 177.0h1.3v1.3h-1.3zM83.9 167.3h1.3v1.3h-1.3zM89.3 150.2h1.3v1.3h-1.3zM83.6 165.1h1.3v1.3h-1.3zM82.3 163.0h1.3v1.3h-1.3zM105.0 118.2h1.3v1.3h-1.3zM131.3 132.8h1.3v1.3h-1.3zM107.8 162.5h1.3v1.3h-1.3zM101.4 125.0h1.3v1.3h-1.3zM56.3 158.5h1.3v1.3h-1.3zM95.3 155.1h1.3v1.3h-1.3zM55.1 166.6h1.3v1.3h-1.3zM63.9 161.5h1.3v1.3h-1.3zM110.3 138.8h1.3v1.3h-1.3zM106.2 134.8h1.3v1.3h-1.3zM109.7 138.6h1.3v1.3h-1.3zM97.1 174.1h1.3v1.3h-1.3zM144.1 77.1h1.3v1.3h-1.3zM125.7 121.0h1.3v1.3h-1.3zM146.3 93.6h1.3v1.3h-1.3zM102.8 118.5h1.3v1.3h-1.3zM116.1 144.8h1.3v1.3h-1.3zM100.9 176.0h1.3v1.3h-1.3zM103.6 126.6h1.3v1.3h-1.3zM107.6 118.5h1.3v1.3h-1.3zM96.2 173.9h1.3v1.3h-1.3zM102.8 174.0h1.3v1.3h-1.3zM106.1 170.6h1.3v1.3h-1.3zM160.7 74.3h1.3v1.3h-1.3zM146.9 94.3h1.3v1.3h-1.3zM126.4 120.8h1.3v1.3h-1.3zM144.6 77.3h1.3v1.3h-1.3zM93.2 173.3h1.3v1.3h-1.3zM161.9 76.8h1.3v1.3h-1.3zM110.5 132.8h1.3v1.3h-1.3zM129.0 127.0h1.3v1.3h-1.3zM154.0 88.5h1.3v1.3h-1.3zM162.5 84.7h1.3v1.3h-1.3zM162.8 84.5h1.3v1.3h-1.3zM107.2 162.0h1.3v1.3h-1.3zM131.5 134.0h1.3v1.3h-1.3zM111.2 111.8h1.3v1.3h-1.3zM131.9 82.6h1.3v1.3h-1.3zM108.0 118.0h1.3v1.3h-1.3zM159.7 88.5h1.3v1.3h-1.3zM131.7 134.6h1.3v1.3h-1.3zM92.6 172.2h1.3v1.3h-1.3zM123.2 137.5h1.3v1.3h-1.3zM101.8 170.2h1.3v1.3h-1.3zM124.8 139.8h1.3v1.3h-1.3zM118.4 141.4h1.3v1.3h-1.3zM60.7 158.1h1.3v1.3h-1.3zM123.1 142.2h1.3v1.3h-1.3zM107.6 121.6h1.3v1.3h-1.3zM90.3 162.9h1.3v1.3h-1.3zM141.3 98.4h1.3v1.3h-1.3zM137.0 101.4h1.3v1.3h-1.3zM126.3 126.0h1.3v1.3h-1.3zM130.8 133.6h1.3v1.3h-1.3zM92.9 172.4h1.3v1.3h-1.3zM91.1 158.9h1.3v1.3h-1.3zM125.1 124.9h1.3v1.3h-1.3zM127.0 120.1h1.3v1.3h-1.3zM125.4 125.6h1.3v1.3h-1.3zM116.0 143.1h1.3v1.3h-1.3zM158.1 91.7h1.3v1.3h-1.3zM155.9 96.3h1.3v1.3h-1.3zM81.1 159.3h1.3v1.3h-1.3zM96.0 153.0h1.3v1.3h-1.3zM109.4 132.4h1.3v1.3h-1.3zM94.8 158.5h1.3v1.3h-1.3zM63.7 159.4h1.3v1.3h-1.3zM79.9 157.7h1.3v1.3h-1.3zM101.2 176.4h1.3v1.3h-1.3zM90.0 158.6h1.3v1.3h-1.3zM82.8 158.4h1.3v1.3h-1.3zM73.5 163.9h1.3v1.3h-1.3zM63.8 158.1h1.3v1.3h-1.3zM91.1 171.6h1.3v1.3h-1.3zM104.5 125.6h1.3v1.3h-1.3zM91.0 165.1h1.3v1.3h-1.3zM145.2 77.1h1.3v1.3h-1.3zM145.5 93.6h1.3v1.3h-1.3zM136.7 100.1h1.3v1.3h-1.3zM93.5 158.8h1.3v1.3h-1.3zM81.8 160.5h1.3v1.3h-1.3zM79.4 160.8h1.3v1.3h-1.3zM67.9 162.5h1.3v1.3h-1.3zM111.5 112.1h1.3v1.3h-1.3zM103.0 172.9h1.3v1.3h-1.3zM104.7 168.2h1.3v1.3h-1.3zM104.9 173.5h1.3v1.3h-1.3zM108.2 115.3h1.3v1.3h-1.3zM141.6 96.6h1.3v1.3h-1.3zM160.9 89.9h1.3v1.3h-1.3zM105.5 114.9h1.3v1.3h-1.3zM108.3 113.9h1.3v1.3h-1.3zM158.9 90.4h1.3v1.3h-1.3zM158.7 71.9h1.3v1.3h-1.3zM123.2 90.8h1.3v1.3h-1.3zM92.5 157.7h1.3v1.3h-1.3zM104.9 120.8h1.3v1.3h-1.3zM111.7 135.5h1.3v1.3h-1.3zM101.6 111.5h1.3v1.3h-1.3zM106.3 114.5h1.3v1.3h-1.3zM102.3 156.2h1.3v1.3h-1.3zM90.5 152.7h1.3v1.3h-1.3zM107.3 114.8h1.3v1.3h-1.3zM158.7 72.0h1.3v1.3h-1.3zM130.9 113.6h1.3v1.3h-1.3zM102.2 158.8h1.3v1.3h-1.3zM99.6 158.0h1.3v1.3h-1.3zM120.7 140.8h1.3v1.3h-1.3zM122.4 115.3h1.3v1.3h-1.3zM163.9 79.7h1.3v1.3h-1.3zM102.7 111.7h1.3v1.3h-1.3zM103.0 155.9h1.3v1.3h-1.3zM103.0 111.8h1.3v1.3h-1.3zM159.1 90.2h1.3v1.3h-1.3zM130.5 113.8h1.3v1.3h-1.3zM122.7 113.7h1.3v1.3h-1.3zM93.3 158.1h1.3v1.3h-1.3zM60.7 160.7h1.3v1.3h-1.3zM107.5 133.7h1.3v1.3h-1.3zM157.9 88.9h1.3v1.3h-1.3zM101.4 115.9h1.3v1.3h-1.3zM109.4 102.0h1.3v1.3h-1.3zM108.0 134.4h1.3v1.3h-1.3zM103.1 114.3h1.3v1.3h-1.3zM117.5 139.4h1.3v1.3h-1.3zM62.2 157.9h1.3v1.3h-1.3zM93.3 171.3h1.3v1.3h-1.3zM106.6 172.8h1.3v1.3h-1.3zM158.5 71.8h1.3v1.3h-1.3zM136.5 103.9h1.3v1.3h-1.3zM158.2 87.7h1.3v1.3h-1.3zM160.8 90.0h1.3v1.3h-1.3zM105.5 172.7h1.3v1.3h-1.3zM105.9 129.5h1.3v1.3h-1.3zM90.4 152.7h1.3v1.3h-1.3zM137.5 97.8h1.3v1.3h-1.3zM92.8 158.2h1.3v1.3h-1.3zM93.9 161.2h1.3v1.3h-1.3zM158.3 81.4h1.3v1.3h-1.3zM106.9 112.2h1.3v1.3h-1.3zM128.8 125.2h1.3v1.3h-1.3zM156.0 73.6h1.3v1.3h-1.3zM120.3 139.1h1.3v1.3h-1.3zM62.7 160.7h1.3v1.3h-1.3zM94.9 171.4h1.3v1.3h-1.3zM155.7 86.5h1.3v1.3h-1.3zM117.5 115.2h1.3v1.3h-1.3zM107.2 117.8h1.3v1.3h-1.3zM128.2 113.6h1.3v1.3h-1.3zM108.0 121.1h1.3v1.3h-1.3zM100.1 113.4h1.3v1.3h-1.3zM99.7 113.9h1.3v1.3h-1.3zM135.2 110.0h1.3v1.3h-1.3zM108.6 121.2h1.3v1.3h-1.3zM127.6 121.1h1.3v1.3h-1.3zM112.9 116.4h1.3v1.3h-1.3zM157.4 81.9h1.3v1.3h-1.3zM160.3 85.0h1.3v1.3h-1.3zM107.0 133.1h1.3v1.3h-1.3zM107.9 120.8h1.3v1.3h-1.3zM160.2 77.7h1.3v1.3h-1.3zM156.4 75.2h1.3v1.3h-1.3zM127.6 123.5h1.3v1.3h-1.3zM107.0 133.3h1.3v1.3h-1.3zM108.6 112.8h1.3v1.3h-1.3zM112.9 98.9h1.3v1.3h-1.3zM123.8 121.4h1.3v1.3h-1.3zM160.7 78.6h1.3v1.3h-1.3zM135.9 106.8h1.3v1.3h-1.3zM62.0 160.2h1.3v1.3h-1.3zM163.2 81.5h1.3v1.3h-1.3zM153.3 92.9h1.3v1.3h-1.3zM135.0 82.8h1.3v1.3h-1.3zM110.9 103.6h1.3v1.3h-1.3zM124.1 113.9h1.3v1.3h-1.3zM162.0 83.3h1.3v1.3h-1.3zM114.5 112.0h1.3v1.3h-1.3zM119.9 133.9h1.3v1.3h-1.3zM105.9 126.9h1.3v1.3h-1.3zM111.3 107.7h1.3v1.3h-1.3zM153.2 92.1h1.3v1.3h-1.3zM135.3 81.5h1.3v1.3h-1.3zM119.9 128.2h1.3v1.3h-1.3zM120.3 128.4h1.3v1.3h-1.3zM135.5 79.6h1.3v1.3h-1.3zM126.6 122.4h1.3v1.3h-1.3zM161.7 83.1h1.3v1.3h-1.3zM104.5 170.2h1.3v1.3h-1.3zM104.4 172.3h1.3v1.3h-1.3zM124.9 116.1h1.3v1.3h-1.3zM128.5 123.3h1.3v1.3h-1.3zM123.7 116.2h1.3v1.3h-1.3zM122.2 123.6h1.3v1.3h-1.3zM136.7 79.5h1.3v1.3h-1.3zM94.6 152.3h1.3v1.3h-1.3zM121.0 128.7h1.3v1.3h-1.3zM109.2 124.3h1.3v1.3h-1.3zM105.0 170.9h1.3v1.3h-1.3zM106.5 125.6h1.3v1.3h-1.3zM133.7 107.3h1.3v1.3h-1.3zM119.4 136.9h1.3v1.3h-1.3zM106.0 128.4h1.3v1.3h-1.3zM120.7 135.8h1.3v1.3h-1.3zM151.8 75.3h1.3v1.3h-1.3zM121.2 91.4h1.3v1.3h-1.3zM114.1 135.7h1.3v1.3h-1.3zM133.8 107.1h1.3v1.3h-1.3zM122.5 117.2h1.3v1.3h-1.3zM105.3 111.4h1.3v1.3h-1.3zM113.7 137.3h1.3v1.3h-1.3zM134.4 101.6h1.3v1.3h-1.3zM107.7 131.5h1.3v1.3h-1.3zM122.9 127.2h1.3v1.3h-1.3zM120.4 93.2h1.3v1.3h-1.3zM125.7 114.9h1.3v1.3h-1.3zM138.1 79.5h1.3v1.3h-1.3zM150.9 93.6h1.3v1.3h-1.3zM150.2 94.5h1.3v1.3h-1.3zM114.8 98.8h1.3v1.3h-1.3zM146.2 93.3h1.3v1.3h-1.3zM117.7 111.8h1.3v1.3h-1.3zM121.9 121.3h1.3v1.3h-1.3zM114.6 111.3h1.3v1.3h-1.3zM117.5 111.9h1.3v1.3h-1.3zM133.8 104.7h1.3v1.3h-1.3zM112.6 110.0h1.3v1.3h-1.3zM111.5 109.7h1.3v1.3h-1.3zM121.8 120.4h1.3v1.3h-1.3zM145.8 91.9h1.3v1.3h-1.3zM149.8 92.1h1.3v1.3h-1.3zM150.1 93.0h1.3v1.3h-1.3zM160.5 82.1h1.3v1.3h-1.3zM116.3 123.5h1.3v1.3h-1.3zM117.8 112.0h1.3v1.3h-1.3zM119.1 131.4h1.3v1.3h-1.3zM117.9 138.5h1.3v1.3h-1.3zM113.7 114.0h1.3v1.3h-1.3zM111.1 105.8h1.3v1.3h-1.3zM151.3 94.4h1.3v1.3h-1.3zM114.5 99.3h1.3v1.3h-1.3zM151.0 92.5h1.3v1.3h-1.3zM154.7 85.9h1.3v1.3h-1.3zM141.5 77.8h1.3v1.3h-1.3zM111.3 130.8h1.3v1.3h-1.3zM123.5 89.6h1.3v1.3h-1.3zM118.1 121.5h1.3v1.3h-1.3zM122.4 118.9h1.3v1.3h-1.3zM133.6 108.1h1.3v1.3h-1.3zM153.5 85.8h1.3v1.3h-1.3zM123.1 113.1h1.3v1.3h-1.3zM161.3 80.2h1.3v1.3h-1.3zM159.4 80.9h1.3v1.3h-1.3zM120.0 123.5h1.3v1.3h-1.3zM122.2 118.1h1.3v1.3h-1.3zM121.0 123.2h1.3v1.3h-1.3zM115.9 117.2h1.3v1.3h-1.3zM119.6 124.2h1.3v1.3h-1.3zM116.0 120.7h1.3v1.3h-1.3zM115.6 116.6h1.3v1.3h-1.3zM116.5 116.6h1.3v1.3h-1.3zM135.2 109.1h1.3v1.3h-1.3zM115.0 132.2h1.3v1.3h-1.3zM155.9 77.1h1.3v1.3h-1.3zM117.3 114.2h1.3v1.3h-1.3zM114.9 117.3h1.3v1.3h-1.3zM131.0 106.5h1.3v1.3h-1.3zM131.6 111.0h1.3v1.3h-1.3zM119.9 118.0h1.3v1.3h-1.3zM119.5 118.7h1.3v1.3h-1.3zM155.9 76.4h1.3v1.3h-1.3zM118.4 118.8h1.3v1.3h-1.3zM115.9 113.8h1.3v1.3h-1.3zM124.8 111.9h1.3v1.3h-1.3zM116.4 128.7h1.3v1.3h-1.3zM114.1 132.2h1.3v1.3h-1.3zM119.6 119.0h1.3v1.3h-1.3zM133.1 111.1h1.3v1.3h-1.3zM117.5 124.0h1.3v1.3h-1.3zM113.4 132.2h1.3v1.3h-1.3zM157.4 76.8h1.3v1.3h-1.3zM118.3 123.8h1.3v1.3h-1.3zM114.8 117.1h1.3v1.3h-1.3zM114.6 116.9h1.3v1.3h-1.3zM118.4 118.0h1.3v1.3h-1.3zM150.5 89.4h1.3v1.3h-1.3zM132.9 110.8h1.3v1.3h-1.3zM138.5 95.7h1.3v1.3h-1.3zM113.2 103.2h1.3v1.3h-1.3zM114.1 132.1h1.3v1.3h-1.3zM117.7 120.6h1.3v1.3h-1.3zM117.6 128.2h1.3v1.3h-1.3zM127.8 112.1h1.3v1.3h-1.3zM114.4 128.1h1.3v1.3h-1.3zM110.3 118.0h1.3v1.3h-1.3zM122.5 92.9h1.3v1.3h-1.3zM120.6 125.9h1.3v1.3h-1.3zM122.0 93.1h1.3v1.3h-1.3zM127.8 111.5h1.3v1.3h-1.3zM116.5 127.1h1.3v1.3h-1.3zM120.5 119.4h1.3v1.3h-1.3zM113.0 109.0h1.3v1.3h-1.3zM139.9 96.0h1.3v1.3h-1.3zM121.4 92.9h1.3v1.3h-1.3zM129.1 111.4h1.3v1.3h-1.3zM108.4 131.0h1.3v1.3h-1.3zM113.3 104.9h1.3v1.3h-1.3zM121.0 120.7h1.3v1.3h-1.3zM139.5 95.8h1.3v1.3h-1.3zM119.0 136.7h1.3v1.3h-1.3zM112.9 104.2h1.3v1.3h-1.3zM141.7 95.0h1.3v1.3h-1.3zM117.0 121.5h1.3v1.3h-1.3zM113.2 103.5h1.3v1.3h-1.3zM113.5 127.9h1.3v1.3h-1.3zM128.1 112.8h1.3v1.3h-1.3zM120.1 125.6h1.3v1.3h-1.3zM119.6 120.8h1.3v1.3h-1.3zM108.2 126.0h1.3v1.3h-1.3zM113.9 128.9h1.3v1.3h-1.3zM118.2 136.3h1.3v1.3h-1.3zM141.0 80.0h1.3v1.3h-1.3zM109.2 127.3h1.3v1.3h-1.3zM120.5 127.2h1.3v1.3h-1.3zM114.9 127.9h1.3v1.3h-1.3zM142.8 94.6h1.3v1.3h-1.3zM112.3 107.4h1.3v1.3h-1.3zM121.7 93.1h1.3v1.3h-1.3zM130.3 103.6h1.3v1.3h-1.3zM132.2 86.7h1.3v1.3h-1.3zM112.5 106.3h1.3v1.3h-1.3zM127.0 108.0h1.3v1.3h-1.3zM123.3 109.8h1.3v1.3h-1.3zM111.2 129.3h1.3v1.3h-1.3zM116.1 131.3h1.3v1.3h-1.3zM108.0 128.8h1.3v1.3h-1.3zM117.6 134.7h1.3v1.3h-1.3zM115.6 129.8h1.3v1.3h-1.3zM110.6 128.4h1.3v1.3h-1.3zM157.8 80.0h1.3v1.3h-1.3zM116.7 136.4h1.3v1.3h-1.3zM119.2 134.7h1.3v1.3h-1.3zM118.3 126.5h1.3v1.3h-1.3zM116.4 135.8h1.3v1.3h-1.3zM111.8 106.7h1.3v1.3h-1.3zM116.5 137.2h1.3v1.3h-1.3zM107.8 128.1h1.3v1.3h-1.3zM114.9 123.9h1.3v1.3h-1.3zM117.2 131.3h1.3v1.3h-1.3zM128.0 87.5h1.3v1.3h-1.3zM122.3 111.2h1.3v1.3h-1.3zM130.5 105.2h1.3v1.3h-1.3zM110.1 128.1h1.3v1.3h-1.3zM114.4 134.8h1.3v1.3h-1.3zM113.3 106.5h1.3v1.3h-1.3zM121.5 111.0h1.3v1.3h-1.3zM129.3 87.7h1.3v1.3h-1.3zM122.9 111.1h1.3v1.3h-1.3zM129.8 103.4h1.3v1.3h-1.3zM115.1 106.0h1.3v1.3h-1.3zM114.7 130.9h1.3v1.3h-1.3zM110.9 128.8h1.3v1.3h-1.3zM114.9 134.7h1.3v1.3h-1.3zM131.8 85.8h1.3v1.3h-1.3zM114.9 105.6h1.3v1.3h-1.3zM115.7 118.8h1.3v1.3h-1.3zM125.8 108.0h1.3v1.3h-1.3zM118.6 134.5h1.3v1.3h-1.3zM126.3 108.4h1.3v1.3h-1.3zM149.5 75.1h1.3v1.3h-1.3zM127.6 88.6h1.3v1.3h-1.3zM150.5 74.6h1.3v1.3h-1.3zM133.0 85.8h1.3v1.3h-1.3zM113.4 125.1h1.3v1.3h-1.3zM158.0 78.4h1.3v1.3h-1.3zM128.8 106.3h1.3v1.3h-1.3zM114.4 134.8h1.3v1.3h-1.3zM118.0 127.1h1.3v1.3h-1.3zM131.4 105.2h1.3v1.3h-1.3zM158.8 77.5h1.3v1.3h-1.3zM111.6 123.4h1.3v1.3h-1.3zM113.2 124.9h1.3v1.3h-1.3zM115.1 108.2h1.3v1.3h-1.3zM128.1 105.2h1.3v1.3h-1.3zM130.6 108.5h1.3v1.3h-1.3zM111.9 123.7h1.3v1.3h-1.3zM129.9 108.2h1.3v1.3h-1.3zM112.9 129.3h1.3v1.3h-1.3zM124.0 109.7h1.3v1.3h-1.3zM129.4 107.8h1.3v1.3h-1.3zM110.9 123.6h1.3v1.3h-1.3zM112.9 123.4h1.3v1.3h-1.3zM123.4 109.4h1.3v1.3h-1.3zM131.2 108.6h1.3v1.3h-1.3zM132.6 105.5h1.3v1.3h-1.3zM111.5 127.5h1.3v1.3h-1.3zM113.4 109.3h1.3v1.3h-1.3zM111.5 125.2h1.3v1.3h-1.3zM113.6 108.0h1.3v1.3h-1.3zM130.3 110.5h1.3v1.3h-1.3zM128.6 109.8h1.3v1.3h-1.3zM113.0 120.6h1.3v1.3h-1.3zM115.5 131.9h1.3v1.3h-1.3zM132.0 107.7h1.3v1.3h-1.3zM117.4 110.8h1.3v1.3h-1.3zM112.7 121.2h1.3v1.3h-1.3zM112.2 117.8h1.3v1.3h-1.3zM112.1 121.3h1.3v1.3h-1.3zM112.2 117.9h1.3v1.3h-1.3zM128.1 110.3h1.3v1.3h-1.3zM111.5 120.1h1.3v1.3h-1.3zM128.4 109.7h1.3v1.3h-1.3zM112.3 119.9h1.3v1.3h-1.3zM111.6 117.8h1.3v1.3h-1.3zM133.1 107.9h1.3v1.3h-1.3zM148.3 92.6h1.3v1.3h-1.3zM130.9 111.2h1.3v1.3h-1.3zM118.0 110.4h1.3v1.3h-1.3zM133.0 102.1h1.3v1.3h-1.3zM131.9 101.8h1.3v1.3h-1.3zM150.1 88.7h1.3v1.3h-1.3zM156.0 80.3h1.3v1.3h-1.3zM155.7 77.9h1.3v1.3h-1.3zM157.1 80.8h1.3v1.3h-1.3zM111.3 122.7h1.3v1.3h-1.3zM114.4 125.5h1.3v1.3h-1.3zM149.4 87.9h1.3v1.3h-1.3zM116.5 110.7h1.3v1.3h-1.3zM155.4 77.6h1.3v1.3h-1.3zM116.1 109.7h1.3v1.3h-1.3zM157.3 78.4h1.3v1.3h-1.3zM115.1 121.0h1.3v1.3h-1.3zM113.8 120.0h1.3v1.3h-1.3zM125.8 109.4h1.3v1.3h-1.3zM131.6 103.3h1.3v1.3h-1.3zM156.3 78.4h1.3v1.3h-1.3zM113.5 120.4h1.3v1.3h-1.3zM149.8 88.1h1.3v1.3h-1.3zM133.6 97.5h1.3v1.3h-1.3zM134.0 99.2h1.3v1.3h-1.3zM151.3 88.4h1.3v1.3h-1.3zM114.1 121.2h1.3v1.3h-1.3zM125.6 111.0h1.3v1.3h-1.3zM114.4 120.4h1.3v1.3h-1.3zM114.3 102.7h1.3v1.3h-1.3zM126.3 104.7h1.3v1.3h-1.3zM114.9 103.1h1.3v1.3h-1.3zM114.2 102.1h1.3v1.3h-1.3zM125.5 103.6h1.3v1.3h-1.3zM134.6 83.9h1.3v1.3h-1.3zM153.6 84.4h1.3v1.3h-1.3zM118.9 97.1h1.3v1.3h-1.3zM153.7 83.5h1.3v1.3h-1.3zM135.0 85.2h1.3v1.3h-1.3zM118.2 97.2h1.3v1.3h-1.3zM118.0 96.6h1.3v1.3h-1.3zM134.0 84.0h1.3v1.3h-1.3zM154.5 85.0h1.3v1.3h-1.3zM126.7 103.8h1.3v1.3h-1.3z"/><path fill="#0019ff" fill-opacity="0.8" d="M120.0 110.6h1.3v1.3h-1.3zM116.0 134.5h1.3v1.3h-1.3zM148.2 89.7h1.3v1.3h-1.3zM124.8 109.2h1.3v1.3h-1.3zM115.1 100.5h1.3v1.3h-1.3zM115.6 134.7h1.3v1.3h-1.3zM119.5 93.9h1.3v1.3h-1.3zM123.8 108.0h1.3v1.3h-1.3zM113.7 100.6h1.3v1.3h-1.3zM123.4 109.2h1.3v1.3h-1.3zM110.7 126.2h1.3v1.3h-1.3zM115.2 100.9h1.3v1.3h-1.3zM114.4 100.3h1.3v1.3h-1.3zM149.1 90.1h1.3v1.3h-1.3zM109.4 127.3h1.3v1.3h-1.3zM120.4 110.3h1.3v1.3h-1.3zM125.0 108.5h1.3v1.3h-1.3z"/><path fill="#0023ff" fill-opacity="0.8" d="M112.1 122.2h1.3v1.3h-1.3zM153.7 83.1h1.3v1.3h-1.3zM117.9 108.2h1.3v1.3h-1.3zM119.0 109.3h1.3v1.3h-1.3zM118.7 108.1h1.3v1.3h-1.3zM115.7 98.6h1.3v1.3h-1.3zM117.4 108.0h1.3v1.3h-1.3zM116.7 105.9h1.3v1.3h-1.3zM117.5 107.4h1.3v1.3h-1.3zM118.0 109.2h1.3v1.3h-1.3zM147.3 91.0h1.3v1.3h-1.3zM136.3 82.4h1.3v1.3h-1.3zM117.1 99.0h1.3v1.3h-1.3zM117.2 106.2h1.3v1.3h-1.3zM145.4 90.1h1.3v1.3h-1.3zM137.2 97.2h1.3v1.3h-1.3zM117.8 109.2h1.3v1.3h-1.3zM112.4 123.1h1.3v1.3h-1.3zM146.2 90.5h1.3v1.3h-1.3z"/><path fill="#002eff" fill-opacity="0.8" d="M126.5 91.3h1.3v1.3h-1.3zM147.6 76.7h1.3v1.3h-1.3zM147.9 76.9h1.3v1.3h-1.3zM112.6 126.8h1.3v1.3h-1.3zM113.5 123.2h1.3v1.3h-1.3zM148.5 75.8h1.3v1.3h-1.3zM148.2 75.4h1.3v1.3h-1.3zM147.6 76.7h1.3v1.3h-1.3zM148.7 77.2h1.3v1.3h-1.3zM112.4 127.3h1.3v1.3h-1.3z"/><path fill="#0043ff" fill-opacity="0.8" d="M152.7 86.5h1.3v1.3h-1.3zM151.4 86.3h1.3v1.3h-1.3zM142.4 80.9h1.3v1.3h-1.3zM123.5 105.6h1.3v1.3h-1.3zM141.8 80.8h1.3v1.3h-1.3zM151.8 86.4h1.3v1.3h-1.3z"/><path fill="#004eff" fill-opacity="0.8" d="M134.0 96.5h1.3v1.3h-1.3zM131.9 100.0h1.3v1.3h-1.3zM133.6 96.1h1.3v1.3h-1.3zM133.6 96.6h1.3v1.3h-1.3zM135.0 96.5h1.3v1.3h-1.3zM150.4 85.5h1.3v1.3h-1.3zM134.2 96.7h1.3v1.3h-1.3zM151.3 86.3h1.3v1.3h-1.3zM151.1 86.9h1.3v1.3h-1.3zM150.9 86.8h1.3v1.3h-1.3zM134.7 96.8h1.3v1.3h-1.3zM135.1 95.4h1.3v1.3h-1.3zM149.7 85.4h1.3v1.3h-1.3zM150.4 86.8h1.3v1.3h-1.3zM133.1 99.5h1.3v1.3h-1.3z"/><path fill="#0058ff" fill-opacity="0.8" d="M120.7 107.4h1.3v1.3h-1.3zM130.5 89.0h1.3v1.3h-1.3zM129.4 88.5h1.3v1.3h-1.3zM121.2 108.8h1.3v1.3h-1.3zM147.7 88.8h1.3v1.3h-1.3z"/><path fill="#0063ff" fill-opacity="0.8" d="M134.0 86.4h1.3v1.3h-1.3zM133.4 85.9h1.3v1.3h-1.3zM116.8 104.0h1.3v1.3h-1.3zM134.4 86.7h1.3v1.3h-1.3z"/><path fill="#006dff" fill-opacity="0.8" d="M139.1 83.3h1.3v1.3h-1.3zM121.9 94.7h1.3v1.3h-1.3zM137.4 82.0h1.3v1.3h-1.3zM137.9 81.4h1.3v1.3h-1.3zM139.2 82.6h1.3v1.3h-1.3zM123.1 95.2h1.3v1.3h-1.3zM122.4 93.9h1.3v1.3h-1.3z"/><path fill="#0078ff" fill-opacity="0.8" d="M118.6 99.0h1.3v1.3h-1.3zM118.6 99.3h1.3v1.3h-1.3zM118.8 98.6h1.3v1.3h-1.3zM129.7 101.7h1.3v1.3h-1.3zM117.7 106.7h1.3v1.3h-1.3zM129.6 103.0h1.3v1.3h-1.3zM119.2 98.9h1.3v1.3h-1.3zM129.9 102.7h1.3v1.3h-1.3zM118.2 98.3h1.3v1.3h-1.3zM142.3 92.7h1.3v1.3h-1.3zM141.9 92.6h1.3v1.3h-1.3zM119.0 105.5h1.3v1.3h-1.3z"/><path fill="#0082ff" fill-opacity="0.8" d="M153.1 77.0h1.3v1.3h-1.3zM120.9 97.3h1.3v1.3h-1.3zM117.0 102.6h1.3v1.3h-1.3zM116.7 103.0h1.3v1.3h-1.3zM145.9 77.8h1.3v1.3h-1.3zM146.2 77.4h1.3v1.3h-1.3zM116.7 102.7h1.3v1.3h-1.3zM117.1 103.1h1.3v1.3h-1.3zM121.1 95.6h1.3v1.3h-1.3zM120.5 97.2h1.3v1.3h-1.3zM151.7 77.2h1.3v1.3h-1.3zM116.5 102.8h1.3v1.3h-1.3zM121.0 96.7h1.3v1.3h-1.3zM120.7 95.7h1.3v1.3h-1.3zM151.4 76.1h1.3v1.3h-1.3zM117.2 103.3h1.3v1.3h-1.3zM152.0 76.5h1.3v1.3h-1.3z"/><path fill="#008dff" fill-opacity="0.8" d="M154.8 79.0h1.3v1.3h-1.3zM144.2 90.3h1.3v1.3h-1.3zM154.6 79.2h1.3v1.3h-1.3zM124.6 103.4h1.3v1.3h-1.3zM121.9 105.4h1.3v1.3h-1.3zM132.5 89.1h1.3v1.3h-1.3zM122.4 105.4h1.3v1.3h-1.3zM122.0 105.4h1.3v1.3h-1.3zM122.9 105.9h1.3v1.3h-1.3zM132.4 87.6h1.3v1.3h-1.3zM154.0 78.4h1.3v1.3h-1.3zM122.3 106.6h1.3v1.3h-1.3zM124.6 104.2h1.3v1.3h-1.3zM125.0 104.6h1.3v1.3h-1.3zM131.9 89.3h1.3v1.3h-1.3z"/><path fill="#0097ff" fill-opacity="0.8" d="M139.4 94.2h1.3v1.3h-1.3zM145.9 88.1h1.3v1.3h-1.3zM146.6 88.6h1.3v1.3h-1.3zM139.8 94.6h1.3v1.3h-1.3zM146.1 87.4h1.3v1.3h-1.3zM145.4 89.0h1.3v1.3h-1.3z"/><path fill="#00a2ff" fill-opacity="0.8" d="M153.9 79.9h1.3v1.3h-1.3zM116.0 100.5h1.3v1.3h-1.3zM152.8 83.3h1.3v1.3h-1.3zM152.1 82.0h1.3v1.3h-1.3zM147.5 86.2h1.3v1.3h-1.3zM148.4 86.4h1.3v1.3h-1.3zM151.7 81.9h1.3v1.3h-1.3zM153.8 80.6h1.3v1.3h-1.3zM153.9 80.6h1.3v1.3h-1.3zM152.4 82.7h1.3v1.3h-1.3zM153.0 82.9h1.3v1.3h-1.3zM155.2 80.5h1.3v1.3h-1.3zM152.9 83.0h1.3v1.3h-1.3zM115.8 100.6h1.3v1.3h-1.3zM153.3 81.8h1.3v1.3h-1.3z"/><path fill="#00adff" fill-opacity="0.8" d="M153.3 83.5h1.3v1.3h-1.3zM152.9 85.3h1.3v1.3h-1.3zM152.4 83.9h1.3v1.3h-1.3z"/><path fill="#00b7ff" fill-opacity="0.8" d="M149.2 78.2h1.3v1.3h-1.3zM133.3 99.1h1.3v1.3h-1.3zM141.0 83.1h1.3v1.3h-1.3zM147.7 77.4h1.3v1.3h-1.3zM150.8 81.6h1.3v1.3h-1.3zM149.6 81.6h1.3v1.3h-1.3zM149.8 82.8h1.3v1.3h-1.3zM131.8 98.6h1.3v1.3h-1.3zM149.5 82.1h1.3v1.3h-1.3zM151.0 81.8h1.3v1.3h-1.3zM139.8 81.8h1.3v1.3h-1.3zM149.3 78.5h1.3v1.3h-1.3zM149.4 82.4h1.3v1.3h-1.3zM149.7 83.3h1.3v1.3h-1.3zM136.3 84.5h1.3v1.3h-1.3z"/><path fill="#00c2ff" fill-opacity="0.8" d="M149.8 77.2h1.3v1.3h-1.3zM150.0 77.3h1.3v1.3h-1.3zM119.8 98.5h1.3v1.3h-1.3zM120.5 98.1h1.3v1.3h-1.3zM121.8 96.3h1.3v1.3h-1.3zM120.1 99.3h1.3v1.3h-1.3zM149.5 77.0h1.3v1.3h-1.3zM119.4 99.3h1.3v1.3h-1.3zM122.3 96.6h1.3v1.3h-1.3zM122.5 96.7h1.3v1.3h-1.3z"/><path fill="#00ccff" fill-opacity="0.8" d="M153.2 79.0h1.3v1.3h-1.3zM152.3 79.2h1.3v1.3h-1.3zM152.5 79.0h1.3v1.3h-1.3zM144.6 80.4h1.3v1.3h-1.3zM144.6 80.9h1.3v1.3h-1.3zM124.2 95.0h1.3v1.3h-1.3zM120.7 105.8h1.3v1.3h-1.3zM152.3 78.3h1.3v1.3h-1.3zM151.6 79.1h1.3v1.3h-1.3zM153.0 77.9h1.3v1.3h-1.3zM128.0 101.6h1.3v1.3h-1.3zM144.6 79.9h1.3v1.3h-1.3zM152.5 78.8h1.3v1.3h-1.3zM124.5 93.9h1.3v1.3h-1.3zM123.8 94.4h1.3v1.3h-1.3zM120.4 107.2h1.3v1.3h-1.3zM144.5 80.7h1.3v1.3h-1.3zM153.1 78.2h1.3v1.3h-1.3zM143.8 80.1h1.3v1.3h-1.3zM152.6 78.9h1.3v1.3h-1.3zM144.0 80.6h1.3v1.3h-1.3zM119.9 105.9h1.3v1.3h-1.3zM153.0 77.7h1.3v1.3h-1.3zM152.6 77.9h1.3v1.3h-1.3zM128.8 103.1h1.3v1.3h-1.3z"/><path fill="#00d7ff" fill-opacity="0.8" d="M123.6 101.5h1.3v1.3h-1.3zM124.4 102.2h1.3v1.3h-1.3zM125.2 101.4h1.3v1.3h-1.3zM149.8 84.5h1.3v1.3h-1.3zM149.6 84.2h1.3v1.3h-1.3zM123.9 102.3h1.3v1.3h-1.3zM150.7 83.5h1.3v1.3h-1.3zM123.8 103.0h1.3v1.3h-1.3zM124.3 101.6h1.3v1.3h-1.3z"/><path fill="#00e1ff" fill-opacity="0.8" d="M147.0 80.6h1.3v1.3h-1.3zM146.6 81.0h1.3v1.3h-1.3zM138.8 93.5h1.3v1.3h-1.3zM147.0 80.6h1.3v1.3h-1.3zM125.9 101.7h1.3v1.3h-1.3zM119.1 104.3h1.3v1.3h-1.3zM146.6 80.1h1.3v1.3h-1.3zM137.5 94.7h1.3v1.3h-1.3zM118.2 103.9h1.3v1.3h-1.3zM145.7 80.7h1.3v1.3h-1.3zM147.0 80.6h1.3v1.3h-1.3zM117.8 103.4h1.3v1.3h-1.3zM125.9 101.7h1.3v1.3h-1.3zM146.8 80.3h1.3v1.3h-1.3zM138.5 94.7h1.3v1.3h-1.3zM138.8 93.8h1.3v1.3h-1.3zM117.4 105.2h1.3v1.3h-1.3zM139.2 95.1h1.3v1.3h-1.3zM117.7 104.1h1.3v1.3h-1.3zM147.0 79.9h1.3v1.3h-1.3zM146.2 80.8h1.3v1.3h-1.3zM127.1 103.0h1.3v1.3h-1.3z"/><path fill="#00ecff" fill-opacity="0.8" d="M122.2 99.0h1.3v1.3h-1.3zM122.8 98.9h1.3v1.3h-1.3zM121.5 97.7h1.3v1.3h-1.3zM137.2 86.3h1.3v1.3h-1.3zM136.3 87.3h1.3v1.3h-1.3zM121.9 98.9h1.3v1.3h-1.3zM121.6 98.8h1.3v1.3h-1.3zM136.5 87.2h1.3v1.3h-1.3zM117.8 100.5h1.3v1.3h-1.3zM135.9 85.7h1.3v1.3h-1.3zM122.8 98.2h1.3v1.3h-1.3zM119.1 100.7h1.3v1.3h-1.3zM137.0 86.7h1.3v1.3h-1.3zM122.9 98.0h1.3v1.3h-1.3zM148.0 85.3h1.3v1.3h-1.3zM147.8 84.5h1.3v1.3h-1.3zM147.6 84.5h1.3v1.3h-1.3zM148.7 83.9h1.3v1.3h-1.3zM119.3 100.6h1.3v1.3h-1.3zM135.6 85.9h1.3v1.3h-1.3z"/><path fill="#00f6ff" fill-opacity="0.8" d="M125.7 92.3h1.3v1.3h-1.3zM150.6 78.6h1.3v1.3h-1.3zM150.1 77.7h1.3v1.3h-1.3zM126.7 93.0h1.3v1.3h-1.3zM129.0 91.0h1.3v1.3h-1.3zM150.8 78.4h1.3v1.3h-1.3zM127.2 92.8h1.3v1.3h-1.3zM126.2 92.4h1.3v1.3h-1.3zM149.9 78.1h1.3v1.3h-1.3zM150.8 78.8h1.3v1.3h-1.3zM129.1 89.7h1.3v1.3h-1.3zM149.9 79.2h1.3v1.3h-1.3zM127.2 92.9h1.3v1.3h-1.3zM127.5 90.5h1.3v1.3h-1.3zM150.0 78.6h1.3v1.3h-1.3zM122.2 99.5h1.3v1.3h-1.3zM128.1 89.9h1.3v1.3h-1.3zM125.6 92.5h1.3v1.3h-1.3z"/><path fill="#02fffc" fill-opacity="0.8" d="M147.9 79.6h1.3v1.3h-1.3zM123.0 103.5h1.3v1.3h-1.3zM149.2 80.7h1.3v1.3h-1.3zM121.8 104.0h1.3v1.3h-1.3zM122.0 104.3h1.3v1.3h-1.3zM122.4 103.6h1.3v1.3h-1.3zM121.4 103.9h1.3v1.3h-1.3zM122.7 104.8h1.3v1.3h-1.3z"/><path fill="#0cfff2" fill-opacity="0.8" d="M120.5 99.7h1.3v1.3h-1.3zM120.6 100.9h1.3v1.3h-1.3zM144.4 87.6h1.3v1.3h-1.3zM143.5 88.6h1.3v1.3h-1.3zM148.3 82.6h1.3v1.3h-1.3zM145.2 89.0h1.3v1.3h-1.3zM120.6 101.2h1.3v1.3h-1.3zM120.0 101.3h1.3v1.3h-1.3zM118.3 101.9h1.3v1.3h-1.3zM118.3 102.7h1.3v1.3h-1.3zM145.1 88.0h1.3v1.3h-1.3zM119.4 101.1h1.3v1.3h-1.3zM117.4 102.9h1.3v1.3h-1.3zM118.6 102.7h1.3v1.3h-1.3zM144.1 89.0h1.3v1.3h-1.3zM148.7 83.1h1.3v1.3h-1.3zM143.8 88.6h1.3v1.3h-1.3zM143.7 89.2h1.3v1.3h-1.3zM118.4 102.0h1.3v1.3h-1.3zM120.1 99.6h1.3v1.3h-1.3zM144.4 87.8h1.3v1.3h-1.3zM148.6 81.8h1.3v1.3h-1.3zM117.9 102.6h1.3v1.3h-1.3zM148.2 81.7h1.3v1.3h-1.3zM117.9 103.2h1.3v1.3h-1.3z"/><path fill="#17ffe7" fill-opacity="0.8" d="M123.3 101.6h1.3v1.3h-1.3zM122.4 101.7h1.3v1.3h-1.3zM130.1 101.2h1.3v1.3h-1.3zM129.7 101.0h1.3v1.3h-1.3zM129.5 99.6h1.3v1.3h-1.3zM123.1 102.3h1.3v1.3h-1.3zM129.8 100.1h1.3v1.3h-1.3zM123.1 101.5h1.3v1.3h-1.3zM122.1 101.6h1.3v1.3h-1.3zM129.5 99.5h1.3v1.3h-1.3z"/><path fill="#22ffdc" fill-opacity="0.8" d="M146.8 87.0h1.3v1.3h-1.3zM145.7 86.1h1.3v1.3h-1.3zM147.3 86.4h1.3v1.3h-1.3zM151.5 80.2h1.3v1.3h-1.3zM153.3 81.1h1.3v1.3h-1.3zM146.9 86.7h1.3v1.3h-1.3z"/><path fill="#2cffd2" fill-opacity="0.8" d="M120.4 104.2h1.3v1.3h-1.3zM150.1 79.6h1.3v1.3h-1.3zM119.9 105.0h1.3v1.3h-1.3zM132.7 95.5h1.3v1.3h-1.3zM121.2 102.1h1.3v1.3h-1.3zM150.8 81.1h1.3v1.3h-1.3zM150.4 81.0h1.3v1.3h-1.3zM121.3 104.5h1.3v1.3h-1.3zM150.3 81.2h1.3v1.3h-1.3zM119.5 104.4h1.3v1.3h-1.3zM142.4 83.0h1.3v1.3h-1.3zM120.1 104.0h1.3v1.3h-1.3zM120.7 102.5h1.3v1.3h-1.3zM131.9 96.7h1.3v1.3h-1.3zM132.7 96.9h1.3v1.3h-1.3zM141.9 82.3h1.3v1.3h-1.3zM119.4 105.1h1.3v1.3h-1.3zM132.1 95.7h1.3v1.3h-1.3zM120.7 101.4h1.3v1.3h-1.3zM119.9 103.6h1.3v1.3h-1.3zM121.1 102.4h1.3v1.3h-1.3zM120.1 103.3h1.3v1.3h-1.3zM119.5 102.5h1.3v1.3h-1.3zM142.1 82.7h1.3v1.3h-1.3zM121.1 103.5h1.3v1.3h-1.3zM141.6 81.7h1.3v1.3h-1.3z"/><path fill="#37ffc7" fill-opacity="0.8" d="M134.2 93.9h1.3v1.3h-1.3zM133.7 94.2h1.3v1.3h-1.3zM133.4 94.7h1.3v1.3h-1.3zM136.4 95.0h1.3v1.3h-1.3zM135.0 95.1h1.3v1.3h-1.3z"/><path fill="#41ffbd" fill-opacity="0.8" d="M139.6 91.9h1.3v1.3h-1.3zM142.6 90.7h1.3v1.3h-1.3zM142.6 91.1h1.3v1.3h-1.3zM141.1 92.0h1.3v1.3h-1.3zM141.2 92.5h1.3v1.3h-1.3zM134.4 88.6h1.3v1.3h-1.3zM141.5 90.6h1.3v1.3h-1.3zM143.3 90.2h1.3v1.3h-1.3zM139.6 93.3h1.3v1.3h-1.3zM139.6 92.7h1.3v1.3h-1.3zM142.6 90.9h1.3v1.3h-1.3zM142.0 90.6h1.3v1.3h-1.3zM139.7 91.4h1.3v1.3h-1.3zM143.3 90.4h1.3v1.3h-1.3z"/><path fill="#4cffb2" fill-opacity="0.8" d="M125.1 101.2h1.3v1.3h-1.3zM123.7 101.3h1.3v1.3h-1.3zM123.7 99.8h1.3v1.3h-1.3zM124.0 99.7h1.3v1.3h-1.3z"/><path fill="#56ffa8" fill-opacity="0.8" d="M136.3 87.6h1.3v1.3h-1.3zM136.7 88.9h1.3v1.3h-1.3zM123.6 97.0h1.3v1.3h-1.3zM124.8 97.9h1.3v1.3h-1.3zM145.4 84.9h1.3v1.3h-1.3zM124.3 97.2h1.3v1.3h-1.3zM136.4 89.1h1.3v1.3h-1.3zM135.4 88.9h1.3v1.3h-1.3zM136.9 88.0h1.3v1.3h-1.3zM125.3 96.5h1.3v1.3h-1.3zM125.0 96.6h1.3v1.3h-1.3zM124.7 97.1h1.3v1.3h-1.3zM124.7 95.9h1.3v1.3h-1.3zM136.9 89.0h1.3v1.3h-1.3zM145.8 85.0h1.3v1.3h-1.3zM145.4 84.3h1.3v1.3h-1.3zM136.4 88.5h1.3v1.3h-1.3zM136.9 88.6h1.3v1.3h-1.3zM145.4 84.3h1.3v1.3h-1.3zM125.0 97.2h1.3v1.3h-1.3zM123.7 97.9h1.3v1.3h-1.3zM147.2 83.4h1.3v1.3h-1.3zM147.0 85.3h1.3v1.3h-1.3zM125.1 97.8h1.3v1.3h-1.3zM123.9 97.2h1.3v1.3h-1.3z"/><path fill="#6bff93" fill-opacity="0.8" d="M129.7 89.9h1.3v1.3h-1.3zM130.7 90.4h1.3v1.3h-1.3zM144.6 86.7h1.3v1.3h-1.3zM144.6 85.7h1.3v1.3h-1.3zM130.5 90.1h1.3v1.3h-1.3zM144.9 86.5h1.3v1.3h-1.3zM145.1 87.2h1.3v1.3h-1.3zM144.3 86.9h1.3v1.3h-1.3zM130.0 89.7h1.3v1.3h-1.3zM143.5 85.7h1.3v1.3h-1.3zM130.7 91.2h1.3v1.3h-1.3zM144.6 87.1h1.3v1.3h-1.3zM143.9 86.7h1.3v1.3h-1.3zM129.7 90.1h1.3v1.3h-1.3z"/><path fill="#76ff88" fill-opacity="0.8" d="M143.5 84.6h1.3v1.3h-1.3zM145.9 82.6h1.3v1.3h-1.3zM132.6 90.9h1.3v1.3h-1.3zM133.1 90.9h1.3v1.3h-1.3zM145.3 84.1h1.3v1.3h-1.3zM131.4 90.4h1.3v1.3h-1.3zM143.5 84.0h1.3v1.3h-1.3zM132.9 89.9h1.3v1.3h-1.3zM145.4 83.0h1.3v1.3h-1.3zM129.7 98.6h1.3v1.3h-1.3zM129.5 99.1h1.3v1.3h-1.3zM145.4 81.8h1.3v1.3h-1.3zM146.4 82.1h1.3v1.3h-1.3zM131.1 98.7h1.3v1.3h-1.3zM129.6 98.1h1.3v1.3h-1.3zM143.9 84.3h1.3v1.3h-1.3zM130.9 98.9h1.3v1.3h-1.3zM143.6 83.7h1.3v1.3h-1.3zM144.5 84.2h1.3v1.3h-1.3zM143.5 83.4h1.3v1.3h-1.3zM143.5 85.1h1.3v1.3h-1.3zM132.4 91.0h1.3v1.3h-1.3zM132.1 91.1h1.3v1.3h-1.3zM146.6 82.3h1.3v1.3h-1.3zM129.6 98.4h1.3v1.3h-1.3zM129.9 97.9h1.3v1.3h-1.3zM144.5 84.5h1.3v1.3h-1.3zM131.3 97.4h1.3v1.3h-1.3z"/><path fill="#80ff7e" fill-opacity="0.8" d="M144.9 82.3h1.3v1.3h-1.3zM144.7 81.7h1.3v1.3h-1.3zM139.1 84.6h1.3v1.3h-1.3zM143.7 82.8h1.3v1.3h-1.3zM143.7 82.9h1.3v1.3h-1.3zM127.0 94.3h1.3v1.3h-1.3zM144.2 82.0h1.3v1.3h-1.3zM138.3 84.1h1.3v1.3h-1.3zM138.4 83.9h1.3v1.3h-1.3zM139.3 84.1h1.3v1.3h-1.3zM126.1 94.2h1.3v1.3h-1.3zM144.9 82.8h1.3v1.3h-1.3zM126.8 94.8h1.3v1.3h-1.3zM138.0 83.6h1.3v1.3h-1.3zM145.1 83.1h1.3v1.3h-1.3zM126.6 94.1h1.3v1.3h-1.3zM138.2 85.3h1.3v1.3h-1.3zM125.6 95.2h1.3v1.3h-1.3zM125.8 95.2h1.3v1.3h-1.3zM125.5 94.2h1.3v1.3h-1.3zM139.3 84.4h1.3v1.3h-1.3zM137.5 85.3h1.3v1.3h-1.3zM144.5 83.0h1.3v1.3h-1.3zM143.6 82.7h1.3v1.3h-1.3z"/><path fill="#a0ff5e" fill-opacity="0.8" d="M139.6 91.2h1.3v1.3h-1.3zM141.3 89.9h1.3v1.3h-1.3zM140.7 91.0h1.3v1.3h-1.3zM139.7 90.3h1.3v1.3h-1.3zM140.8 90.7h1.3v1.3h-1.3zM141.1 90.1h1.3v1.3h-1.3zM141.1 89.7h1.3v1.3h-1.3zM139.5 90.6h1.3v1.3h-1.3zM140.1 90.0h1.3v1.3h-1.3zM139.6 91.0h1.3v1.3h-1.3z"/><path fill="#abff53" fill-opacity="0.8" d="M125.7 100.8h1.3v1.3h-1.3zM127.2 99.4h1.3v1.3h-1.3zM125.9 99.4h1.3v1.3h-1.3zM126.4 99.7h1.3v1.3h-1.3zM126.8 99.8h1.3v1.3h-1.3zM125.4 99.5h1.3v1.3h-1.3zM127.3 99.5h1.3v1.3h-1.3zM125.8 100.9h1.3v1.3h-1.3z"/><path fill="#b5ff49" fill-opacity="0.8" d="M138.7 91.5h1.3v1.3h-1.3zM140.5 84.2h1.3v1.3h-1.3zM138.5 91.8h1.3v1.3h-1.3zM138.3 92.5h1.3v1.3h-1.3zM140.1 84.0h1.3v1.3h-1.3zM138.4 92.4h1.3v1.3h-1.3zM141.1 84.3h1.3v1.3h-1.3zM138.3 91.9h1.3v1.3h-1.3zM137.9 93.1h1.3v1.3h-1.3zM140.8 84.9h1.3v1.3h-1.3zM139.2 91.7h1.3v1.3h-1.3zM140.8 84.5h1.3v1.3h-1.3zM141.2 83.4h1.3v1.3h-1.3zM140.3 83.8h1.3v1.3h-1.3zM140.9 84.6h1.3v1.3h-1.3zM137.4 92.7h1.3v1.3h-1.3zM139.1 92.8h1.3v1.3h-1.3zM138.4 91.6h1.3v1.3h-1.3zM138.1 92.4h1.3v1.3h-1.3zM138.3 92.3h1.3v1.3h-1.3zM139.5 83.5h1.3v1.3h-1.3z"/><path fill="#c0ff3e" fill-opacity="0.8" d="M133.6 92.7h1.3v1.3h-1.3zM134.6 91.5h1.3v1.3h-1.3zM135.5 92.6h1.3v1.3h-1.3zM135.8 92.5h1.3v1.3h-1.3zM134.8 92.1h1.3v1.3h-1.3zM136.4 92.5h1.3v1.3h-1.3zM136.8 91.4h1.3v1.3h-1.3zM137.2 91.7h1.3v1.3h-1.3zM134.8 93.1h1.3v1.3h-1.3zM136.8 92.8h1.3v1.3h-1.3zM134.7 92.9h1.3v1.3h-1.3zM134.7 93.1h1.3v1.3h-1.3zM135.6 91.7h1.3v1.3h-1.3zM136.2 92.4h1.3v1.3h-1.3zM135.5 91.5h1.3v1.3h-1.3zM133.8 92.8h1.3v1.3h-1.3zM136.5 92.8h1.3v1.3h-1.3z"/><path fill="#caff34" fill-opacity="0.8" d="M128.0 101.1h1.3v1.3h-1.3zM128.1 101.1h1.3v1.3h-1.3zM128.3 99.9h1.3v1.3h-1.3zM128.5 99.6h1.3v1.3h-1.3zM128.9 99.7h1.3v1.3h-1.3zM128.1 99.6h1.3v1.3h-1.3zM128.7 101.3h1.3v1.3h-1.3zM128.5 100.5h1.3v1.3h-1.3zM128.8 100.6h1.3v1.3h-1.3zM128.3 101.3h1.3v1.3h-1.3z"/><path fill="#d5ff29" fill-opacity="0.8" d="M134.5 90.1h1.3v1.3h-1.3zM135.9 90.2h1.3v1.3h-1.3zM134.0 90.6h1.3v1.3h-1.3zM131.9 93.6h1.3v1.3h-1.3zM134.1 89.6h1.3v1.3h-1.3zM130.3 97.1h1.3v1.3h-1.3zM130.6 96.7h1.3v1.3h-1.3zM135.4 89.7h1.3v1.3h-1.3zM137.0 90.8h1.3v1.3h-1.3zM133.1 94.5h1.3v1.3h-1.3zM136.0 90.2h1.3v1.3h-1.3zM135.0 89.5h1.3v1.3h-1.3zM134.1 90.2h1.3v1.3h-1.3zM137.0 89.4h1.3v1.3h-1.3zM132.3 94.2h1.3v1.3h-1.3zM131.3 95.7h1.3v1.3h-1.3zM133.8 91.2h1.3v1.3h-1.3zM136.9 91.2h1.3v1.3h-1.3zM131.5 95.1h1.3v1.3h-1.3zM129.4 96.9h1.3v1.3h-1.3zM136.4 89.6h1.3v1.3h-1.3zM136.2 90.0h1.3v1.3h-1.3zM134.2 91.0h1.3v1.3h-1.3zM136.8 89.7h1.3v1.3h-1.3zM136.5 90.0h1.3v1.3h-1.3zM131.2 95.7h1.3v1.3h-1.3zM131.5 94.8h1.3v1.3h-1.3zM133.5 90.7h1.3v1.3h-1.3zM137.2 91.3h1.3v1.3h-1.3zM131.3 96.9h1.3v1.3h-1.3z"/><path fill="#eaff14" fill-opacity="0.8" d="M127.9 91.7h1.3v1.3h-1.3zM128.9 92.5h1.3v1.3h-1.3zM127.5 93.0h1.3v1.3h-1.3zM128.4 92.7h1.3v1.3h-1.3zM128.9 92.0h1.3v1.3h-1.3zM129.0 92.7h1.3v1.3h-1.3zM128.3 92.7h1.3v1.3h-1.3zM128.4 92.6h1.3v1.3h-1.3z"/><path fill="#f4ff0a" fill-opacity="0.8" d="M132.9 93.0h1.3v1.3h-1.3zM132.6 92.5h1.3v1.3h-1.3zM139.4 87.4h1.3v1.3h-1.3zM142.1 85.1h1.3v1.3h-1.3zM139.9 89.1h1.3v1.3h-1.3zM140.0 87.4h1.3v1.3h-1.3zM140.0 88.0h1.3v1.3h-1.3zM131.6 91.8h1.3v1.3h-1.3zM132.0 91.9h1.3v1.3h-1.3zM141.3 89.2h1.3v1.3h-1.3zM132.5 91.6h1.3v1.3h-1.3zM132.1 91.8h1.3v1.3h-1.3zM142.5 84.3h1.3v1.3h-1.3zM131.8 93.3h1.3v1.3h-1.3zM142.6 83.7h1.3v1.3h-1.3zM140.5 88.2h1.3v1.3h-1.3zM140.5 88.6h1.3v1.3h-1.3zM132.1 92.8h1.3v1.3h-1.3zM141.2 87.9h1.3v1.3h-1.3zM142.5 85.0h1.3v1.3h-1.3zM140.1 89.3h1.3v1.3h-1.3zM132.3 92.4h1.3v1.3h-1.3zM141.8 85.0h1.3v1.3h-1.3zM140.3 89.0h1.3v1.3h-1.3z"/><path fill="#fffe00" fill-opacity="0.8" d="M126.0 97.8h1.3v1.3h-1.3zM127.1 97.7h1.3v1.3h-1.3zM127.1 99.3h1.3v1.3h-1.3zM125.6 96.5h1.3v1.3h-1.3zM127.3 95.4h1.3v1.3h-1.3zM125.9 97.6h1.3v1.3h-1.3zM125.5 98.7h1.3v1.3h-1.3zM126.7 99.2h1.3v1.3h-1.3zM125.9 99.3h1.3v1.3h-1.3zM127.0 97.7h1.3v1.3h-1.3zM126.8 97.8h1.3v1.3h-1.3zM125.9 97.9h1.3v1.3h-1.3zM126.0 96.7h1.3v1.3h-1.3zM126.2 98.0h1.3v1.3h-1.3zM126.5 97.7h1.3v1.3h-1.3zM126.1 97.3h1.3v1.3h-1.3zM126.5 99.2h1.3v1.3h-1.3z"/><path fill="#fff300" fill-opacity="0.8" d="M141.1 86.5h1.3v1.3h-1.3zM140.9 86.9h1.3v1.3h-1.3zM141.2 85.5h1.3v1.3h-1.3zM141.0 87.0h1.3v1.3h-1.3zM141.2 86.5h1.3v1.3h-1.3zM140.4 86.2h1.3v1.3h-1.3zM139.7 85.4h1.3v1.3h-1.3zM139.6 86.9h1.3v1.3h-1.3zM140.9 86.8h1.3v1.3h-1.3zM141.0 85.4h1.3v1.3h-1.3zM139.6 87.1h1.3v1.3h-1.3zM139.7 86.7h1.3v1.3h-1.3zM140.7 86.8h1.3v1.3h-1.3zM139.4 87.1h1.3v1.3h-1.3zM140.4 85.8h1.3v1.3h-1.3zM139.6 87.2h1.3v1.3h-1.3z"/><path fill="#ffe900" fill-opacity="0.8" d="M138.2 86.2h1.3v1.3h-1.3zM141.4 87.8h1.3v1.3h-1.3zM139.1 86.8h1.3v1.3h-1.3zM142.0 88.2h1.3v1.3h-1.3zM138.2 87.2h1.3v1.3h-1.3zM142.2 88.0h1.3v1.3h-1.3zM138.2 86.6h1.3v1.3h-1.3zM138.5 86.7h1.3v1.3h-1.3zM138.7 85.5h1.3v1.3h-1.3zM139.3 85.5h1.3v1.3h-1.3zM139.3 85.7h1.3v1.3h-1.3zM142.1 87.4h1.3v1.3h-1.3zM141.7 88.7h1.3v1.3h-1.3z"/><path fill="#ffd400" fill-opacity="0.8" d="M128.6 94.3h1.3v1.3h-1.3zM128.1 99.0h1.3v1.3h-1.3zM128.6 97.5h1.3v1.3h-1.3zM127.9 97.4h1.3v1.3h-1.3zM129.7 93.1h1.3v1.3h-1.3zM127.7 95.3h1.3v1.3h-1.3zM129.8 92.9h1.3v1.3h-1.3zM128.0 95.2h1.3v1.3h-1.3zM128.2 94.4h1.3v1.3h-1.3zM130.4 91.9h1.3v1.3h-1.3zM127.7 98.9h1.3v1.3h-1.3zM131.1 91.8h1.3v1.3h-1.3zM127.7 98.8h1.3v1.3h-1.3zM128.6 98.8h1.3v1.3h-1.3zM127.7 94.5h1.3v1.3h-1.3zM127.5 93.4h1.3v1.3h-1.3zM128.8 97.5h1.3v1.3h-1.3zM127.7 95.0h1.3v1.3h-1.3zM128.5 98.5h1.3v1.3h-1.3zM130.8 92.3h1.3v1.3h-1.3zM128.7 94.2h1.3v1.3h-1.3zM129.2 94.5h1.3v1.3h-1.3zM130.8 92.7h1.3v1.3h-1.3zM128.2 98.8h1.3v1.3h-1.3zM130.1 92.6h1.3v1.3h-1.3zM128.3 98.9h1.3v1.3h-1.3zM130.8 92.4h1.3v1.3h-1.3zM127.9 94.7h1.3v1.3h-1.3zM131.3 92.1h1.3v1.3h-1.3zM130.0 92.6h1.3v1.3h-1.3zM131.1 93.3h1.3v1.3h-1.3zM128.2 94.2h1.3v1.3h-1.3zM130.0 92.3h1.3v1.3h-1.3zM127.9 94.7h1.3v1.3h-1.3z"/><path fill="#ffc900" fill-opacity="0.8" d="M130.6 94.6h1.3v1.3h-1.3zM130.2 93.7h1.3v1.3h-1.3zM130.4 94.0h1.3v1.3h-1.3zM129.4 94.9h1.3v1.3h-1.3zM129.8 93.9h1.3v1.3h-1.3zM131.2 95.1h1.3v1.3h-1.3zM131.0 95.2h1.3v1.3h-1.3zM130.3 95.3h1.3v1.3h-1.3zM129.6 93.9h1.3v1.3h-1.3z"/><path fill="#ffbf00" fill-opacity="0.8" d="M138.4 89.6h1.3v1.3h-1.3zM137.9 90.7h1.3v1.3h-1.3zM138.7 90.2h1.3v1.3h-1.3z"/><path fill="#ffb400" fill-opacity="0.8" d="M142.2 86.8h1.3v1.3h-1.3zM143.2 87.0h1.3v1.3h-1.3zM142.8 86.2h1.3v1.3h-1.3zM142.0 85.5h1.3v1.3h-1.3z"/><path fill="#ffaa00" fill-opacity="0.8" d="M137.8 88.0h1.3v1.3h-1.3zM139.3 89.0h1.3v1.3h-1.3zM139.1 88.9h1.3v1.3h-1.3z"/><path fill="#ff9f00" fill-opacity="0.8" d="M127.6 96.1h1.3v1.3h-1.3zM128.9 96.9h1.3v1.3h-1.3zM127.9 96.0h1.3v1.3h-1.3zM128.6 96.3h1.3v1.3h-1.3zM128.2 96.5h1.3v1.3h-1.3zM128.8 95.7h1.3v1.3h-1.3zM128.3 96.8h1.3v1.3h-1.3z"/></g><path d="M80 30.6 H314.2" stroke="#4a4a4a" stroke-width="1.25" fill="none"/><path d="M314.2 30.6 V264.3" stroke="#555" stroke-width="1.3" fill="none"/><path d="M80 30.6 V264.3" stroke="#5a5a5a" stroke-width="1.35" fill="none"/><path d="M80 264.3 H314.2" stroke="#1e1e1e" stroke-width="1.1" fill="none"/><path d="M172.6 30.6 V270.3 M73 123.1 H314.2" stroke="#000" stroke-width="2" fill="none"/><path d="M73 263.0 H80.5 M80.2 264 V270.5 M73 216.3 H80.5 M126.3 264 V270.5 M73 169.5 H80.5 M172.6 264 V270.5 M73 123.1 H80.5 M219.0 264 V270.5 M73 76.9 H80.5 M265.7 264 V270.5 M73 31.2 H80.5 M313.0 264 V270.5" stroke="#000" stroke-width="1.7" fill="none"/><path d="M77.2 248.9 H80 M94.4 264.3 V267.4 M77.2 240.7 H80 M102.5 264.3 V267.4 M77.2 234.9 H80 M108.3 264.3 V267.4 M75.6 230.4 H80 M112.7 264.3 V268.9 M77.2 226.7 H80 M116.4 264.3 V267.4 M77.2 223.5 H80 M119.5 264.3 V267.4 M77.2 220.8 H80 M122.1 264.3 V267.4 M77.2 218.4 H80 M124.5 264.3 V267.4 M77.2 202.2 H80 M140.5 264.3 V267.4 M77.2 194.0 H80 M148.7 264.3 V267.4 M77.2 188.1 H80 M154.5 264.3 V267.4 M75.6 183.6 H80 M159.0 264.3 V268.9 M77.2 179.9 H80 M162.6 264.3 V267.4 M77.2 176.7 H80 M165.7 264.3 V267.4 M77.2 174.0 H80 M168.4 264.3 V267.4 M77.2 171.6 H80 M170.8 264.3 V267.4 M77.2 155.5 H80 M186.9 264.3 V267.4 M77.2 147.4 H80 M195.0 264.3 V267.4 M77.2 141.6 H80 M200.8 264.3 V267.4 M75.6 137.1 H80 M205.3 264.3 V268.9 M77.2 133.4 H80 M209.0 264.3 V267.4 M77.2 130.3 H80 M212.1 264.3 V267.4 M77.2 127.6 H80 M214.8 264.3 V267.4 M77.2 125.2 H80 M217.2 264.3 V267.4 M77.2 109.2 H80 M233.4 264.3 V267.4 M77.2 101.1 H80 M241.6 264.3 V267.4 M77.2 95.3 H80 M247.4 264.3 V267.4 M75.6 90.8 H80 M251.9 264.3 V268.9 M77.2 87.1 H80 M255.6 264.3 V267.4 M77.2 84.1 H80 M258.8 264.3 V267.4 M77.2 81.4 H80 M261.5 264.3 V267.4 M77.2 79.0 H80 M263.9 264.3 V267.4 M77.2 63.1 H80 M280.2 264.3 V267.4 M77.2 55.1 H80 M288.6 264.3 V267.4 M77.2 49.4 H80 M294.5 264.3 V267.4 M75.6 45.0 H80 M299.1 264.3 V268.9 M77.2 41.3 H80 M302.8 264.3 V267.4 M77.2 38.3 H80 M306.0 264.3 V267.4 M77.2 35.6 H80 M308.7 264.3 V267.4 M77.2 33.3 H80 M311.1 264.3 V267.4" stroke="#111" stroke-width="1.2" fill="none"/><g font-size="8.8" fill="#2a2a2a" stroke="#2a2a2a" stroke-width="0.3"><text x="62.9" y="262.9" text-anchor="end">10</text><text x="63.6" y="255.6">0</text><text x="85.4" y="292.3">10</text><text x="95.3" y="284.6">0</text><text x="62.9" y="223.8" text-anchor="end">10</text><text x="63.6" y="216.7">1</text><text x="122.7" y="292.3">10</text><text x="132.6" y="284.6">1</text><text x="62.9" y="177.0" text-anchor="end">10</text><text x="63.6" y="169.9">2</text><text x="169.0" y="292.3">10</text><text x="178.9" y="284.6">2</text><text x="62.9" y="130.6" text-anchor="end">10</text><text x="63.6" y="123.5">3</text><text x="215.4" y="292.3">10</text><text x="225.3" y="284.6">3</text><text x="62.9" y="84.4" text-anchor="end">10</text><text x="63.6" y="77.3">4</text><text x="262.1" y="292.3">10</text><text x="272.0" y="284.6">4</text><text x="62.9" y="47.5" text-anchor="end">10</text><text x="63.6" y="39.8">5</text><text x="297.8" y="292.3">10</text><text x="307.7" y="284.6">5</text></g><g font-weight="700" font-size="12.2" fill="#FF0000" stroke="#FF0000" stroke-width="0.35"><text x="93.2" y="51.1">Q1</text><text x="93.2" y="67.7">0%</text><text x="300" y="51.1" text-anchor="end">Q2</text><text x="300" y="67.7" text-anchor="end">46.5%</text><text x="93.2" y="236">Q4</text><text x="93.2" y="252.7">9.77%</text><text x="300" y="236" text-anchor="end">Q3</text><text x="300" y="252.7" text-anchor="end">43.7%</text></g></g><text x="158.0" y="341.90000000000003" font-weight="700" font-size="21.5" fill="#000">12 hour</text>
<g transform="translate(321.2,324.8)"><g transform="translate(80,30.9)"><path fill="#4646ff" fill-opacity="0.8" d="M9.3 150.3h1.3v1.3h-1.3zM125.3 227.3h1.3v1.3h-1.3zM52.4 225.3h1.3v1.3h-1.3zM13.3 142.3h1.3v1.3h-1.3zM19.4 225.3h1.3v1.3h-1.3zM97.3 217.3h1.3v1.3h-1.3zM159.3 167.3h1.3v1.3h-1.3zM200.3 160.3h1.3v1.3h-1.3zM183.3 129.3h1.3v1.3h-1.3zM129.9 61.1h1.3v1.3h-1.3zM51.0 157.2h1.3v1.3h-1.3zM51.1 161.3h1.3v1.3h-1.3zM22.7 169.0h1.3v1.3h-1.3zM18.0 143.6h1.3v1.3h-1.3zM56.6 168.5h1.3v1.3h-1.3zM42.8 164.1h1.3v1.3h-1.3zM74.6 158.2h1.3v1.3h-1.3zM85.5 197.0h1.3v1.3h-1.3zM110.1 165.6h1.3v1.3h-1.3zM148.7 97.7h1.3v1.3h-1.3zM73.0 118.3h1.3v1.3h-1.3zM97.5 163.0h1.3v1.3h-1.3zM80.1 124.6h1.3v1.3h-1.3zM76.8 183.5h1.3v1.3h-1.3zM47.7 151.9h1.3v1.3h-1.3zM139.2 116.9h1.3v1.3h-1.3zM197.0 82.1h1.3v1.3h-1.3zM226.8 73.0h1.3v1.3h-1.3zM173.8 91.0h1.3v1.3h-1.3zM223.0 75.6h1.3v1.3h-1.3zM199.4 62.3h1.3v1.3h-1.3zM77.1 190.6h1.3v1.3h-1.3zM71.2 165.8h1.3v1.3h-1.3zM58.3 143.5h1.3v1.3h-1.3zM46.4 118.4h1.3v1.3h-1.3zM54.8 160.1h1.3v1.3h-1.3zM91.0 126.3h1.3v1.3h-1.3zM144.2 137.2h1.3v1.3h-1.3zM147.4 148.7h1.3v1.3h-1.3zM78.7 115.8h1.3v1.3h-1.3zM179.0 69.3h1.3v1.3h-1.3zM169.5 93.9h1.3v1.3h-1.3zM125.0 140.6h1.3v1.3h-1.3zM84.0 106.4h1.3v1.3h-1.3zM120.2 148.3h1.3v1.3h-1.3zM91.4 117.1h1.3v1.3h-1.3zM138.4 133.2h1.3v1.3h-1.3zM109.9 91.4h1.3v1.3h-1.3zM109.8 85.0h1.3v1.3h-1.3zM135.0 72.7h1.3v1.3h-1.3zM129.5 190.4h1.3v1.3h-1.3zM140.4 144.1h1.3v1.3h-1.3zM136.0 171.1h1.3v1.3h-1.3zM138.6 165.9h1.3v1.3h-1.3zM154.3 185.5h1.3v1.3h-1.3zM74.8 146.5h1.3v1.3h-1.3zM146.0 130.4h1.3v1.3h-1.3zM149.5 163.6h1.3v1.3h-1.3zM135.6 144.5h1.3v1.3h-1.3zM139.9 177.7h1.3v1.3h-1.3zM102.9 183.5h1.3v1.3h-1.3zM143.3 162.3h1.3v1.3h-1.3zM123.1 83.0h1.3v1.3h-1.3zM124.5 71.8h1.3v1.3h-1.3zM99.6 146.5h1.3v1.3h-1.3zM86.9 111.2h1.3v1.3h-1.3zM91.2 122.8h1.3v1.3h-1.3zM217.8 70.8h1.3v1.3h-1.3zM180.9 90.6h1.3v1.3h-1.3zM146.2 66.9h1.3v1.3h-1.3zM78.7 144.5h1.3v1.3h-1.3zM144.6 117.8h1.3v1.3h-1.3zM156.1 121.6h1.3v1.3h-1.3zM96.8 159.0h1.3v1.3h-1.3zM139.7 122.7h1.3v1.3h-1.3zM105.0 208.7h1.3v1.3h-1.3zM116.7 183.0h1.3v1.3h-1.3zM112.3 189.2h1.3v1.3h-1.3zM91.9 94.6h1.3v1.3h-1.3zM85.2 94.9h1.3v1.3h-1.3zM120.6 89.3h1.3v1.3h-1.3zM136.2 122.5h1.3v1.3h-1.3zM156.5 95.4h1.3v1.3h-1.3zM102.5 91.2h1.3v1.3h-1.3zM115.8 79.3h1.3v1.3h-1.3zM111.7 192.3h1.3v1.3h-1.3zM98.0 167.6h1.3v1.3h-1.3zM140.2 186.4h1.3v1.3h-1.3zM220.0 65.2h1.3v1.3h-1.3zM199.5 80.4h1.3v1.3h-1.3zM186.9 63.3h1.3v1.3h-1.3zM183.9 87.6h1.3v1.3h-1.3zM131.0 180.2h1.3v1.3h-1.3zM125.3 143.9h1.3v1.3h-1.3zM23.8 117.6h1.3v1.3h-1.3zM94.7 181.3h1.3v1.3h-1.3zM70.6 121.5h1.3v1.3h-1.3zM31.3 110.9h1.3v1.3h-1.3zM55.4 126.0h1.3v1.3h-1.3zM149.3 117.0h1.3v1.3h-1.3zM147.4 111.4h1.3v1.3h-1.3zM37.8 155.5h1.3v1.3h-1.3zM31.7 106.9h1.3v1.3h-1.3zM29.1 174.0h1.3v1.3h-1.3zM42.1 198.7h1.3v1.3h-1.3zM38.8 135.8h1.3v1.3h-1.3zM76.4 163.5h1.3v1.3h-1.3zM25.6 144.4h1.3v1.3h-1.3zM35.4 106.3h1.3v1.3h-1.3zM37.8 170.6h1.3v1.3h-1.3zM71.6 137.4h1.3v1.3h-1.3zM82.4 176.0h1.3v1.3h-1.3zM62.9 132.3h1.3v1.3h-1.3zM71.3 170.4h1.3v1.3h-1.3zM64.0 172.6h1.3v1.3h-1.3zM76.6 179.3h1.3v1.3h-1.3zM48.9 171.9h1.3v1.3h-1.3zM31.9 143.5h1.3v1.3h-1.3zM25.3 186.6h1.3v1.3h-1.3zM34.9 160.9h1.3v1.3h-1.3zM37.0 179.7h1.3v1.3h-1.3zM52.6 172.2h1.3v1.3h-1.3zM33.1 165.5h1.3v1.3h-1.3zM46.0 180.6h1.3v1.3h-1.3zM61.0 192.1h1.3v1.3h-1.3zM52.0 146.0h1.3v1.3h-1.3zM42.8 185.7h1.3v1.3h-1.3zM29.4 158.9h1.3v1.3h-1.3zM59.3 158.1h1.3v1.3h-1.3zM37.8 149.3h1.3v1.3h-1.3zM42.0 143.7h1.3v1.3h-1.3zM72.3 107.7h1.3v1.3h-1.3zM79.0 149.1h1.3v1.3h-1.3zM45.2 150.1h1.3v1.3h-1.3zM81.5 151.8h1.3v1.3h-1.3zM72.9 151.6h1.3v1.3h-1.3zM64.1 178.3h1.3v1.3h-1.3zM68.2 126.9h1.3v1.3h-1.3zM216.3 54.7h1.3v1.3h-1.3zM134.3 131.1h1.3v1.3h-1.3zM135.0 182.9h1.3v1.3h-1.3zM80.4 179.5h1.3v1.3h-1.3zM61.2 136.3h1.3v1.3h-1.3zM213.6 72.2h1.3v1.3h-1.3zM134.4 183.7h1.3v1.3h-1.3zM129.0 170.9h1.3v1.3h-1.3zM155.6 61.2h1.3v1.3h-1.3zM141.9 103.9h1.3v1.3h-1.3zM115.0 177.0h1.3v1.3h-1.3zM138.8 147.5h1.3v1.3h-1.3zM109.0 158.0h1.3v1.3h-1.3zM130.0 140.0h1.3v1.3h-1.3zM115.4 132.1h1.3v1.3h-1.3zM91.9 141.3h1.3v1.3h-1.3zM115.0 176.7h1.3v1.3h-1.3zM89.9 109.9h1.3v1.3h-1.3zM91.9 163.7h1.3v1.3h-1.3zM123.2 159.5h1.3v1.3h-1.3zM102.7 170.9h1.3v1.3h-1.3zM118.4 154.1h1.3v1.3h-1.3zM90.3 105.4h1.3v1.3h-1.3zM124.1 147.5h1.3v1.3h-1.3zM126.6 151.3h1.3v1.3h-1.3zM89.3 174.7h1.3v1.3h-1.3zM130.7 166.3h1.3v1.3h-1.3zM119.5 171.5h1.3v1.3h-1.3zM144.2 156.5h1.3v1.3h-1.3zM114.0 152.0h1.3v1.3h-1.3zM129.4 133.2h1.3v1.3h-1.3zM134.2 163.0h1.3v1.3h-1.3zM88.6 154.0h1.3v1.3h-1.3zM130.1 149.0h1.3v1.3h-1.3zM139.9 103.5h1.3v1.3h-1.3zM115.3 86.9h1.3v1.3h-1.3zM139.1 157.2h1.3v1.3h-1.3zM128.9 164.6h1.3v1.3h-1.3zM153.5 62.1h1.3v1.3h-1.3zM109.7 87.6h1.3v1.3h-1.3zM134.0 110.4h1.3v1.3h-1.3zM98.5 131.2h1.3v1.3h-1.3zM178.4 81.2h1.3v1.3h-1.3zM123.2 162.5h1.3v1.3h-1.3zM130.2 132.3h1.3v1.3h-1.3zM187.7 79.7h1.3v1.3h-1.3zM131.1 170.8h1.3v1.3h-1.3zM224.3 64.4h1.3v1.3h-1.3zM86.3 123.1h1.3v1.3h-1.3zM87.5 100.1h1.3v1.3h-1.3zM99.3 127.2h1.3v1.3h-1.3zM119.8 152.4h1.3v1.3h-1.3zM90.7 146.3h1.3v1.3h-1.3zM92.5 104.0h1.3v1.3h-1.3zM142.5 150.6h1.3v1.3h-1.3zM131.9 138.6h1.3v1.3h-1.3zM92.4 163.6h1.3v1.3h-1.3zM101.7 171.0h1.3v1.3h-1.3zM162.0 71.8h1.3v1.3h-1.3zM119.8 169.6h1.3v1.3h-1.3zM79.6 162.0h1.3v1.3h-1.3zM87.9 160.1h1.3v1.3h-1.3zM185.5 83.8h1.3v1.3h-1.3zM207.0 77.1h1.3v1.3h-1.3zM85.1 124.5h1.3v1.3h-1.3zM77.1 153.2h1.3v1.3h-1.3zM205.7 78.3h1.3v1.3h-1.3zM56.0 131.5h1.3v1.3h-1.3zM93.0 99.5h1.3v1.3h-1.3zM83.0 101.0h1.3v1.3h-1.3zM214.9 68.4h1.3v1.3h-1.3zM90.2 149.6h1.3v1.3h-1.3zM91.1 143.7h1.3v1.3h-1.3zM79.8 102.0h1.3v1.3h-1.3zM212.9 74.9h1.3v1.3h-1.3zM187.7 86.0h1.3v1.3h-1.3zM225.4 68.3h1.3v1.3h-1.3zM71.2 152.4h1.3v1.3h-1.3zM93.5 172.0h1.3v1.3h-1.3zM44.4 152.4h1.3v1.3h-1.3zM55.2 133.9h1.3v1.3h-1.3zM68.4 128.5h1.3v1.3h-1.3zM87.6 178.3h1.3v1.3h-1.3zM62.4 136.2h1.3v1.3h-1.3zM61.4 177.2h1.3v1.3h-1.3zM71.1 110.2h1.3v1.3h-1.3zM94.2 130.0h1.3v1.3h-1.3zM128.1 128.8h1.3v1.3h-1.3zM137.0 149.4h1.3v1.3h-1.3zM105.8 95.1h1.3v1.3h-1.3zM136.4 161.1h1.3v1.3h-1.3zM169.8 87.2h1.3v1.3h-1.3zM201.9 73.2h1.3v1.3h-1.3zM200.3 66.5h1.3v1.3h-1.3zM101.2 173.9h1.3v1.3h-1.3zM102.7 174.3h1.3v1.3h-1.3zM145.1 153.7h1.3v1.3h-1.3zM145.1 153.3h1.3v1.3h-1.3zM132.3 145.5h1.3v1.3h-1.3zM175.4 87.2h1.3v1.3h-1.3zM166.5 81.8h1.3v1.3h-1.3zM135.2 79.1h1.3v1.3h-1.3zM217.4 59.1h1.3v1.3h-1.3zM175.2 70.2h1.3v1.3h-1.3zM58.9 185.4h1.3v1.3h-1.3zM91.3 152.9h1.3v1.3h-1.3zM60.3 150.9h1.3v1.3h-1.3zM56.3 185.4h1.3v1.3h-1.3zM65.3 155.2h1.3v1.3h-1.3zM51.5 165.4h1.3v1.3h-1.3zM218.7 60.9h1.3v1.3h-1.3zM195.9 77.1h1.3v1.3h-1.3zM64.5 157.5h1.3v1.3h-1.3zM95.3 154.1h1.3v1.3h-1.3zM223.0 68.6h1.3v1.3h-1.3zM77.3 174.8h1.3v1.3h-1.3zM58.1 186.2h1.3v1.3h-1.3zM69.3 144.6h1.3v1.3h-1.3zM97.9 94.9h1.3v1.3h-1.3zM132.7 107.8h1.3v1.3h-1.3zM81.0 140.5h1.3v1.3h-1.3zM208.3 63.1h1.3v1.3h-1.3zM166.5 77.9h1.3v1.3h-1.3zM161.0 86.7h1.3v1.3h-1.3zM87.4 116.8h1.3v1.3h-1.3zM131.0 127.4h1.3v1.3h-1.3zM103.2 162.3h1.3v1.3h-1.3zM95.5 93.4h1.3v1.3h-1.3zM113.3 88.7h1.3v1.3h-1.3zM69.6 145.5h1.3v1.3h-1.3zM99.7 134.8h1.3v1.3h-1.3zM104.4 149.8h1.3v1.3h-1.3zM93.7 152.4h1.3v1.3h-1.3zM161.1 85.6h1.3v1.3h-1.3zM192.9 79.3h1.3v1.3h-1.3zM214.3 66.0h1.3v1.3h-1.3zM105.6 142.9h1.3v1.3h-1.3zM170.5 77.8h1.3v1.3h-1.3zM179.8 84.5h1.3v1.3h-1.3zM212.2 58.7h1.3v1.3h-1.3zM202.8 75.3h1.3v1.3h-1.3zM173.9 63.6h1.3v1.3h-1.3zM174.1 70.2h1.3v1.3h-1.3zM202.3 72.5h1.3v1.3h-1.3zM197.1 67.9h1.3v1.3h-1.3zM191.6 68.6h1.3v1.3h-1.3zM96.5 151.9h1.3v1.3h-1.3zM223.1 68.8h1.3v1.3h-1.3zM124.7 132.0h1.3v1.3h-1.3zM80.0 130.3h1.3v1.3h-1.3zM84.0 170.0h1.3v1.3h-1.3zM92.3 111.4h1.3v1.3h-1.3zM130.3 115.3h1.3v1.3h-1.3zM83.7 164.6h1.3v1.3h-1.3zM99.4 173.4h1.3v1.3h-1.3zM93.2 169.5h1.3v1.3h-1.3zM80.2 138.9h1.3v1.3h-1.3zM77.0 172.4h1.3v1.3h-1.3zM174.4 61.7h1.3v1.3h-1.3zM86.8 118.5h1.3v1.3h-1.3zM132.2 127.8h1.3v1.3h-1.3zM177.0 71.8h1.3v1.3h-1.3zM66.8 159.6h1.3v1.3h-1.3zM136.3 159.0h1.3v1.3h-1.3zM219.6 59.4h1.3v1.3h-1.3zM106.2 141.4h1.3v1.3h-1.3zM164.1 91.9h1.3v1.3h-1.3zM182.7 70.7h1.3v1.3h-1.3zM207.4 59.8h1.3v1.3h-1.3zM133.8 117.3h1.3v1.3h-1.3zM207.6 59.0h1.3v1.3h-1.3zM133.7 148.6h1.3v1.3h-1.3zM129.5 124.7h1.3v1.3h-1.3zM124.5 122.8h1.3v1.3h-1.3zM123.0 123.2h1.3v1.3h-1.3zM120.6 121.6h1.3v1.3h-1.3zM89.9 99.4h1.3v1.3h-1.3zM106.3 156.6h1.3v1.3h-1.3zM88.7 140.4h1.3v1.3h-1.3zM121.8 125.6h1.3v1.3h-1.3zM84.3 164.2h1.3v1.3h-1.3zM83.4 136.1h1.3v1.3h-1.3zM91.3 141.2h1.3v1.3h-1.3zM147.1 104.7h1.3v1.3h-1.3zM67.8 146.3h1.3v1.3h-1.3zM78.0 151.2h1.3v1.3h-1.3zM80.6 140.4h1.3v1.3h-1.3zM80.3 128.6h1.3v1.3h-1.3zM193.5 66.0h1.3v1.3h-1.3zM169.9 86.8h1.3v1.3h-1.3zM211.8 53.9h1.3v1.3h-1.3zM88.8 118.4h1.3v1.3h-1.3zM190.8 80.3h1.3v1.3h-1.3zM165.8 75.0h1.3v1.3h-1.3zM117.7 135.4h1.3v1.3h-1.3zM105.7 94.7h1.3v1.3h-1.3zM176.2 64.8h1.3v1.3h-1.3zM146.2 105.2h1.3v1.3h-1.3zM103.2 161.9h1.3v1.3h-1.3zM74.6 127.0h1.3v1.3h-1.3zM158.5 69.0h1.3v1.3h-1.3zM146.9 103.9h1.3v1.3h-1.3zM61.1 150.6h1.3v1.3h-1.3zM77.2 127.2h1.3v1.3h-1.3zM79.6 158.4h1.3v1.3h-1.3zM55.0 164.7h1.3v1.3h-1.3zM41.1 147.0h1.3v1.3h-1.3zM89.5 172.1h1.3v1.3h-1.3zM53.5 164.7h1.3v1.3h-1.3zM85.5 139.4h1.3v1.3h-1.3zM64.4 157.0h1.3v1.3h-1.3zM63.8 162.4h1.3v1.3h-1.3zM82.8 170.9h1.3v1.3h-1.3zM77.7 171.6h1.3v1.3h-1.3zM80.3 170.1h1.3v1.3h-1.3zM84.7 158.5h1.3v1.3h-1.3zM62.9 152.9h1.3v1.3h-1.3zM84.8 180.0h1.3v1.3h-1.3zM175.3 80.5h1.3v1.3h-1.3zM209.5 56.4h1.3v1.3h-1.3zM197.4 74.6h1.3v1.3h-1.3zM166.7 77.3h1.3v1.3h-1.3zM211.5 62.8h1.3v1.3h-1.3zM205.9 72.8h1.3v1.3h-1.3zM206.7 73.0h1.3v1.3h-1.3zM107.8 150.5h1.3v1.3h-1.3zM180.7 73.8h1.3v1.3h-1.3zM214.8 55.5h1.3v1.3h-1.3zM111.7 150.1h1.3v1.3h-1.3zM126.3 124.2h1.3v1.3h-1.3zM84.9 138.8h1.3v1.3h-1.3zM95.0 110.4h1.3v1.3h-1.3zM97.3 96.8h1.3v1.3h-1.3zM98.6 103.6h1.3v1.3h-1.3zM111.2 151.5h1.3v1.3h-1.3zM98.7 121.3h1.3v1.3h-1.3zM97.3 137.5h1.3v1.3h-1.3zM183.1 79.7h1.3v1.3h-1.3zM166.9 87.1h1.3v1.3h-1.3zM166.9 84.5h1.3v1.3h-1.3zM182.6 78.9h1.3v1.3h-1.3zM162.1 82.3h1.3v1.3h-1.3zM203.7 64.6h1.3v1.3h-1.3zM102.4 141.5h1.3v1.3h-1.3zM183.2 79.4h1.3v1.3h-1.3zM169.3 89.5h1.3v1.3h-1.3zM177.6 86.1h1.3v1.3h-1.3zM157.1 93.0h1.3v1.3h-1.3zM170.9 80.7h1.3v1.3h-1.3zM133.2 77.0h1.3v1.3h-1.3zM213.3 63.1h1.3v1.3h-1.3zM176.6 84.7h1.3v1.3h-1.3zM126.3 84.4h1.3v1.3h-1.3zM179.8 75.5h1.3v1.3h-1.3zM110.9 152.7h1.3v1.3h-1.3zM103.9 151.6h1.3v1.3h-1.3zM107.8 143.5h1.3v1.3h-1.3zM95.4 133.6h1.3v1.3h-1.3zM115.7 145.7h1.3v1.3h-1.3zM112.9 146.0h1.3v1.3h-1.3zM77.7 131.1h1.3v1.3h-1.3zM83.7 180.2h1.3v1.3h-1.3zM86.3 162.3h1.3v1.3h-1.3zM106.4 153.9h1.3v1.3h-1.3zM173.8 80.5h1.3v1.3h-1.3zM162.1 82.5h1.3v1.3h-1.3zM165.4 75.4h1.3v1.3h-1.3zM164.0 90.2h1.3v1.3h-1.3zM205.0 63.7h1.3v1.3h-1.3zM168.7 82.4h1.3v1.3h-1.3zM214.8 64.6h1.3v1.3h-1.3zM210.9 67.1h1.3v1.3h-1.3zM112.6 147.2h1.3v1.3h-1.3zM131.6 115.7h1.3v1.3h-1.3zM133.8 104.1h1.3v1.3h-1.3zM135.3 104.2h1.3v1.3h-1.3zM60.6 163.3h1.3v1.3h-1.3zM77.0 127.6h1.3v1.3h-1.3zM81.6 161.3h1.3v1.3h-1.3zM66.1 168.0h1.3v1.3h-1.3zM59.0 162.0h1.3v1.3h-1.3zM85.2 156.1h1.3v1.3h-1.3zM82.4 154.3h1.3v1.3h-1.3zM82.0 169.4h1.3v1.3h-1.3zM200.5 67.8h1.3v1.3h-1.3zM82.6 179.9h1.3v1.3h-1.3zM86.2 136.8h1.3v1.3h-1.3zM86.5 178.9h1.3v1.3h-1.3zM60.7 163.2h1.3v1.3h-1.3zM201.6 68.8h1.3v1.3h-1.3zM122.4 130.3h1.3v1.3h-1.3zM96.8 100.4h1.3v1.3h-1.3zM118.8 127.2h1.3v1.3h-1.3zM100.5 142.3h1.3v1.3h-1.3zM108.6 120.1h1.3v1.3h-1.3zM128.1 116.7h1.3v1.3h-1.3zM187.5 69.4h1.3v1.3h-1.3zM113.4 92.7h1.3v1.3h-1.3zM89.7 131.4h1.3v1.3h-1.3zM105.6 124.5h1.3v1.3h-1.3zM103.5 135.5h1.3v1.3h-1.3zM116.8 136.8h1.3v1.3h-1.3zM115.1 122.5h1.3v1.3h-1.3zM95.9 98.3h1.3v1.3h-1.3zM124.3 128.3h1.3v1.3h-1.3zM58.4 160.5h1.3v1.3h-1.3zM138.3 100.4h1.3v1.3h-1.3zM66.7 165.6h1.3v1.3h-1.3zM174.8 81.7h1.3v1.3h-1.3zM110.3 141.9h1.3v1.3h-1.3zM224.0 66.2h1.3v1.3h-1.3zM129.3 77.6h1.3v1.3h-1.3zM116.2 134.3h1.3v1.3h-1.3zM123.8 118.5h1.3v1.3h-1.3zM187.5 75.8h1.3v1.3h-1.3zM150.7 70.2h1.3v1.3h-1.3zM96.7 133.2h1.3v1.3h-1.3zM112.8 123.2h1.3v1.3h-1.3zM104.2 136.3h1.3v1.3h-1.3zM96.9 100.8h1.3v1.3h-1.3zM185.2 74.5h1.3v1.3h-1.3zM96.6 100.5h1.3v1.3h-1.3zM103.4 132.8h1.3v1.3h-1.3zM136.8 75.8h1.3v1.3h-1.3zM87.4 133.1h1.3v1.3h-1.3zM90.6 132.9h1.3v1.3h-1.3zM192.3 70.5h1.3v1.3h-1.3zM188.8 76.2h1.3v1.3h-1.3zM105.2 130.1h1.3v1.3h-1.3zM109.5 140.7h1.3v1.3h-1.3zM98.0 135.0h1.3v1.3h-1.3zM125.5 117.9h1.3v1.3h-1.3zM102.5 95.4h1.3v1.3h-1.3zM63.9 167.2h1.3v1.3h-1.3zM207.6 70.0h1.3v1.3h-1.3zM125.3 130.0h1.3v1.3h-1.3zM111.1 140.9h1.3v1.3h-1.3zM107.5 122.0h1.3v1.3h-1.3zM114.7 136.5h1.3v1.3h-1.3zM90.9 135.1h1.3v1.3h-1.3zM67.1 166.6h1.3v1.3h-1.3zM81.9 155.6h1.3v1.3h-1.3zM66.8 163.8h1.3v1.3h-1.3zM179.7 82.9h1.3v1.3h-1.3zM118.8 142.2h1.3v1.3h-1.3zM118.9 142.0h1.3v1.3h-1.3zM150.6 70.5h1.3v1.3h-1.3zM106.1 151.5h1.3v1.3h-1.3zM198.4 70.9h1.3v1.3h-1.3zM107.2 168.7h1.3v1.3h-1.3zM150.1 69.6h1.3v1.3h-1.3zM104.0 130.5h1.3v1.3h-1.3zM105.8 167.4h1.3v1.3h-1.3zM131.4 118.2h1.3v1.3h-1.3zM151.5 92.2h1.3v1.3h-1.3zM118.3 126.5h1.3v1.3h-1.3zM115.0 139.5h1.3v1.3h-1.3zM123.3 128.5h1.3v1.3h-1.3zM115.8 120.4h1.3v1.3h-1.3zM100.0 123.4h1.3v1.3h-1.3zM102.8 125.4h1.3v1.3h-1.3zM117.0 140.1h1.3v1.3h-1.3zM129.6 81.9h1.3v1.3h-1.3zM131.0 78.0h1.3v1.3h-1.3zM96.8 113.9h1.3v1.3h-1.3zM103.7 134.6h1.3v1.3h-1.3zM116.3 120.2h1.3v1.3h-1.3zM105.0 129.2h1.3v1.3h-1.3zM113.7 146.3h1.3v1.3h-1.3zM165.7 90.1h1.3v1.3h-1.3zM156.6 71.1h1.3v1.3h-1.3zM109.6 127.1h1.3v1.3h-1.3zM103.7 137.6h1.3v1.3h-1.3zM103.8 126.0h1.3v1.3h-1.3zM103.9 126.3h1.3v1.3h-1.3zM184.4 71.6h1.3v1.3h-1.3zM97.5 139.3h1.3v1.3h-1.3zM193.4 73.0h1.3v1.3h-1.3zM181.6 72.5h1.3v1.3h-1.3zM194.3 75.1h1.3v1.3h-1.3zM172.4 79.5h1.3v1.3h-1.3zM156.5 89.7h1.3v1.3h-1.3zM131.1 82.8h1.3v1.3h-1.3zM108.7 97.1h1.3v1.3h-1.3zM129.9 120.5h1.3v1.3h-1.3zM182.4 73.5h1.3v1.3h-1.3zM126.1 116.3h1.3v1.3h-1.3zM99.0 141.2h1.3v1.3h-1.3zM96.1 113.8h1.3v1.3h-1.3zM116.2 112.1h1.3v1.3h-1.3zM155.8 69.9h1.3v1.3h-1.3zM117.4 119.4h1.3v1.3h-1.3zM102.5 104.7h1.3v1.3h-1.3zM130.0 77.5h1.3v1.3h-1.3zM101.7 164.8h1.3v1.3h-1.3zM146.0 71.4h1.3v1.3h-1.3zM166.4 88.7h1.3v1.3h-1.3zM187.0 72.0h1.3v1.3h-1.3zM197.3 71.5h1.3v1.3h-1.3zM195.6 73.1h1.3v1.3h-1.3zM156.4 91.3h1.3v1.3h-1.3zM98.3 102.3h1.3v1.3h-1.3zM127.9 120.6h1.3v1.3h-1.3zM130.7 121.2h1.3v1.3h-1.3zM153.7 92.5h1.3v1.3h-1.3zM153.9 69.7h1.3v1.3h-1.3zM104.2 166.1h1.3v1.3h-1.3zM104.4 166.9h1.3v1.3h-1.3zM152.5 69.7h1.3v1.3h-1.3zM113.4 138.8h1.3v1.3h-1.3zM87.9 133.7h1.3v1.3h-1.3zM104.2 165.7h1.3v1.3h-1.3zM190.0 76.0h1.3v1.3h-1.3zM167.8 88.0h1.3v1.3h-1.3zM102.7 141.3h1.3v1.3h-1.3zM107.4 128.7h1.3v1.3h-1.3zM116.9 125.6h1.3v1.3h-1.3zM116.1 129.2h1.3v1.3h-1.3zM128.4 123.0h1.3v1.3h-1.3zM209.6 65.2h1.3v1.3h-1.3zM97.3 107.6h1.3v1.3h-1.3zM129.0 123.0h1.3v1.3h-1.3zM116.6 143.1h1.3v1.3h-1.3zM110.5 125.1h1.3v1.3h-1.3zM189.1 71.8h1.3v1.3h-1.3zM112.7 120.6h1.3v1.3h-1.3zM109.4 97.1h1.3v1.3h-1.3zM104.0 120.2h1.3v1.3h-1.3zM115.0 125.8h1.3v1.3h-1.3zM107.9 129.6h1.3v1.3h-1.3zM143.6 97.1h1.3v1.3h-1.3zM97.8 114.6h1.3v1.3h-1.3zM203.9 69.0h1.3v1.3h-1.3zM106.6 103.4h1.3v1.3h-1.3zM112.8 125.7h1.3v1.3h-1.3zM113.0 129.5h1.3v1.3h-1.3zM131.0 80.9h1.3v1.3h-1.3zM130.7 81.3h1.3v1.3h-1.3zM97.9 113.6h1.3v1.3h-1.3zM137.6 75.1h1.3v1.3h-1.3zM128.0 108.5h1.3v1.3h-1.3zM99.9 119.8h1.3v1.3h-1.3zM99.7 119.6h1.3v1.3h-1.3zM204.1 68.0h1.3v1.3h-1.3zM100.1 117.4h1.3v1.3h-1.3zM115.8 126.4h1.3v1.3h-1.3zM105.4 135.9h1.3v1.3h-1.3zM121.4 116.7h1.3v1.3h-1.3zM123.1 116.0h1.3v1.3h-1.3zM102.7 103.3h1.3v1.3h-1.3zM111.9 140.5h1.3v1.3h-1.3zM111.8 129.9h1.3v1.3h-1.3zM207.0 71.0h1.3v1.3h-1.3zM105.3 119.8h1.3v1.3h-1.3zM112.0 126.6h1.3v1.3h-1.3zM209.3 65.7h1.3v1.3h-1.3zM130.4 105.8h1.3v1.3h-1.3zM192.0 73.4h1.3v1.3h-1.3zM110.9 123.4h1.3v1.3h-1.3zM106.8 131.4h1.3v1.3h-1.3zM98.9 115.1h1.3v1.3h-1.3zM114.4 144.9h1.3v1.3h-1.3zM141.7 74.3h1.3v1.3h-1.3zM129.3 85.3h1.3v1.3h-1.3zM139.6 99.3h1.3v1.3h-1.3zM125.8 114.9h1.3v1.3h-1.3zM98.8 109.8h1.3v1.3h-1.3zM99.6 138.3h1.3v1.3h-1.3zM102.1 140.6h1.3v1.3h-1.3zM100.6 138.9h1.3v1.3h-1.3zM102.0 101.5h1.3v1.3h-1.3zM95.9 107.9h1.3v1.3h-1.3zM116.4 144.0h1.3v1.3h-1.3zM128.8 107.4h1.3v1.3h-1.3zM208.8 65.7h1.3v1.3h-1.3zM161.9 79.9h1.3v1.3h-1.3zM98.8 108.6h1.3v1.3h-1.3zM111.2 130.8h1.3v1.3h-1.3zM120.9 111.8h1.3v1.3h-1.3zM191.0 72.9h1.3v1.3h-1.3zM190.0 71.9h1.3v1.3h-1.3zM113.7 94.7h1.3v1.3h-1.3zM110.6 130.7h1.3v1.3h-1.3zM97.5 109.3h1.3v1.3h-1.3zM109.7 130.5h1.3v1.3h-1.3zM113.9 93.9h1.3v1.3h-1.3zM110.4 129.9h1.3v1.3h-1.3zM105.3 121.5h1.3v1.3h-1.3zM127.0 111.9h1.3v1.3h-1.3zM112.0 133.9h1.3v1.3h-1.3zM158.7 85.5h1.3v1.3h-1.3zM101.4 97.6h1.3v1.3h-1.3zM99.5 104.1h1.3v1.3h-1.3zM104.4 118.0h1.3v1.3h-1.3zM112.0 119.0h1.3v1.3h-1.3zM98.7 105.6h1.3v1.3h-1.3zM163.1 74.5h1.3v1.3h-1.3zM155.4 89.0h1.3v1.3h-1.3zM99.3 136.4h1.3v1.3h-1.3zM133.1 104.1h1.3v1.3h-1.3zM99.2 116.2h1.3v1.3h-1.3zM120.4 111.4h1.3v1.3h-1.3zM102.9 125.1h1.3v1.3h-1.3zM111.0 139.0h1.3v1.3h-1.3zM124.2 113.4h1.3v1.3h-1.3zM138.6 75.7h1.3v1.3h-1.3zM206.0 66.8h1.3v1.3h-1.3zM102.9 101.2h1.3v1.3h-1.3zM110.5 106.1h1.3v1.3h-1.3zM160.8 83.2h1.3v1.3h-1.3zM190.0 74.5h1.3v1.3h-1.3zM150.6 92.3h1.3v1.3h-1.3zM152.8 90.6h1.3v1.3h-1.3zM110.5 105.7h1.3v1.3h-1.3zM115.3 128.4h1.3v1.3h-1.3zM111.2 134.7h1.3v1.3h-1.3zM156.8 72.0h1.3v1.3h-1.3zM138.0 75.7h1.3v1.3h-1.3zM116.9 110.0h1.3v1.3h-1.3zM109.9 105.6h1.3v1.3h-1.3zM113.7 97.0h1.3v1.3h-1.3zM101.0 116.3h1.3v1.3h-1.3zM140.0 73.4h1.3v1.3h-1.3zM102.0 114.4h1.3v1.3h-1.3zM205.4 68.7h1.3v1.3h-1.3zM141.2 75.2h1.3v1.3h-1.3zM188.7 74.2h1.3v1.3h-1.3zM205.4 65.6h1.3v1.3h-1.3zM111.8 116.5h1.3v1.3h-1.3zM111.3 134.0h1.3v1.3h-1.3zM110.7 135.0h1.3v1.3h-1.3zM113.2 116.2h1.3v1.3h-1.3zM118.6 92.1h1.3v1.3h-1.3zM101.7 115.3h1.3v1.3h-1.3zM114.7 95.9h1.3v1.3h-1.3zM101.8 114.1h1.3v1.3h-1.3zM107.8 133.8h1.3v1.3h-1.3zM116.9 116.8h1.3v1.3h-1.3zM154.0 87.8h1.3v1.3h-1.3zM157.2 85.9h1.3v1.3h-1.3zM123.9 113.2h1.3v1.3h-1.3zM116.5 91.5h1.3v1.3h-1.3zM111.5 113.4h1.3v1.3h-1.3zM129.9 103.6h1.3v1.3h-1.3zM101.8 122.9h1.3v1.3h-1.3zM116.9 114.6h1.3v1.3h-1.3zM110.6 136.0h1.3v1.3h-1.3zM156.4 86.5h1.3v1.3h-1.3zM102.9 120.4h1.3v1.3h-1.3zM116.9 119.2h1.3v1.3h-1.3zM119.0 118.0h1.3v1.3h-1.3zM102.0 106.2h1.3v1.3h-1.3zM103.2 121.4h1.3v1.3h-1.3zM146.2 94.2h1.3v1.3h-1.3zM114.5 114.8h1.3v1.3h-1.3zM102.4 110.1h1.3v1.3h-1.3zM116.1 93.3h1.3v1.3h-1.3zM123.4 111.7h1.3v1.3h-1.3zM108.2 136.5h1.3v1.3h-1.3zM110.7 136.8h1.3v1.3h-1.3zM101.0 110.9h1.3v1.3h-1.3zM111.3 135.5h1.3v1.3h-1.3zM161.6 77.1h1.3v1.3h-1.3zM162.3 77.4h1.3v1.3h-1.3zM121.4 111.8h1.3v1.3h-1.3zM112.4 112.0h1.3v1.3h-1.3zM102.6 107.8h1.3v1.3h-1.3zM162.7 78.8h1.3v1.3h-1.3zM161.8 75.4h1.3v1.3h-1.3zM111.7 112.0h1.3v1.3h-1.3zM144.0 74.3h1.3v1.3h-1.3zM102.3 108.1h1.3v1.3h-1.3zM106.4 106.6h1.3v1.3h-1.3zM106.4 105.4h1.3v1.3h-1.3zM126.3 105.7h1.3v1.3h-1.3zM136.2 100.8h1.3v1.3h-1.3zM103.0 107.4h1.3v1.3h-1.3zM131.4 101.9h1.3v1.3h-1.3zM114.0 108.7h1.3v1.3h-1.3zM113.7 108.3h1.3v1.3h-1.3zM114.3 111.9h1.3v1.3h-1.3zM126.3 108.7h1.3v1.3h-1.3zM103.3 108.9h1.3v1.3h-1.3zM161.8 79.1h1.3v1.3h-1.3zM112.4 110.1h1.3v1.3h-1.3zM119.3 115.9h1.3v1.3h-1.3zM100.6 107.8h1.3v1.3h-1.3zM108.5 97.6h1.3v1.3h-1.3zM154.4 71.9h1.3v1.3h-1.3zM104.7 116.0h1.3v1.3h-1.3zM134.0 81.6h1.3v1.3h-1.3zM106.7 102.9h1.3v1.3h-1.3zM127.2 109.4h1.3v1.3h-1.3zM149.3 72.0h1.3v1.3h-1.3zM118.2 116.4h1.3v1.3h-1.3zM111.4 111.3h1.3v1.3h-1.3zM104.4 97.5h1.3v1.3h-1.3zM119.2 115.4h1.3v1.3h-1.3zM108.4 112.7h1.3v1.3h-1.3zM138.1 98.4h1.3v1.3h-1.3zM104.8 116.0h1.3v1.3h-1.3zM135.0 83.3h1.3v1.3h-1.3zM118.7 115.9h1.3v1.3h-1.3zM105.3 97.6h1.3v1.3h-1.3zM104.5 98.8h1.3v1.3h-1.3zM127.2 110.6h1.3v1.3h-1.3zM112.8 110.7h1.3v1.3h-1.3zM106.2 112.6h1.3v1.3h-1.3zM109.8 109.0h1.3v1.3h-1.3zM109.9 109.8h1.3v1.3h-1.3zM145.4 75.0h1.3v1.3h-1.3zM107.6 105.7h1.3v1.3h-1.3zM127.6 85.6h1.3v1.3h-1.3zM113.2 98.3h1.3v1.3h-1.3zM146.5 75.0h1.3v1.3h-1.3zM121.2 113.9h1.3v1.3h-1.3zM122.3 110.3h1.3v1.3h-1.3zM103.4 114.6h1.3v1.3h-1.3zM127.8 86.9h1.3v1.3h-1.3zM146.6 75.1h1.3v1.3h-1.3zM152.2 87.8h1.3v1.3h-1.3zM138.1 79.4h1.3v1.3h-1.3zM114.8 106.8h1.3v1.3h-1.3zM156.1 73.8h1.3v1.3h-1.3zM110.6 111.7h1.3v1.3h-1.3zM158.8 82.2h1.3v1.3h-1.3zM110.4 119.2h1.3v1.3h-1.3zM159.1 82.3h1.3v1.3h-1.3zM158.6 81.7h1.3v1.3h-1.3zM108.5 102.2h1.3v1.3h-1.3zM115.2 105.9h1.3v1.3h-1.3zM118.9 113.7h1.3v1.3h-1.3zM110.9 118.5h1.3v1.3h-1.3zM105.0 111.9h1.3v1.3h-1.3zM120.1 114.7h1.3v1.3h-1.3zM120.5 113.9h1.3v1.3h-1.3zM113.1 99.1h1.3v1.3h-1.3zM110.9 112.1h1.3v1.3h-1.3zM104.7 114.6h1.3v1.3h-1.3zM112.2 106.3h1.3v1.3h-1.3zM157.2 74.9h1.3v1.3h-1.3zM106.3 110.8h1.3v1.3h-1.3zM116.4 109.0h1.3v1.3h-1.3zM106.6 111.1h1.3v1.3h-1.3zM113.5 105.8h1.3v1.3h-1.3zM110.0 119.1h1.3v1.3h-1.3zM113.1 97.7h1.3v1.3h-1.3zM111.3 97.7h1.3v1.3h-1.3zM118.3 108.3h1.3v1.3h-1.3zM105.7 107.8h1.3v1.3h-1.3zM104.1 110.7h1.3v1.3h-1.3zM117.6 108.9h1.3v1.3h-1.3zM103.8 100.5h1.3v1.3h-1.3zM109.7 115.9h1.3v1.3h-1.3zM118.3 109.0h1.3v1.3h-1.3zM108.8 116.1h1.3v1.3h-1.3zM109.3 101.0h1.3v1.3h-1.3zM106.7 109.2h1.3v1.3h-1.3zM109.9 101.9h1.3v1.3h-1.3zM104.4 99.6h1.3v1.3h-1.3zM109.8 102.1h1.3v1.3h-1.3zM108.4 100.7h1.3v1.3h-1.3zM108.6 116.4h1.3v1.3h-1.3zM148.2 93.3h1.3v1.3h-1.3zM105.7 108.1h1.3v1.3h-1.3zM124.2 109.2h1.3v1.3h-1.3zM123.7 110.3h1.3v1.3h-1.3zM108.5 100.2h1.3v1.3h-1.3zM148.9 92.5h1.3v1.3h-1.3zM109.0 117.0h1.3v1.3h-1.3zM124.9 108.5h1.3v1.3h-1.3zM104.0 107.2h1.3v1.3h-1.3zM108.5 109.5h1.3v1.3h-1.3zM123.8 108.8h1.3v1.3h-1.3zM140.9 77.1h1.3v1.3h-1.3zM108.2 115.6h1.3v1.3h-1.3zM105.9 117.1h1.3v1.3h-1.3zM106.1 116.3h1.3v1.3h-1.3zM107.2 100.0h1.3v1.3h-1.3zM129.1 104.6h1.3v1.3h-1.3zM106.2 100.1h1.3v1.3h-1.3zM152.6 74.6h1.3v1.3h-1.3zM107.0 101.1h1.3v1.3h-1.3zM153.2 73.9h1.3v1.3h-1.3zM144.8 93.8h1.3v1.3h-1.3zM106.2 100.3h1.3v1.3h-1.3zM108.7 113.4h1.3v1.3h-1.3zM109.0 114.2h1.3v1.3h-1.3zM104.0 108.5h1.3v1.3h-1.3zM109.3 109.3h1.3v1.3h-1.3zM153.4 75.2h1.3v1.3h-1.3zM109.2 108.6h1.3v1.3h-1.3zM122.0 108.2h1.3v1.3h-1.3zM154.4 75.3h1.3v1.3h-1.3zM123.0 108.3h1.3v1.3h-1.3zM141.8 77.2h1.3v1.3h-1.3zM123.9 106.3h1.3v1.3h-1.3zM142.3 76.6h1.3v1.3h-1.3zM151.2 74.2h1.3v1.3h-1.3zM116.6 96.3h1.3v1.3h-1.3zM106.0 114.6h1.3v1.3h-1.3zM149.9 73.7h1.3v1.3h-1.3zM141.1 77.4h1.3v1.3h-1.3zM106.0 115.3h1.3v1.3h-1.3zM121.7 92.0h1.3v1.3h-1.3zM124.9 91.0h1.3v1.3h-1.3zM130.1 102.1h1.3v1.3h-1.3zM150.3 74.7h1.3v1.3h-1.3zM125.2 91.3h1.3v1.3h-1.3zM153.4 86.5h1.3v1.3h-1.3zM129.4 86.3h1.3v1.3h-1.3zM140.3 79.2h1.3v1.3h-1.3zM150.8 75.1h1.3v1.3h-1.3zM120.9 107.7h1.3v1.3h-1.3zM124.3 91.2h1.3v1.3h-1.3zM123.4 89.7h1.3v1.3h-1.3zM129.4 102.6h1.3v1.3h-1.3zM123.1 92.2h1.3v1.3h-1.3zM111.2 100.0h1.3v1.3h-1.3zM136.5 82.8h1.3v1.3h-1.3zM131.5 84.4h1.3v1.3h-1.3zM114.3 105.3h1.3v1.3h-1.3zM114.4 103.7h1.3v1.3h-1.3zM113.3 102.5h1.3v1.3h-1.3zM111.6 103.1h1.3v1.3h-1.3zM112.7 102.5h1.3v1.3h-1.3zM157.7 80.3h1.3v1.3h-1.3zM111.4 99.8h1.3v1.3h-1.3zM115.2 101.0h1.3v1.3h-1.3zM161.2 76.1h1.3v1.3h-1.3zM156.1 83.6h1.3v1.3h-1.3zM159.9 77.1h1.3v1.3h-1.3zM156.7 83.8h1.3v1.3h-1.3zM158.5 79.9h1.3v1.3h-1.3zM160.5 76.3h1.3v1.3h-1.3zM111.5 104.1h1.3v1.3h-1.3zM159.5 76.3h1.3v1.3h-1.3zM118.9 94.7h1.3v1.3h-1.3zM112.9 99.9h1.3v1.3h-1.3zM118.7 94.1h1.3v1.3h-1.3zM145.6 92.7h1.3v1.3h-1.3zM112.4 99.4h1.3v1.3h-1.3zM114.1 100.9h1.3v1.3h-1.3zM119.3 94.4h1.3v1.3h-1.3zM145.5 92.3h1.3v1.3h-1.3zM118.8 94.7h1.3v1.3h-1.3zM140.8 95.8h1.3v1.3h-1.3zM156.4 76.4h1.3v1.3h-1.3zM140.3 96.5h1.3v1.3h-1.3zM157.0 75.8h1.3v1.3h-1.3zM115.5 104.8h1.3v1.3h-1.3zM156.3 75.5h1.3v1.3h-1.3zM116.0 103.8h1.3v1.3h-1.3zM116.6 104.7h1.3v1.3h-1.3zM140.3 96.6h1.3v1.3h-1.3zM113.8 103.2h1.3v1.3h-1.3zM157.8 77.2h1.3v1.3h-1.3zM143.1 78.7h1.3v1.3h-1.3zM149.5 91.0h1.3v1.3h-1.3zM157.8 76.4h1.3v1.3h-1.3zM127.2 88.8h1.3v1.3h-1.3zM125.4 88.6h1.3v1.3h-1.3zM114.2 102.2h1.3v1.3h-1.3zM142.1 79.3h1.3v1.3h-1.3zM142.7 78.0h1.3v1.3h-1.3zM115.2 101.4h1.3v1.3h-1.3zM113.4 102.1h1.3v1.3h-1.3zM157.4 76.6h1.3v1.3h-1.3zM127.0 88.0h1.3v1.3h-1.3zM160.1 78.5h1.3v1.3h-1.3zM159.3 76.1h1.3v1.3h-1.3zM117.4 106.3h1.3v1.3h-1.3zM118.1 105.6h1.3v1.3h-1.3zM116.9 100.6h1.3v1.3h-1.3zM117.0 99.4h1.3v1.3h-1.3zM118.6 106.0h1.3v1.3h-1.3zM115.5 98.1h1.3v1.3h-1.3zM157.4 79.1h1.3v1.3h-1.3zM158.2 79.0h1.3v1.3h-1.3zM132.5 86.6h1.3v1.3h-1.3zM158.8 77.8h1.3v1.3h-1.3zM158.3 77.4h1.3v1.3h-1.3zM131.4 85.5h1.3v1.3h-1.3zM132.2 87.3h1.3v1.3h-1.3zM117.9 97.0h1.3v1.3h-1.3zM122.2 106.8h1.3v1.3h-1.3zM122.4 105.6h1.3v1.3h-1.3zM118.3 95.5h1.3v1.3h-1.3zM151.5 77.2h1.3v1.3h-1.3zM152.4 76.0h1.3v1.3h-1.3zM146.8 76.7h1.3v1.3h-1.3zM136.0 97.9h1.3v1.3h-1.3zM146.3 77.3h1.3v1.3h-1.3zM155.1 85.3h1.3v1.3h-1.3zM146.9 77.3h1.3v1.3h-1.3zM152.3 76.4h1.3v1.3h-1.3zM152.8 85.4h1.3v1.3h-1.3zM154.2 85.2h1.3v1.3h-1.3zM118.7 95.9h1.3v1.3h-1.3zM117.7 97.0h1.3v1.3h-1.3zM152.4 76.0h1.3v1.3h-1.3zM123.9 104.6h1.3v1.3h-1.3zM153.3 75.4h1.3v1.3h-1.3zM124.9 104.9h1.3v1.3h-1.3zM156.4 82.2h1.3v1.3h-1.3zM115.7 102.7h1.3v1.3h-1.3zM118.4 103.5h1.3v1.3h-1.3zM156.2 82.4h1.3v1.3h-1.3zM156.7 81.6h1.3v1.3h-1.3zM132.8 99.7h1.3v1.3h-1.3zM132.2 99.5h1.3v1.3h-1.3zM117.5 104.4h1.3v1.3h-1.3z"/><path fill="#0015ff" fill-opacity="0.8" d="M120.5 105.4h1.3v1.3h-1.3zM141.9 93.8h1.3v1.3h-1.3zM156.0 79.1h1.3v1.3h-1.3zM155.4 78.6h1.3v1.3h-1.3zM121.0 105.5h1.3v1.3h-1.3zM155.6 77.5h1.3v1.3h-1.3zM120.5 93.8h1.3v1.3h-1.3zM119.4 95.3h1.3v1.3h-1.3zM143.7 91.5h1.3v1.3h-1.3zM141.6 95.1h1.3v1.3h-1.3zM119.8 106.4h1.3v1.3h-1.3zM121.3 105.4h1.3v1.3h-1.3zM141.6 95.1h1.3v1.3h-1.3zM120.0 106.6h1.3v1.3h-1.3zM144.6 91.4h1.3v1.3h-1.3zM143.5 91.5h1.3v1.3h-1.3zM141.9 94.4h1.3v1.3h-1.3z"/><path fill="#001dff" fill-opacity="0.8" d="M127.8 88.3h1.3v1.3h-1.3zM124.4 91.6h1.3v1.3h-1.3zM129.2 89.0h1.3v1.3h-1.3zM128.9 88.2h1.3v1.3h-1.3zM139.2 81.4h1.3v1.3h-1.3zM137.5 81.8h1.3v1.3h-1.3z"/><path fill="#0025ff" fill-opacity="0.8" d="M147.8 76.1h1.3v1.3h-1.3zM148.5 76.0h1.3v1.3h-1.3zM148.4 76.2h1.3v1.3h-1.3zM139.7 80.5h1.3v1.3h-1.3zM148.5 76.7h1.3v1.3h-1.3zM140.5 80.4h1.3v1.3h-1.3zM133.8 84.4h1.3v1.3h-1.3zM134.0 83.5h1.3v1.3h-1.3zM134.7 85.3h1.3v1.3h-1.3z"/><path fill="#002eff" fill-opacity="0.8" d="M144.2 77.9h1.3v1.3h-1.3zM125.4 90.5h1.3v1.3h-1.3zM143.7 78.8h1.3v1.3h-1.3zM144.0 78.6h1.3v1.3h-1.3zM147.8 90.0h1.3v1.3h-1.3zM148.2 90.2h1.3v1.3h-1.3zM144.8 79.0h1.3v1.3h-1.3zM151.2 77.0h1.3v1.3h-1.3zM148.8 89.7h1.3v1.3h-1.3zM127.3 89.6h1.3v1.3h-1.3zM138.0 96.3h1.3v1.3h-1.3z"/><path fill="#0036ff" fill-opacity="0.8" d="M154.7 79.1h1.3v1.3h-1.3zM119.7 103.9h1.3v1.3h-1.3zM157.3 80.1h1.3v1.3h-1.3zM120.0 105.0h1.3v1.3h-1.3zM156.1 80.0h1.3v1.3h-1.3zM120.3 105.0h1.3v1.3h-1.3zM119.8 104.8h1.3v1.3h-1.3zM154.9 79.0h1.3v1.3h-1.3z"/><path fill="#003eff" fill-opacity="0.8" d="M123.2 94.0h1.3v1.3h-1.3zM122.1 105.3h1.3v1.3h-1.3zM121.5 95.0h1.3v1.3h-1.3zM123.2 93.8h1.3v1.3h-1.3zM122.5 105.2h1.3v1.3h-1.3zM123.0 104.6h1.3v1.3h-1.3zM122.8 103.8h1.3v1.3h-1.3zM122.7 94.6h1.3v1.3h-1.3z"/><path fill="#0047ff" fill-opacity="0.8" d="M155.2 81.1h1.3v1.3h-1.3zM150.5 88.8h1.3v1.3h-1.3zM130.8 99.7h1.3v1.3h-1.3zM129.7 100.1h1.3v1.3h-1.3zM154.2 80.1h1.3v1.3h-1.3zM153.8 79.8h1.3v1.3h-1.3zM154.4 80.9h1.3v1.3h-1.3zM150.2 89.3h1.3v1.3h-1.3zM154.8 80.1h1.3v1.3h-1.3zM153.5 79.6h1.3v1.3h-1.3z"/><path fill="#004fff" fill-opacity="0.8" d="M154.1 81.5h1.3v1.3h-1.3zM154.0 82.6h1.3v1.3h-1.3zM146.4 78.9h1.3v1.3h-1.3zM152.9 77.8h1.3v1.3h-1.3zM153.2 78.1h1.3v1.3h-1.3zM147.2 77.8h1.3v1.3h-1.3zM146.1 78.7h1.3v1.3h-1.3zM152.1 78.3h1.3v1.3h-1.3zM155.3 81.5h1.3v1.3h-1.3zM154.3 82.1h1.3v1.3h-1.3zM155.1 82.6h1.3v1.3h-1.3zM152.2 79.1h1.3v1.3h-1.3zM145.8 77.9h1.3v1.3h-1.3z"/><path fill="#0058ff" fill-opacity="0.8" d="M118.4 99.7h1.3v1.3h-1.3zM117.4 99.5h1.3v1.3h-1.3zM133.8 98.1h1.3v1.3h-1.3zM134.0 98.4h1.3v1.3h-1.3zM134.1 98.6h1.3v1.3h-1.3zM133.5 98.6h1.3v1.3h-1.3zM134.0 97.4h1.3v1.3h-1.3zM118.1 100.9h1.3v1.3h-1.3zM134.5 97.5h1.3v1.3h-1.3zM118.5 100.2h1.3v1.3h-1.3zM117.7 100.8h1.3v1.3h-1.3zM134.1 98.3h1.3v1.3h-1.3zM119.1 101.0h1.3v1.3h-1.3zM117.4 101.3h1.3v1.3h-1.3z"/><path fill="#0060ff" fill-opacity="0.8" d="M118.2 102.5h1.3v1.3h-1.3zM120.4 96.0h1.3v1.3h-1.3zM120.7 96.8h1.3v1.3h-1.3zM121.1 97.1h1.3v1.3h-1.3zM119.2 103.0h1.3v1.3h-1.3zM119.9 96.4h1.3v1.3h-1.3zM119.5 97.0h1.3v1.3h-1.3z"/><path fill="#0068ff" fill-opacity="0.8" d="M117.9 98.2h1.3v1.3h-1.3zM117.8 98.9h1.3v1.3h-1.3zM117.9 97.6h1.3v1.3h-1.3z"/><path fill="#0071ff" fill-opacity="0.8" d="M136.7 84.1h1.3v1.3h-1.3zM148.9 79.0h1.3v1.3h-1.3zM149.0 79.2h1.3v1.3h-1.3zM147.9 78.5h1.3v1.3h-1.3zM136.9 84.2h1.3v1.3h-1.3zM137.1 84.3h1.3v1.3h-1.3zM147.9 78.6h1.3v1.3h-1.3zM129.2 101.5h1.3v1.3h-1.3zM136.9 85.1h1.3v1.3h-1.3zM135.9 83.8h1.3v1.3h-1.3zM127.4 102.1h1.3v1.3h-1.3zM127.5 102.4h1.3v1.3h-1.3zM148.5 77.5h1.3v1.3h-1.3z"/><path fill="#0079ff" fill-opacity="0.8" d="M140.6 93.6h1.3v1.3h-1.3zM152.3 83.9h1.3v1.3h-1.3zM152.3 85.3h1.3v1.3h-1.3zM150.5 77.8h1.3v1.3h-1.3zM150.0 77.5h1.3v1.3h-1.3zM150.5 79.3h1.3v1.3h-1.3zM152.2 84.5h1.3v1.3h-1.3zM152.2 85.3h1.3v1.3h-1.3zM140.4 93.5h1.3v1.3h-1.3zM153.1 84.7h1.3v1.3h-1.3zM153.3 85.3h1.3v1.3h-1.3zM149.5 78.7h1.3v1.3h-1.3zM140.3 94.0h1.3v1.3h-1.3zM139.5 94.4h1.3v1.3h-1.3zM139.7 93.5h1.3v1.3h-1.3z"/><path fill="#0081ff" fill-opacity="0.8" d="M129.4 89.2h1.3v1.3h-1.3zM142.1 81.0h1.3v1.3h-1.3zM144.6 91.3h1.3v1.3h-1.3zM145.4 89.5h1.3v1.3h-1.3zM144.8 91.2h1.3v1.3h-1.3zM142.5 79.6h1.3v1.3h-1.3zM142.6 80.7h1.3v1.3h-1.3zM146.9 90.6h1.3v1.3h-1.3zM142.2 81.1h1.3v1.3h-1.3zM143.9 90.0h1.3v1.3h-1.3zM130.3 88.7h1.3v1.3h-1.3zM146.1 89.7h1.3v1.3h-1.3zM145.7 90.5h1.3v1.3h-1.3z"/><path fill="#008aff" fill-opacity="0.8" d="M129.2 90.2h1.3v1.3h-1.3zM122.4 103.3h1.3v1.3h-1.3zM128.0 90.3h1.3v1.3h-1.3zM128.3 90.3h1.3v1.3h-1.3zM128.7 90.6h1.3v1.3h-1.3zM123.3 103.2h1.3v1.3h-1.3zM128.7 89.5h1.3v1.3h-1.3zM129.2 89.6h1.3v1.3h-1.3zM128.5 91.0h1.3v1.3h-1.3zM122.8 101.6h1.3v1.3h-1.3z"/><path fill="#0092ff" fill-opacity="0.8" d="M132.1 99.0h1.3v1.3h-1.3zM125.8 91.4h1.3v1.3h-1.3zM120.2 101.9h1.3v1.3h-1.3zM131.8 99.3h1.3v1.3h-1.3zM121.4 97.0h1.3v1.3h-1.3zM127.2 92.2h1.3v1.3h-1.3zM122.3 95.5h1.3v1.3h-1.3zM126.9 91.4h1.3v1.3h-1.3zM132.2 97.9h1.3v1.3h-1.3zM120.4 101.9h1.3v1.3h-1.3zM132.6 97.6h1.3v1.3h-1.3zM122.8 96.6h1.3v1.3h-1.3zM121.0 103.0h1.3v1.3h-1.3zM126.6 92.8h1.3v1.3h-1.3zM120.3 101.7h1.3v1.3h-1.3zM132.2 98.2h1.3v1.3h-1.3zM122.5 96.3h1.3v1.3h-1.3zM120.0 102.2h1.3v1.3h-1.3zM126.7 91.6h1.3v1.3h-1.3z"/><path fill="#009aff" fill-opacity="0.8" d="M126.7 101.5h1.3v1.3h-1.3zM126.2 103.3h1.3v1.3h-1.3zM126.4 103.2h1.3v1.3h-1.3zM126.3 102.2h1.3v1.3h-1.3zM126.7 101.5h1.3v1.3h-1.3zM126.1 102.0h1.3v1.3h-1.3z"/><path fill="#00a3ff" fill-opacity="0.8" d="M135.3 85.6h1.3v1.3h-1.3zM123.1 99.4h1.3v1.3h-1.3zM150.9 85.9h1.3v1.3h-1.3zM141.3 82.8h1.3v1.3h-1.3zM120.7 100.3h1.3v1.3h-1.3zM120.7 100.2h1.3v1.3h-1.3zM134.0 85.5h1.3v1.3h-1.3zM135.0 85.7h1.3v1.3h-1.3zM140.6 82.6h1.3v1.3h-1.3zM150.7 87.3h1.3v1.3h-1.3zM140.1 82.2h1.3v1.3h-1.3zM122.2 100.7h1.3v1.3h-1.3zM121.3 100.3h1.3v1.3h-1.3zM119.8 100.9h1.3v1.3h-1.3zM120.5 99.4h1.3v1.3h-1.3zM150.2 86.6h1.3v1.3h-1.3zM134.5 85.9h1.3v1.3h-1.3zM134.3 87.0h1.3v1.3h-1.3zM122.2 100.3h1.3v1.3h-1.3zM121.6 100.2h1.3v1.3h-1.3zM119.7 99.5h1.3v1.3h-1.3zM150.9 87.0h1.3v1.3h-1.3zM121.0 100.6h1.3v1.3h-1.3zM123.2 100.5h1.3v1.3h-1.3zM150.6 87.2h1.3v1.3h-1.3zM133.8 86.3h1.3v1.3h-1.3zM121.3 100.2h1.3v1.3h-1.3zM120.2 100.6h1.3v1.3h-1.3zM139.9 82.2h1.3v1.3h-1.3zM140.6 82.0h1.3v1.3h-1.3z"/><path fill="#00abff" fill-opacity="0.8" d="M136.4 96.0h1.3v1.3h-1.3zM136.0 95.8h1.3v1.3h-1.3zM136.3 96.4h1.3v1.3h-1.3z"/><path fill="#00b3ff" fill-opacity="0.8" d="M151.9 80.4h1.3v1.3h-1.3zM131.9 89.2h1.3v1.3h-1.3zM123.4 94.5h1.3v1.3h-1.3zM131.4 88.4h1.3v1.3h-1.3zM151.7 80.7h1.3v1.3h-1.3zM152.6 79.6h1.3v1.3h-1.3zM124.5 95.1h1.3v1.3h-1.3zM142.3 91.4h1.3v1.3h-1.3zM151.4 80.4h1.3v1.3h-1.3zM143.1 92.3h1.3v1.3h-1.3zM153.1 80.4h1.3v1.3h-1.3zM132.3 88.1h1.3v1.3h-1.3zM131.5 88.4h1.3v1.3h-1.3zM124.5 94.8h1.3v1.3h-1.3zM123.9 93.7h1.3v1.3h-1.3zM141.7 91.5h1.3v1.3h-1.3z"/><path fill="#00bcff" fill-opacity="0.8" d="M144.0 79.9h1.3v1.3h-1.3zM130.7 98.0h1.3v1.3h-1.3zM124.5 102.5h1.3v1.3h-1.3zM130.4 98.4h1.3v1.3h-1.3zM124.5 103.2h1.3v1.3h-1.3zM124.0 102.6h1.3v1.3h-1.3zM124.5 102.9h1.3v1.3h-1.3zM144.6 79.4h1.3v1.3h-1.3zM130.1 98.2h1.3v1.3h-1.3zM121.3 98.1h1.3v1.3h-1.3zM119.6 98.7h1.3v1.3h-1.3zM120.3 99.0h1.3v1.3h-1.3zM121.1 98.8h1.3v1.3h-1.3zM145.2 81.1h1.3v1.3h-1.3zM129.4 98.9h1.3v1.3h-1.3zM131.0 97.8h1.3v1.3h-1.3zM130.2 99.3h1.3v1.3h-1.3zM123.9 102.0h1.3v1.3h-1.3z"/><path fill="#00c4ff" fill-opacity="0.8" d="M148.5 87.8h1.3v1.3h-1.3zM149.3 87.9h1.3v1.3h-1.3zM147.8 88.0h1.3v1.3h-1.3zM148.3 87.5h1.3v1.3h-1.3zM147.9 88.1h1.3v1.3h-1.3zM147.4 89.0h1.3v1.3h-1.3zM147.6 88.2h1.3v1.3h-1.3zM148.1 88.3h1.3v1.3h-1.3zM148.9 89.3h1.3v1.3h-1.3z"/><path fill="#00cdff" fill-opacity="0.8" d="M122.3 98.6h1.3v1.3h-1.3zM123.3 98.3h1.3v1.3h-1.3zM152.7 81.4h1.3v1.3h-1.3zM146.0 79.5h1.3v1.3h-1.3zM147.1 79.4h1.3v1.3h-1.3zM122.7 98.8h1.3v1.3h-1.3zM122.4 98.6h1.3v1.3h-1.3zM146.4 81.3h1.3v1.3h-1.3zM146.0 81.0h1.3v1.3h-1.3zM122.5 98.9h1.3v1.3h-1.3zM146.3 79.9h1.3v1.3h-1.3zM145.5 81.3h1.3v1.3h-1.3zM152.8 82.6h1.3v1.3h-1.3z"/><path fill="#00ddff" fill-opacity="0.8" d="M150.2 80.9h1.3v1.3h-1.3zM150.6 79.6h1.3v1.3h-1.3zM150.1 81.3h1.3v1.3h-1.3zM150.0 80.0h1.3v1.3h-1.3zM151.3 80.8h1.3v1.3h-1.3zM150.0 80.6h1.3v1.3h-1.3z"/><path fill="#00e6ff" fill-opacity="0.8" d="M138.7 83.5h1.3v1.3h-1.3zM131.2 90.8h1.3v1.3h-1.3zM129.4 91.2h1.3v1.3h-1.3zM131.0 91.2h1.3v1.3h-1.3zM137.5 85.2h1.3v1.3h-1.3zM130.2 90.7h1.3v1.3h-1.3zM130.2 90.5h1.3v1.3h-1.3zM131.3 90.6h1.3v1.3h-1.3zM137.9 84.5h1.3v1.3h-1.3zM139.2 85.1h1.3v1.3h-1.3zM129.6 91.0h1.3v1.3h-1.3z"/><path fill="#00eeff" fill-opacity="0.8" d="M138.7 95.1h1.3v1.3h-1.3zM138.7 94.9h1.3v1.3h-1.3zM138.3 93.8h1.3v1.3h-1.3zM137.6 94.9h1.3v1.3h-1.3zM137.9 94.1h1.3v1.3h-1.3z"/><path fill="#00f6ff" fill-opacity="0.8" d="M151.0 82.5h1.3v1.3h-1.3zM149.9 84.3h1.3v1.3h-1.3zM146.8 82.1h1.3v1.3h-1.3zM149.4 81.4h1.3v1.3h-1.3zM151.0 81.8h1.3v1.3h-1.3zM150.6 84.3h1.3v1.3h-1.3zM128.8 92.1h1.3v1.3h-1.3zM151.3 81.8h1.3v1.3h-1.3zM146.2 82.7h1.3v1.3h-1.3zM149.8 83.3h1.3v1.3h-1.3zM150.6 81.9h1.3v1.3h-1.3zM128.8 92.5h1.3v1.3h-1.3zM146.6 83.3h1.3v1.3h-1.3zM146.2 82.7h1.3v1.3h-1.3zM150.4 81.7h1.3v1.3h-1.3zM151.3 82.1h1.3v1.3h-1.3zM150.9 82.4h1.3v1.3h-1.3zM147.1 83.0h1.3v1.3h-1.3zM149.5 83.2h1.3v1.3h-1.3zM149.7 84.0h1.3v1.3h-1.3zM127.5 91.7h1.3v1.3h-1.3zM146.7 81.8h1.3v1.3h-1.3zM129.0 91.4h1.3v1.3h-1.3zM149.4 83.8h1.3v1.3h-1.3zM150.1 81.7h1.3v1.3h-1.3zM150.7 84.4h1.3v1.3h-1.3z"/><path fill="#00fffe" fill-opacity="0.8" d="M148.4 86.9h1.3v1.3h-1.3zM148.1 85.9h1.3v1.3h-1.3zM148.8 86.2h1.3v1.3h-1.3zM142.0 82.8h1.3v1.3h-1.3zM142.4 83.1h1.3v1.3h-1.3zM141.6 83.1h1.3v1.3h-1.3zM147.7 86.9h1.3v1.3h-1.3zM149.2 86.3h1.3v1.3h-1.3zM141.5 82.8h1.3v1.3h-1.3zM142.5 83.1h1.3v1.3h-1.3zM148.9 86.2h1.3v1.3h-1.3zM148.0 86.2h1.3v1.3h-1.3zM141.8 83.2h1.3v1.3h-1.3zM149.0 87.1h1.3v1.3h-1.3zM142.5 83.2h1.3v1.3h-1.3zM142.5 83.0h1.3v1.3h-1.3zM147.9 85.4h1.3v1.3h-1.3zM142.8 81.5h1.3v1.3h-1.3z"/><path fill="#08fff6" fill-opacity="0.8" d="M125.0 96.9h1.3v1.3h-1.3zM124.4 96.9h1.3v1.3h-1.3zM124.7 97.0h1.3v1.3h-1.3zM124.5 95.4h1.3v1.3h-1.3zM123.5 96.3h1.3v1.3h-1.3zM149.1 80.5h1.3v1.3h-1.3zM124.2 96.3h1.3v1.3h-1.3zM124.2 97.1h1.3v1.3h-1.3zM125.2 95.6h1.3v1.3h-1.3zM148.5 79.7h1.3v1.3h-1.3zM147.7 79.8h1.3v1.3h-1.3zM148.8 81.3h1.3v1.3h-1.3zM125.0 97.1h1.3v1.3h-1.3z"/><path fill="#10ffee" fill-opacity="0.8" d="M133.1 89.7h1.3v1.3h-1.3zM133.1 91.2h1.3v1.3h-1.3zM131.9 91.2h1.3v1.3h-1.3zM132.2 89.9h1.3v1.3h-1.3zM131.4 90.9h1.3v1.3h-1.3zM133.1 91.2h1.3v1.3h-1.3zM132.1 90.0h1.3v1.3h-1.3zM131.4 90.8h1.3v1.3h-1.3zM132.6 90.9h1.3v1.3h-1.3zM133.3 90.8h1.3v1.3h-1.3z"/><path fill="#19ffe5" fill-opacity="0.8" d="M148.9 82.5h1.3v1.3h-1.3zM148.4 82.1h1.3v1.3h-1.3zM133.7 95.9h1.3v1.3h-1.3zM148.8 82.1h1.3v1.3h-1.3zM144.7 82.8h1.3v1.3h-1.3zM144.8 83.3h1.3v1.3h-1.3zM145.2 81.6h1.3v1.3h-1.3zM133.8 96.7h1.3v1.3h-1.3zM127.5 100.2h1.3v1.3h-1.3zM149.3 83.2h1.3v1.3h-1.3zM134.9 97.1h1.3v1.3h-1.3zM135.3 95.9h1.3v1.3h-1.3zM127.4 100.6h1.3v1.3h-1.3zM143.5 81.4h1.3v1.3h-1.3zM149.3 82.9h1.3v1.3h-1.3zM133.6 95.6h1.3v1.3h-1.3zM148.0 82.9h1.3v1.3h-1.3zM143.4 81.7h1.3v1.3h-1.3zM128.2 101.1h1.3v1.3h-1.3zM148.6 82.9h1.3v1.3h-1.3zM135.2 97.3h1.3v1.3h-1.3zM148.9 83.1h1.3v1.3h-1.3zM133.7 97.1h1.3v1.3h-1.3zM129.1 101.2h1.3v1.3h-1.3zM134.4 95.5h1.3v1.3h-1.3zM143.4 82.9h1.3v1.3h-1.3zM148.2 82.9h1.3v1.3h-1.3zM144.2 82.3h1.3v1.3h-1.3zM133.7 95.4h1.3v1.3h-1.3z"/><path fill="#21ffdd" fill-opacity="0.8" d="M126.7 93.6h1.3v1.3h-1.3zM140.3 92.4h1.3v1.3h-1.3zM126.5 94.6h1.3v1.3h-1.3zM140.1 92.4h1.3v1.3h-1.3zM126.9 94.5h1.3v1.3h-1.3zM124.6 100.8h1.3v1.3h-1.3zM127.1 94.8h1.3v1.3h-1.3zM140.4 92.7h1.3v1.3h-1.3zM126.7 93.5h1.3v1.3h-1.3zM140.2 91.7h1.3v1.3h-1.3zM124.1 100.5h1.3v1.3h-1.3zM139.5 93.0h1.3v1.3h-1.3zM125.2 99.5h1.3v1.3h-1.3zM140.3 91.9h1.3v1.3h-1.3z"/><path fill="#29ffd5" fill-opacity="0.8" d="M127.3 100.1h1.3v1.3h-1.3zM126.8 101.3h1.3v1.3h-1.3zM126.6 100.0h1.3v1.3h-1.3zM126.0 101.2h1.3v1.3h-1.3zM126.7 100.2h1.3v1.3h-1.3zM126.9 100.8h1.3v1.3h-1.3zM126.5 101.3h1.3v1.3h-1.3zM125.9 99.7h1.3v1.3h-1.3zM126.4 99.9h1.3v1.3h-1.3zM126.6 100.4h1.3v1.3h-1.3zM126.0 100.0h1.3v1.3h-1.3zM125.9 99.9h1.3v1.3h-1.3zM126.6 99.7h1.3v1.3h-1.3zM125.9 100.3h1.3v1.3h-1.3zM126.9 100.2h1.3v1.3h-1.3zM127.2 100.9h1.3v1.3h-1.3zM127.1 100.5h1.3v1.3h-1.3zM126.8 99.5h1.3v1.3h-1.3z"/><path fill="#32ffcc" fill-opacity="0.8" d="M141.5 89.4h1.3v1.3h-1.3zM143.3 90.6h1.3v1.3h-1.3zM142.0 90.9h1.3v1.3h-1.3zM141.5 90.4h1.3v1.3h-1.3zM142.0 90.4h1.3v1.3h-1.3z"/><path fill="#3affc4" fill-opacity="0.8" d="M145.3 88.4h1.3v1.3h-1.3zM133.3 96.8h1.3v1.3h-1.3zM143.6 87.8h1.3v1.3h-1.3zM132.3 97.1h1.3v1.3h-1.3zM144.1 88.6h1.3v1.3h-1.3zM143.6 87.4h1.3v1.3h-1.3zM131.9 96.0h1.3v1.3h-1.3zM144.8 88.1h1.3v1.3h-1.3zM144.8 88.4h1.3v1.3h-1.3zM131.5 95.7h1.3v1.3h-1.3zM132.3 96.7h1.3v1.3h-1.3zM144.5 87.4h1.3v1.3h-1.3zM131.9 96.2h1.3v1.3h-1.3zM145.1 87.5h1.3v1.3h-1.3z"/><path fill="#43ffbb" fill-opacity="0.8" d="M136.5 95.1h1.3v1.3h-1.3zM135.8 87.0h1.3v1.3h-1.3zM135.9 93.4h1.3v1.3h-1.3zM136.5 86.4h1.3v1.3h-1.3zM127.6 94.6h1.3v1.3h-1.3zM137.3 94.2h1.3v1.3h-1.3zM136.5 93.8h1.3v1.3h-1.3zM137.3 93.4h1.3v1.3h-1.3zM134.7 89.3h1.3v1.3h-1.3zM128.8 93.5h1.3v1.3h-1.3zM147.0 88.7h1.3v1.3h-1.3zM146.6 88.8h1.3v1.3h-1.3zM135.0 89.3h1.3v1.3h-1.3zM135.9 87.0h1.3v1.3h-1.3zM129.1 94.5h1.3v1.3h-1.3zM146.2 89.0h1.3v1.3h-1.3zM129.3 94.8h1.3v1.3h-1.3zM135.3 88.4h1.3v1.3h-1.3zM135.6 95.3h1.3v1.3h-1.3zM145.5 88.5h1.3v1.3h-1.3zM136.1 94.5h1.3v1.3h-1.3zM145.7 87.4h1.3v1.3h-1.3zM128.8 95.2h1.3v1.3h-1.3zM128.1 94.5h1.3v1.3h-1.3zM128.6 94.5h1.3v1.3h-1.3zM136.9 87.1h1.3v1.3h-1.3zM136.8 85.8h1.3v1.3h-1.3zM136.4 87.1h1.3v1.3h-1.3zM128.9 94.7h1.3v1.3h-1.3zM135.5 94.6h1.3v1.3h-1.3zM136.7 94.2h1.3v1.3h-1.3zM127.9 93.6h1.3v1.3h-1.3zM136.4 87.1h1.3v1.3h-1.3z"/><path fill="#4bffb3" fill-opacity="0.8" d="M129.4 95.8h1.3v1.3h-1.3zM129.6 93.6h1.3v1.3h-1.3zM129.5 95.3h1.3v1.3h-1.3zM130.2 94.5h1.3v1.3h-1.3zM129.8 94.8h1.3v1.3h-1.3zM130.9 95.6h1.3v1.3h-1.3zM130.8 95.7h1.3v1.3h-1.3zM129.6 95.8h1.3v1.3h-1.3zM129.6 93.4h1.3v1.3h-1.3zM130.3 95.3h1.3v1.3h-1.3zM131.0 95.1h1.3v1.3h-1.3z"/><path fill="#53ffab" fill-opacity="0.8" d="M132.8 94.4h1.3v1.3h-1.3zM131.5 93.7h1.3v1.3h-1.3zM132.5 93.4h1.3v1.3h-1.3zM147.6 83.7h1.3v1.3h-1.3zM147.8 84.2h1.3v1.3h-1.3zM132.1 94.0h1.3v1.3h-1.3zM131.8 93.4h1.3v1.3h-1.3zM148.3 84.7h1.3v1.3h-1.3zM147.5 83.9h1.3v1.3h-1.3zM132.9 95.3h1.3v1.3h-1.3zM131.5 94.4h1.3v1.3h-1.3zM148.2 84.8h1.3v1.3h-1.3zM132.5 95.1h1.3v1.3h-1.3zM131.5 94.7h1.3v1.3h-1.3z"/><path fill="#5cffa2" fill-opacity="0.8" d="M140.2 84.1h1.3v1.3h-1.3zM140.2 84.4h1.3v1.3h-1.3zM139.5 84.9h1.3v1.3h-1.3zM139.7 84.3h1.3v1.3h-1.3zM140.3 85.1h1.3v1.3h-1.3zM141.1 83.9h1.3v1.3h-1.3zM140.7 85.0h1.3v1.3h-1.3z"/><path fill="#6cff92" fill-opacity="0.8" d="M134.9 94.3h1.3v1.3h-1.3zM131.1 93.3h1.3v1.3h-1.3zM134.5 95.2h1.3v1.3h-1.3zM131.2 91.9h1.3v1.3h-1.3zM133.4 95.0h1.3v1.3h-1.3zM130.5 92.9h1.3v1.3h-1.3zM135.2 95.2h1.3v1.3h-1.3zM133.4 93.7h1.3v1.3h-1.3zM130.2 93.0h1.3v1.3h-1.3zM135.1 94.0h1.3v1.3h-1.3zM133.5 94.2h1.3v1.3h-1.3zM130.4 92.8h1.3v1.3h-1.3zM129.8 92.5h1.3v1.3h-1.3zM135.3 93.9h1.3v1.3h-1.3zM129.8 91.7h1.3v1.3h-1.3z"/><path fill="#75ff89" fill-opacity="0.8" d="M127.6 96.6h1.3v1.3h-1.3zM125.8 96.3h1.3v1.3h-1.3zM126.0 95.8h1.3v1.3h-1.3zM127.0 96.4h1.3v1.3h-1.3zM127.2 96.3h1.3v1.3h-1.3zM126.0 96.4h1.3v1.3h-1.3zM124.8 99.0h1.3v1.3h-1.3zM126.5 97.0h1.3v1.3h-1.3zM126.3 95.6h1.3v1.3h-1.3zM128.3 96.5h1.3v1.3h-1.3zM125.2 98.3h1.3v1.3h-1.3zM125.8 96.1h1.3v1.3h-1.3zM127.1 95.4h1.3v1.3h-1.3zM127.8 96.1h1.3v1.3h-1.3zM126.8 96.2h1.3v1.3h-1.3zM128.1 95.5h1.3v1.3h-1.3zM128.3 96.2h1.3v1.3h-1.3zM128.2 95.8h1.3v1.3h-1.3zM123.6 98.8h1.3v1.3h-1.3zM127.7 97.0h1.3v1.3h-1.3zM128.8 95.8h1.3v1.3h-1.3zM128.8 95.4h1.3v1.3h-1.3zM128.6 95.7h1.3v1.3h-1.3zM126.7 95.9h1.3v1.3h-1.3zM124.2 99.2h1.3v1.3h-1.3z"/><path fill="#7dff81" fill-opacity="0.8" d="M133.9 89.7h1.3v1.3h-1.3zM133.6 90.5h1.3v1.3h-1.3zM134.6 90.9h1.3v1.3h-1.3zM133.6 91.3h1.3v1.3h-1.3zM133.4 90.9h1.3v1.3h-1.3zM135.1 91.0h1.3v1.3h-1.3zM133.9 90.4h1.3v1.3h-1.3zM134.4 91.1h1.3v1.3h-1.3zM133.7 90.3h1.3v1.3h-1.3z"/><path fill="#85ff79" fill-opacity="0.8" d="M147.3 86.6h1.3v1.3h-1.3zM146.1 87.2h1.3v1.3h-1.3zM145.7 85.8h1.3v1.3h-1.3zM145.5 84.3h1.3v1.3h-1.3zM146.0 87.1h1.3v1.3h-1.3zM145.4 86.8h1.3v1.3h-1.3zM146.8 86.4h1.3v1.3h-1.3zM147.1 85.5h1.3v1.3h-1.3zM146.9 84.8h1.3v1.3h-1.3zM146.7 84.5h1.3v1.3h-1.3zM146.7 84.1h1.3v1.3h-1.3zM147.0 87.0h1.3v1.3h-1.3zM146.9 84.9h1.3v1.3h-1.3zM146.4 87.0h1.3v1.3h-1.3z"/><path fill="#8eff70" fill-opacity="0.8" d="M137.2 92.3h1.3v1.3h-1.3zM145.1 86.7h1.3v1.3h-1.3zM143.5 86.7h1.3v1.3h-1.3zM132.3 92.8h1.3v1.3h-1.3zM144.9 86.3h1.3v1.3h-1.3zM131.7 92.7h1.3v1.3h-1.3zM127.8 98.4h1.3v1.3h-1.3zM144.2 86.1h1.3v1.3h-1.3zM135.7 92.6h1.3v1.3h-1.3zM128.1 98.1h1.3v1.3h-1.3zM136.0 91.6h1.3v1.3h-1.3zM128.1 98.5h1.3v1.3h-1.3zM144.1 87.3h1.3v1.3h-1.3zM137.2 91.6h1.3v1.3h-1.3zM128.5 98.3h1.3v1.3h-1.3zM132.7 91.9h1.3v1.3h-1.3zM128.7 97.5h1.3v1.3h-1.3zM143.6 85.5h1.3v1.3h-1.3zM136.3 93.1h1.3v1.3h-1.3zM145.1 86.7h1.3v1.3h-1.3zM136.7 92.2h1.3v1.3h-1.3zM144.2 86.4h1.3v1.3h-1.3zM132.1 92.0h1.3v1.3h-1.3zM143.4 87.2h1.3v1.3h-1.3zM132.7 92.2h1.3v1.3h-1.3zM144.4 86.3h1.3v1.3h-1.3zM133.3 92.0h1.3v1.3h-1.3zM135.4 91.7h1.3v1.3h-1.3zM128.7 97.6h1.3v1.3h-1.3zM131.6 92.7h1.3v1.3h-1.3zM144.6 86.5h1.3v1.3h-1.3zM128.7 97.9h1.3v1.3h-1.3zM135.4 92.5h1.3v1.3h-1.3zM135.4 92.7h1.3v1.3h-1.3zM145.2 85.8h1.3v1.3h-1.3z"/><path fill="#96ff68" fill-opacity="0.8" d="M136.8 87.6h1.3v1.3h-1.3zM136.5 88.8h1.3v1.3h-1.3zM137.0 88.1h1.3v1.3h-1.3zM137.2 88.4h1.3v1.3h-1.3zM136.4 88.6h1.3v1.3h-1.3zM136.1 87.5h1.3v1.3h-1.3zM135.9 88.1h1.3v1.3h-1.3zM136.9 88.5h1.3v1.3h-1.3zM136.3 88.3h1.3v1.3h-1.3zM136.2 87.8h1.3v1.3h-1.3zM135.9 87.9h1.3v1.3h-1.3z"/><path fill="#9eff60" fill-opacity="0.8" d="M137.4 92.0h1.3v1.3h-1.3zM138.2 91.4h1.3v1.3h-1.3zM138.6 92.1h1.3v1.3h-1.3zM138.1 91.6h1.3v1.3h-1.3zM139.1 92.8h1.3v1.3h-1.3zM138.3 91.9h1.3v1.3h-1.3zM138.2 92.0h1.3v1.3h-1.3zM138.4 92.4h1.3v1.3h-1.3zM137.5 93.2h1.3v1.3h-1.3zM137.4 91.4h1.3v1.3h-1.3zM139.0 91.5h1.3v1.3h-1.3z"/><path fill="#a7ff57" fill-opacity="0.8" d="M145.1 84.5h1.3v1.3h-1.3zM143.6 84.7h1.3v1.3h-1.3zM144.8 84.8h1.3v1.3h-1.3zM143.4 83.9h1.3v1.3h-1.3zM144.6 85.3h1.3v1.3h-1.3zM143.8 83.5h1.3v1.3h-1.3zM144.4 85.0h1.3v1.3h-1.3zM144.4 84.0h1.3v1.3h-1.3z"/><path fill="#afff4f" fill-opacity="0.8" d="M126.4 97.9h1.3v1.3h-1.3zM126.3 97.4h1.3v1.3h-1.3zM126.3 98.0h1.3v1.3h-1.3zM125.6 99.2h1.3v1.3h-1.3zM126.3 98.4h1.3v1.3h-1.3zM127.1 97.6h1.3v1.3h-1.3zM125.7 99.1h1.3v1.3h-1.3zM126.8 97.9h1.3v1.3h-1.3zM125.9 98.6h1.3v1.3h-1.3z"/><path fill="#c0ff3e" fill-opacity="0.8" d="M140.4 90.3h1.3v1.3h-1.3zM134.2 92.9h1.3v1.3h-1.3zM139.8 89.7h1.3v1.3h-1.3zM139.9 90.4h1.3v1.3h-1.3zM133.6 92.7h1.3v1.3h-1.3zM140.9 90.8h1.3v1.3h-1.3zM141.3 91.2h1.3v1.3h-1.3zM135.1 92.7h1.3v1.3h-1.3zM139.8 89.8h1.3v1.3h-1.3zM140.8 90.6h1.3v1.3h-1.3zM141.2 90.4h1.3v1.3h-1.3zM140.4 90.9h1.3v1.3h-1.3zM134.9 92.0h1.3v1.3h-1.3zM141.0 90.1h1.3v1.3h-1.3zM133.6 92.6h1.3v1.3h-1.3zM139.6 89.6h1.3v1.3h-1.3zM139.7 89.9h1.3v1.3h-1.3zM134.4 91.7h1.3v1.3h-1.3zM140.8 89.8h1.3v1.3h-1.3zM134.1 92.2h1.3v1.3h-1.3zM141.3 90.8h1.3v1.3h-1.3zM140.3 90.8h1.3v1.3h-1.3z"/><path fill="#d1ff2d" fill-opacity="0.8" d="M142.5 83.9h1.3v1.3h-1.3zM141.7 84.0h1.3v1.3h-1.3zM136.5 91.3h1.3v1.3h-1.3zM137.3 89.6h1.3v1.3h-1.3zM136.5 90.2h1.3v1.3h-1.3zM135.6 90.5h1.3v1.3h-1.3zM141.5 83.6h1.3v1.3h-1.3zM136.5 91.2h1.3v1.3h-1.3zM143.1 85.3h1.3v1.3h-1.3zM142.5 85.2h1.3v1.3h-1.3zM137.2 90.7h1.3v1.3h-1.3zM136.1 89.4h1.3v1.3h-1.3zM143.0 83.6h1.3v1.3h-1.3zM136.1 90.4h1.3v1.3h-1.3zM137.2 89.9h1.3v1.3h-1.3zM142.8 84.2h1.3v1.3h-1.3zM142.7 84.3h1.3v1.3h-1.3zM141.5 85.3h1.3v1.3h-1.3z"/><path fill="#e1ff1d" fill-opacity="0.8" d="M138.8 86.1h1.3v1.3h-1.3zM139.1 86.0h1.3v1.3h-1.3zM137.4 87.3h1.3v1.3h-1.3zM137.5 86.0h1.3v1.3h-1.3zM138.4 87.2h1.3v1.3h-1.3zM137.9 87.3h1.3v1.3h-1.3zM139.0 87.2h1.3v1.3h-1.3z"/><path fill="#eaff14" fill-opacity="0.8" d="M141.9 88.7h1.3v1.3h-1.3zM143.2 88.6h1.3v1.3h-1.3zM140.4 86.4h1.3v1.3h-1.3zM141.2 85.5h1.3v1.3h-1.3zM140.3 87.1h1.3v1.3h-1.3zM141.1 86.1h1.3v1.3h-1.3zM140.8 87.3h1.3v1.3h-1.3zM141.1 86.9h1.3v1.3h-1.3zM140.0 86.6h1.3v1.3h-1.3zM142.2 87.6h1.3v1.3h-1.3zM140.5 85.6h1.3v1.3h-1.3zM140.1 86.7h1.3v1.3h-1.3zM141.0 85.5h1.3v1.3h-1.3zM140.1 85.8h1.3v1.3h-1.3zM143.3 88.6h1.3v1.3h-1.3zM139.9 85.8h1.3v1.3h-1.3zM140.1 86.1h1.3v1.3h-1.3zM142.5 87.4h1.3v1.3h-1.3zM141.7 89.2h1.3v1.3h-1.3z"/><path fill="#f2ff0c" fill-opacity="0.8" d="M141.8 86.4h1.3v1.3h-1.3zM143.0 86.0h1.3v1.3h-1.3zM141.8 87.3h1.3v1.3h-1.3zM142.6 86.2h1.3v1.3h-1.3zM142.7 86.6h1.3v1.3h-1.3zM143.1 86.4h1.3v1.3h-1.3zM142.1 85.8h1.3v1.3h-1.3zM141.9 86.6h1.3v1.3h-1.3zM143.2 87.0h1.3v1.3h-1.3z"/><path fill="#fff200" fill-opacity="0.8" d="M139.4 88.6h1.3v1.3h-1.3zM139.9 89.1h1.3v1.3h-1.3zM140.3 88.6h1.3v1.3h-1.3zM139.4 88.0h1.3v1.3h-1.3zM141.0 88.8h1.3v1.3h-1.3zM139.7 89.2h1.3v1.3h-1.3zM141.1 87.7h1.3v1.3h-1.3zM139.6 88.9h1.3v1.3h-1.3zM139.7 89.0h1.3v1.3h-1.3zM140.7 88.9h1.3v1.3h-1.3zM139.9 88.7h1.3v1.3h-1.3z"/><path fill="#ffc000" fill-opacity="0.8" d="M138.6 91.3h1.3v1.3h-1.3zM139.2 90.0h1.3v1.3h-1.3zM138.1 89.8h1.3v1.3h-1.3zM137.5 90.7h1.3v1.3h-1.3z"/><path fill="#ffb700" fill-opacity="0.8" d="M139.0 89.0h1.3v1.3h-1.3zM137.4 87.6h1.3v1.3h-1.3zM139.2 88.8h1.3v1.3h-1.3zM138.1 87.6h1.3v1.3h-1.3zM139.1 87.9h1.3v1.3h-1.3zM138.7 88.8h1.3v1.3h-1.3zM138.9 89.2h1.3v1.3h-1.3zM137.6 87.8h1.3v1.3h-1.3zM138.7 88.3h1.3v1.3h-1.3zM138.5 88.2h1.3v1.3h-1.3zM139.2 89.2h1.3v1.3h-1.3zM137.5 88.6h1.3v1.3h-1.3zM138.0 88.1h1.3v1.3h-1.3zM139.2 87.9h1.3v1.3h-1.3zM138.0 87.8h1.3v1.3h-1.3zM138.3 88.8h1.3v1.3h-1.3z"/></g><path d="M80 30.6 H314.2" stroke="#4a4a4a" stroke-width="1.25" fill="none"/><path d="M314.2 30.6 V264.3" stroke="#555" stroke-width="1.3" fill="none"/><path d="M80 30.6 V264.3" stroke="#5a5a5a" stroke-width="1.35" fill="none"/><path d="M80 264.3 H314.2" stroke="#1e1e1e" stroke-width="1.1" fill="none"/><path d="M172.6 30.6 V270.3 M73 123.1 H314.2" stroke="#000" stroke-width="2" fill="none"/><path d="M73 263.0 H80.5 M80.2 264 V270.5 M73 216.3 H80.5 M126.3 264 V270.5 M73 169.5 H80.5 M172.6 264 V270.5 M73 123.1 H80.5 M219.0 264 V270.5 M73 76.9 H80.5 M265.7 264 V270.5 M73 31.2 H80.5 M313.0 264 V270.5" stroke="#000" stroke-width="1.7" fill="none"/><path d="M77.2 248.9 H80 M94.4 264.3 V267.4 M77.2 240.7 H80 M102.5 264.3 V267.4 M77.2 234.9 H80 M108.3 264.3 V267.4 M75.6 230.4 H80 M112.7 264.3 V268.9 M77.2 226.7 H80 M116.4 264.3 V267.4 M77.2 223.5 H80 M119.5 264.3 V267.4 M77.2 220.8 H80 M122.1 264.3 V267.4 M77.2 218.4 H80 M124.5 264.3 V267.4 M77.2 202.2 H80 M140.5 264.3 V267.4 M77.2 194.0 H80 M148.7 264.3 V267.4 M77.2 188.1 H80 M154.5 264.3 V267.4 M75.6 183.6 H80 M159.0 264.3 V268.9 M77.2 179.9 H80 M162.6 264.3 V267.4 M77.2 176.7 H80 M165.7 264.3 V267.4 M77.2 174.0 H80 M168.4 264.3 V267.4 M77.2 171.6 H80 M170.8 264.3 V267.4 M77.2 155.5 H80 M186.9 264.3 V267.4 M77.2 147.4 H80 M195.0 264.3 V267.4 M77.2 141.6 H80 M200.8 264.3 V267.4 M75.6 137.1 H80 M205.3 264.3 V268.9 M77.2 133.4 H80 M209.0 264.3 V267.4 M77.2 130.3 H80 M212.1 264.3 V267.4 M77.2 127.6 H80 M214.8 264.3 V267.4 M77.2 125.2 H80 M217.2 264.3 V267.4 M77.2 109.2 H80 M233.4 264.3 V267.4 M77.2 101.1 H80 M241.6 264.3 V267.4 M77.2 95.3 H80 M247.4 264.3 V267.4 M75.6 90.8 H80 M251.9 264.3 V268.9 M77.2 87.1 H80 M255.6 264.3 V267.4 M77.2 84.1 H80 M258.8 264.3 V267.4 M77.2 81.4 H80 M261.5 264.3 V267.4 M77.2 79.0 H80 M263.9 264.3 V267.4 M77.2 63.1 H80 M280.2 264.3 V267.4 M77.2 55.1 H80 M288.6 264.3 V267.4 M77.2 49.4 H80 M294.5 264.3 V267.4 M75.6 45.0 H80 M299.1 264.3 V268.9 M77.2 41.3 H80 M302.8 264.3 V267.4 M77.2 38.3 H80 M306.0 264.3 V267.4 M77.2 35.6 H80 M308.7 264.3 V267.4 M77.2 33.3 H80 M311.1 264.3 V267.4" stroke="#111" stroke-width="1.2" fill="none"/><g font-size="8.8" fill="#2a2a2a" stroke="#2a2a2a" stroke-width="0.3"><text x="62.9" y="262.9" text-anchor="end">10</text><text x="63.6" y="255.6">0</text><text x="85.4" y="292.3">10</text><text x="95.3" y="284.6">0</text><text x="62.9" y="223.8" text-anchor="end">10</text><text x="63.6" y="216.7">1</text><text x="122.7" y="292.3">10</text><text x="132.6" y="284.6">1</text><text x="62.9" y="177.0" text-anchor="end">10</text><text x="63.6" y="169.9">2</text><text x="169.0" y="292.3">10</text><text x="178.9" y="284.6">2</text><text x="62.9" y="130.6" text-anchor="end">10</text><text x="63.6" y="123.5">3</text><text x="215.4" y="292.3">10</text><text x="225.3" y="284.6">3</text><text x="62.9" y="84.4" text-anchor="end">10</text><text x="63.6" y="77.3">4</text><text x="262.1" y="292.3">10</text><text x="272.0" y="284.6">4</text><text x="62.9" y="47.5" text-anchor="end">10</text><text x="63.6" y="39.8">5</text><text x="297.8" y="292.3">10</text><text x="307.7" y="284.6">5</text></g><g font-weight="700" font-size="12.2" fill="#FF0000" stroke="#FF0000" stroke-width="0.35"><text x="93.2" y="51.1">Q1</text><text x="93.2" y="67.7">0%</text><text x="300" y="51.1" text-anchor="end">Q2</text><text x="300" y="67.7" text-anchor="end">36.6%</text><text x="93.2" y="236">Q4</text><text x="93.2" y="252.7">7.43%</text><text x="300" y="236" text-anchor="end">Q3</text><text x="300" y="252.7" text-anchor="end">56.0%</text></g></g><text x="478.8" y="341.90000000000003" font-weight="700" font-size="21.5" fill="#000">24 hour</text>
<text x="84" y="713.8" font-weight="700" font-size="15" fill="#000">b</text>
<path d="M140.6 724.2 V942.0 H467.5 V724.2 M134.5 942.0 H140.6 M134.5 898.4 H140.6 M134.5 854.9 H140.6 M134.5 811.3 H140.6 M134.5 767.8 H140.6 M134.5 724.2 H140.6 M467.5 942.0 H473.5 M467.5 887.5 H473.5 M467.5 833.1 H473.5 M467.5 778.7 H473.5 M467.5 724.2 H473.5 M181.2 942.0 V948 M262.8 942.0 V948 M344.5 942.0 V948 M426.2 942.0 V948" stroke="#000" stroke-width="2.6" fill="none" stroke-linecap="butt"/>
<g font-weight="700" font-size="16" fill="#000"><text x="131.8" y="947.7" text-anchor="end">0</text><text x="131.8" y="904.1" text-anchor="end">20</text><text x="131.8" y="860.6" text-anchor="end">40</text><text x="131.8" y="817.0" text-anchor="end">60</text><text x="131.8" y="773.5" text-anchor="end">80</text><text x="131.8" y="729.9" text-anchor="end">100</text><text x="477.8" y="947.7">0</text><text x="477.8" y="893.2">20</text><text x="477.8" y="838.8">40</text><text x="477.8" y="784.4">60</text><text x="477.8" y="729.9">80</text><text x="181.2" y="965.8" text-anchor="middle">0</text><text x="262.8" y="965.8" text-anchor="middle">6</text><text x="344.5" y="965.8" text-anchor="middle">12</text><text x="426.2" y="965.8" text-anchor="middle">24</text></g>
<text x="282.8" y="989.8" font-weight="700" font-size="18" fill="#000">hour</text>
<polyline points="181.2,759.9 262.8,774.1 344.5,840.7 426.2,862.3" fill="none" stroke="#FF0000" stroke-width="2.6"/>
<polyline points="181.2,915.0 262.8,888.1 344.5,823.0 426.2,789.5" fill="none" stroke="#0000FF" stroke-width="2.6"/>
<rect x="176.7" y="755.4" width="9" height="9" fill="#FF0000"/>
<rect x="258.3" y="769.6" width="9" height="9" fill="#FF0000"/>
<rect x="340.0" y="836.2" width="9" height="9" fill="#FF0000"/>
<rect x="421.7" y="857.8" width="9" height="9" fill="#FF0000"/>
<circle cx="181.2" cy="915.0" r="4.6" fill="#0000FF"/>
<circle cx="262.8" cy="888.1" r="4.6" fill="#0000FF"/>
<circle cx="344.5" cy="823.0" r="4.6" fill="#0000FF"/>
<circle cx="426.2" cy="789.5" r="4.6" fill="#0000FF"/>
<g font-weight="700" font-size="18" fill="#FF0000" text-anchor="middle"><text transform="translate(65,832.6) rotate(-90)" textLength="126.5" lengthAdjust="spacingAndGlyphs">membrane DiD</text><text transform="translate(86,832.2) rotate(-90)" textLength="81" lengthAdjust="spacingAndGlyphs">(% of Q2)</text></g>
<g font-weight="700" font-size="18" fill="#0000FF" text-anchor="middle"><text transform="translate(523.9,831) rotate(-90)" textLength="135.5" lengthAdjust="spacingAndGlyphs">internalized DiD</text><text transform="translate(545,830.7) rotate(-90)" textLength="79" lengthAdjust="spacingAndGlyphs">(% of Q3)</text></g>
</svg>
</body></html>
